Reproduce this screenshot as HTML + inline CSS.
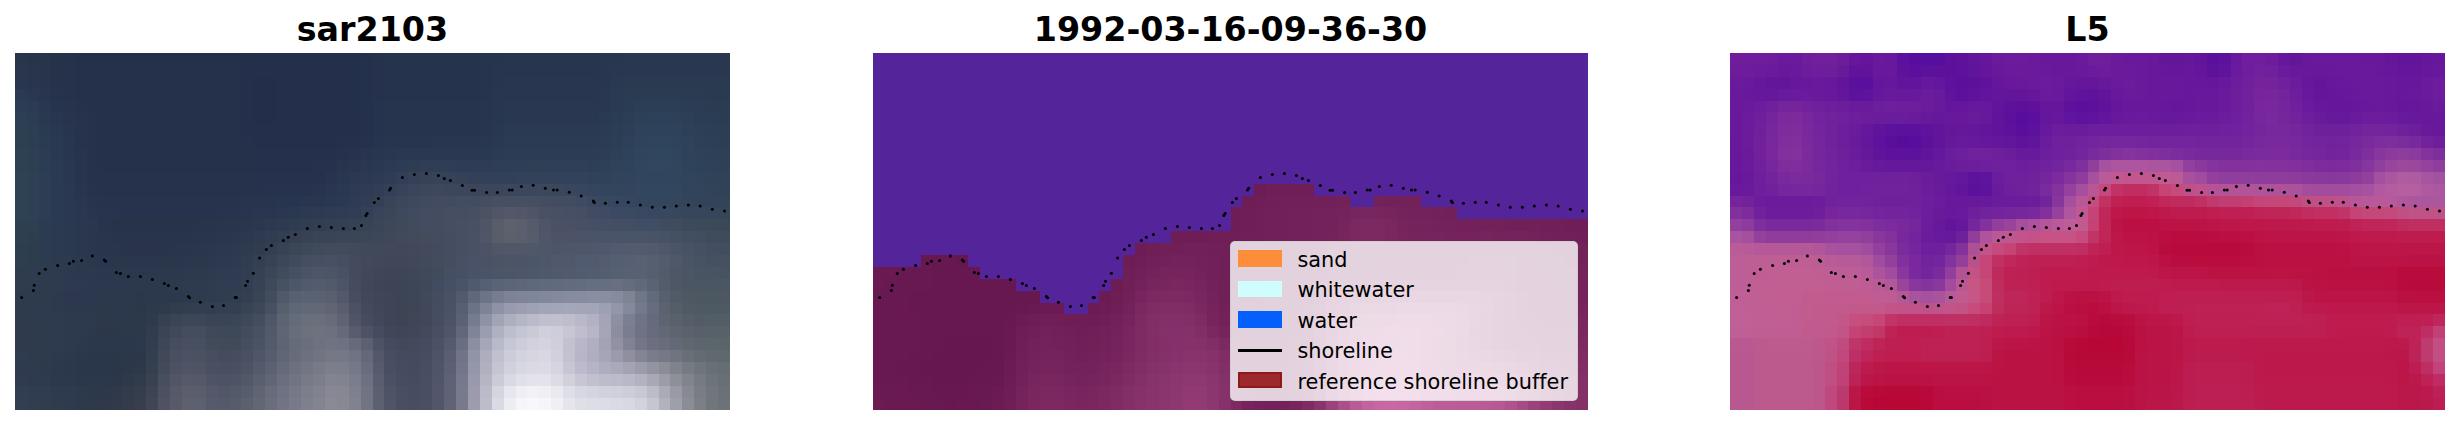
<!DOCTYPE html>
<html><head><meta charset="utf-8"><title>figure</title>
<style>
html,body{margin:0;padding:0;background:#fff;}
body{width:2460px;height:425px;position:relative;overflow:hidden;font-family:"DejaVu Sans","Liberation Sans",sans-serif;}
.pn,.dt{position:absolute;top:53px;display:block;}
.ttl{position:absolute;top:10px;width:715px;text-align:center;font-weight:bold;font-size:33.3px;line-height:40px;color:#000;white-space:nowrap;}
.lg{position:absolute;left:1229.5px;top:240.5px;width:346.5px;height:158px;background:rgba(255,255,255,.8);border:1px solid rgba(204,204,204,.8);border-radius:5px;}
.lg .h{position:absolute;left:7.2px;width:44.3px;height:16.6px;box-sizing:border-box;}
.lg .t{font-variant-ligatures:none;position:absolute;left:67px;font-size:20.83px;line-height:24px;color:#000;white-space:nowrap;}
</style></head><body>
<div class="ttl" style="left:15px">sar2103</div>
<div class="ttl" style="left:873px">1992-03-16-09-36-30</div>
<div class="ttl" style="left:1730px">L5</div>
<svg class="pn" style="left:15px" width="715.0" height="356.5" viewBox="0 0 60 30" preserveAspectRatio="none" shape-rendering="crispEdges">
<rect x="0" y="0" width="1" height="1" fill="#293549"/>
<rect x="1" y="0" width="1" height="1" fill="#283449"/>
<rect x="2" y="0" width="1" height="1" fill="#28344a"/>
<rect x="3" y="0" width="1" height="1" fill="#26324a"/>
<rect x="4" y="0" width="1" height="1" fill="#26314a"/>
<rect x="5" y="0" width="14" height="1" fill="#25304a"/>
<rect x="19" y="0" width="1" height="1" fill="#24304a"/>
<rect x="20" y="0" width="1" height="1" fill="#242f4b"/>
<rect x="21" y="0" width="1" height="1" fill="#232f4b"/>
<rect x="22" y="0" width="7" height="1" fill="#24304b"/>
<rect x="29" y="0" width="1" height="1" fill="#24314c"/>
<rect x="30" y="0" width="1" height="1" fill="#26324c"/>
<rect x="31" y="0" width="8" height="1" fill="#26334d"/>
<rect x="39" y="0" width="1" height="1" fill="#26344d"/>
<rect x="40" y="0" width="1" height="1" fill="#27344e"/>
<rect x="41" y="0" width="8" height="1" fill="#27354e"/>
<rect x="49" y="0" width="1" height="1" fill="#28364e"/>
<rect x="50" y="0" width="1" height="1" fill="#28374f"/>
<rect x="51" y="0" width="9" height="1" fill="#29384f"/>
<rect x="0" y="1" width="1" height="1" fill="#29364b"/>
<rect x="1" y="1" width="1" height="1" fill="#28354b"/>
<rect x="2" y="1" width="1" height="1" fill="#28344a"/>
<rect x="3" y="1" width="1" height="1" fill="#26324a"/>
<rect x="4" y="1" width="1" height="1" fill="#26314a"/>
<rect x="5" y="1" width="14" height="1" fill="#25304a"/>
<rect x="19" y="1" width="1" height="1" fill="#24304a"/>
<rect x="20" y="1" width="2" height="1" fill="#232f4b"/>
<rect x="22" y="1" width="7" height="1" fill="#24304b"/>
<rect x="29" y="1" width="1" height="1" fill="#24314c"/>
<rect x="30" y="1" width="1" height="1" fill="#26324c"/>
<rect x="31" y="1" width="8" height="1" fill="#26334d"/>
<rect x="39" y="1" width="1" height="1" fill="#26344d"/>
<rect x="40" y="1" width="9" height="1" fill="#27354e"/>
<rect x="49" y="1" width="1" height="1" fill="#28364f"/>
<rect x="50" y="1" width="1" height="1" fill="#29384f"/>
<rect x="51" y="1" width="9" height="1" fill="#293850"/>
<rect x="0" y="2" width="1" height="1" fill="#29374e"/>
<rect x="1" y="2" width="1" height="1" fill="#28364d"/>
<rect x="2" y="2" width="1" height="1" fill="#28344c"/>
<rect x="3" y="2" width="1" height="1" fill="#26324b"/>
<rect x="4" y="2" width="1" height="1" fill="#26314b"/>
<rect x="5" y="2" width="14" height="1" fill="#25304b"/>
<rect x="19" y="2" width="1" height="1" fill="#24304b"/>
<rect x="20" y="2" width="2" height="1" fill="#232f4a"/>
<rect x="22" y="2" width="7" height="1" fill="#24304b"/>
<rect x="29" y="2" width="1" height="1" fill="#24314c"/>
<rect x="30" y="2" width="1" height="1" fill="#26324c"/>
<rect x="31" y="2" width="8" height="1" fill="#26334d"/>
<rect x="39" y="2" width="1" height="1" fill="#26344d"/>
<rect x="40" y="2" width="1" height="1" fill="#27354e"/>
<rect x="41" y="2" width="8" height="1" fill="#28364f"/>
<rect x="49" y="2" width="1" height="1" fill="#28374f"/>
<rect x="50" y="2" width="1" height="1" fill="#293950"/>
<rect x="51" y="2" width="9" height="1" fill="#2a3a50"/>
<rect x="0" y="3" width="1" height="1" fill="#2a3a51"/>
<rect x="1" y="3" width="1" height="1" fill="#293850"/>
<rect x="2" y="3" width="1" height="1" fill="#28354d"/>
<rect x="3" y="3" width="1" height="1" fill="#27334c"/>
<rect x="4" y="3" width="1" height="1" fill="#26314b"/>
<rect x="5" y="3" width="14" height="1" fill="#25304b"/>
<rect x="19" y="3" width="1" height="1" fill="#24304b"/>
<rect x="20" y="3" width="1" height="1" fill="#232e4a"/>
<rect x="21" y="3" width="1" height="1" fill="#222e4a"/>
<rect x="22" y="3" width="7" height="1" fill="#24304b"/>
<rect x="29" y="3" width="1" height="1" fill="#24314c"/>
<rect x="30" y="3" width="1" height="1" fill="#26324d"/>
<rect x="31" y="3" width="8" height="1" fill="#26334d"/>
<rect x="39" y="3" width="1" height="1" fill="#27344e"/>
<rect x="40" y="3" width="9" height="1" fill="#28364f"/>
<rect x="49" y="3" width="1" height="1" fill="#293850"/>
<rect x="50" y="3" width="1" height="1" fill="#2a3a51"/>
<rect x="51" y="3" width="2" height="1" fill="#2a3b52"/>
<rect x="53" y="3" width="2" height="1" fill="#2a3c52"/>
<rect x="55" y="3" width="3" height="1" fill="#2a3b52"/>
<rect x="58" y="3" width="1" height="1" fill="#2a3b51"/>
<rect x="59" y="3" width="1" height="1" fill="#2a3a51"/>
<rect x="0" y="4" width="1" height="1" fill="#2b3d53"/>
<rect x="1" y="4" width="1" height="1" fill="#2a3b52"/>
<rect x="2" y="4" width="1" height="1" fill="#29374f"/>
<rect x="3" y="4" width="1" height="1" fill="#27344d"/>
<rect x="4" y="4" width="1" height="1" fill="#27324c"/>
<rect x="5" y="4" width="1" height="1" fill="#26314c"/>
<rect x="6" y="4" width="13" height="1" fill="#25304b"/>
<rect x="19" y="4" width="1" height="1" fill="#24304b"/>
<rect x="20" y="4" width="1" height="1" fill="#232e4a"/>
<rect x="21" y="4" width="1" height="1" fill="#222e4a"/>
<rect x="22" y="4" width="7" height="1" fill="#24304b"/>
<rect x="29" y="4" width="1" height="1" fill="#24314c"/>
<rect x="30" y="4" width="1" height="1" fill="#26334d"/>
<rect x="31" y="4" width="8" height="1" fill="#26344e"/>
<rect x="39" y="4" width="1" height="1" fill="#27354e"/>
<rect x="40" y="4" width="1" height="1" fill="#28374f"/>
<rect x="41" y="4" width="8" height="1" fill="#293850"/>
<rect x="49" y="4" width="1" height="1" fill="#293851"/>
<rect x="50" y="4" width="1" height="1" fill="#2a3a52"/>
<rect x="51" y="4" width="1" height="1" fill="#2a3c54"/>
<rect x="52" y="4" width="1" height="1" fill="#2b3e54"/>
<rect x="53" y="4" width="2" height="1" fill="#2c3e55"/>
<rect x="55" y="4" width="1" height="1" fill="#2b3e54"/>
<rect x="56" y="4" width="1" height="1" fill="#2b3d54"/>
<rect x="57" y="4" width="1" height="1" fill="#2b3c53"/>
<rect x="58" y="4" width="2" height="1" fill="#2b3c52"/>
<rect x="0" y="5" width="1" height="1" fill="#2c3f54"/>
<rect x="1" y="5" width="1" height="1" fill="#2b3d52"/>
<rect x="2" y="5" width="1" height="1" fill="#293950"/>
<rect x="3" y="5" width="1" height="1" fill="#28364e"/>
<rect x="4" y="5" width="1" height="1" fill="#28344d"/>
<rect x="5" y="5" width="1" height="1" fill="#27324c"/>
<rect x="6" y="5" width="1" height="1" fill="#26314b"/>
<rect x="7" y="5" width="12" height="1" fill="#25304b"/>
<rect x="19" y="5" width="1" height="1" fill="#24304b"/>
<rect x="20" y="5" width="2" height="1" fill="#232f4a"/>
<rect x="22" y="5" width="7" height="1" fill="#24304b"/>
<rect x="29" y="5" width="1" height="1" fill="#25314c"/>
<rect x="30" y="5" width="1" height="1" fill="#26334d"/>
<rect x="31" y="5" width="8" height="1" fill="#26344e"/>
<rect x="39" y="5" width="1" height="1" fill="#27354f"/>
<rect x="40" y="5" width="1" height="1" fill="#283750"/>
<rect x="41" y="5" width="8" height="1" fill="#293850"/>
<rect x="49" y="5" width="1" height="1" fill="#2a3a52"/>
<rect x="50" y="5" width="1" height="1" fill="#2a3c54"/>
<rect x="51" y="5" width="1" height="1" fill="#2b3e55"/>
<rect x="52" y="5" width="1" height="1" fill="#2c4057"/>
<rect x="53" y="5" width="2" height="1" fill="#2d4158"/>
<rect x="55" y="5" width="1" height="1" fill="#2c4057"/>
<rect x="56" y="5" width="1" height="1" fill="#2c3f56"/>
<rect x="57" y="5" width="1" height="1" fill="#2b3d54"/>
<rect x="58" y="5" width="1" height="1" fill="#2b3d53"/>
<rect x="59" y="5" width="1" height="1" fill="#2b3c52"/>
<rect x="0" y="6" width="1" height="1" fill="#2d3f52"/>
<rect x="1" y="6" width="1" height="1" fill="#2c3e52"/>
<rect x="2" y="6" width="1" height="1" fill="#2a3a51"/>
<rect x="3" y="6" width="1" height="1" fill="#283850"/>
<rect x="4" y="6" width="1" height="1" fill="#28354e"/>
<rect x="5" y="6" width="1" height="1" fill="#27334d"/>
<rect x="6" y="6" width="1" height="1" fill="#26314c"/>
<rect x="7" y="6" width="12" height="1" fill="#25304b"/>
<rect x="19" y="6" width="1" height="1" fill="#24304b"/>
<rect x="20" y="6" width="2" height="1" fill="#232f4b"/>
<rect x="22" y="6" width="7" height="1" fill="#24304b"/>
<rect x="29" y="6" width="1" height="1" fill="#25314c"/>
<rect x="30" y="6" width="1" height="1" fill="#26334d"/>
<rect x="31" y="6" width="8" height="1" fill="#27344e"/>
<rect x="39" y="6" width="1" height="1" fill="#28354f"/>
<rect x="40" y="6" width="1" height="1" fill="#293851"/>
<rect x="41" y="6" width="8" height="1" fill="#2a3a52"/>
<rect x="49" y="6" width="1" height="1" fill="#2a3b52"/>
<rect x="50" y="6" width="1" height="1" fill="#2b3d54"/>
<rect x="51" y="6" width="1" height="1" fill="#2c3f57"/>
<rect x="52" y="6" width="1" height="1" fill="#2e425a"/>
<rect x="53" y="6" width="2" height="1" fill="#2e435b"/>
<rect x="55" y="6" width="1" height="1" fill="#2e425a"/>
<rect x="56" y="6" width="1" height="1" fill="#2d4058"/>
<rect x="57" y="6" width="1" height="1" fill="#2c3f56"/>
<rect x="58" y="6" width="2" height="1" fill="#2c3e54"/>
<rect x="0" y="7" width="1" height="1" fill="#2d4052"/>
<rect x="1" y="7" width="1" height="1" fill="#2c3e52"/>
<rect x="2" y="7" width="1" height="1" fill="#2a3c52"/>
<rect x="3" y="7" width="1" height="1" fill="#293951"/>
<rect x="4" y="7" width="1" height="1" fill="#28364f"/>
<rect x="5" y="7" width="1" height="1" fill="#27334d"/>
<rect x="6" y="7" width="1" height="1" fill="#26314c"/>
<rect x="7" y="7" width="13" height="1" fill="#25304b"/>
<rect x="20" y="7" width="1" height="1" fill="#242f4b"/>
<rect x="21" y="7" width="1" height="1" fill="#232f4b"/>
<rect x="22" y="7" width="5" height="1" fill="#24304b"/>
<rect x="27" y="7" width="2" height="1" fill="#25314c"/>
<rect x="29" y="7" width="1" height="1" fill="#26324d"/>
<rect x="30" y="7" width="1" height="1" fill="#27344e"/>
<rect x="31" y="7" width="4" height="1" fill="#28354f"/>
<rect x="35" y="7" width="4" height="1" fill="#28364f"/>
<rect x="39" y="7" width="1" height="1" fill="#293750"/>
<rect x="40" y="7" width="1" height="1" fill="#2a3952"/>
<rect x="41" y="7" width="8" height="1" fill="#2a3b53"/>
<rect x="49" y="7" width="1" height="1" fill="#2b3c54"/>
<rect x="50" y="7" width="1" height="1" fill="#2c3e56"/>
<rect x="51" y="7" width="1" height="1" fill="#2d4158"/>
<rect x="52" y="7" width="1" height="1" fill="#2f445c"/>
<rect x="53" y="7" width="2" height="1" fill="#2f455d"/>
<rect x="55" y="7" width="1" height="1" fill="#2f445c"/>
<rect x="56" y="7" width="1" height="1" fill="#2e4259"/>
<rect x="57" y="7" width="1" height="1" fill="#2d4057"/>
<rect x="58" y="7" width="1" height="1" fill="#2c3f55"/>
<rect x="59" y="7" width="1" height="1" fill="#2c3e54"/>
<rect x="0" y="8" width="1" height="1" fill="#2e4053"/>
<rect x="1" y="8" width="1" height="1" fill="#2d3f53"/>
<rect x="2" y="8" width="1" height="1" fill="#2b3c53"/>
<rect x="3" y="8" width="1" height="1" fill="#293952"/>
<rect x="4" y="8" width="1" height="1" fill="#283650"/>
<rect x="5" y="8" width="1" height="1" fill="#27344e"/>
<rect x="6" y="8" width="1" height="1" fill="#26314c"/>
<rect x="7" y="8" width="13" height="1" fill="#25304b"/>
<rect x="20" y="8" width="6" height="1" fill="#24304c"/>
<rect x="26" y="8" width="1" height="1" fill="#25314c"/>
<rect x="27" y="8" width="1" height="1" fill="#26324d"/>
<rect x="28" y="8" width="1" height="1" fill="#27334e"/>
<rect x="29" y="8" width="1" height="1" fill="#28354f"/>
<rect x="30" y="8" width="1" height="1" fill="#293650"/>
<rect x="31" y="8" width="1" height="1" fill="#293750"/>
<rect x="32" y="8" width="2" height="1" fill="#2a3851"/>
<rect x="34" y="8" width="5" height="1" fill="#2a3852"/>
<rect x="39" y="8" width="1" height="1" fill="#2a3952"/>
<rect x="40" y="8" width="1" height="1" fill="#2b3b54"/>
<rect x="41" y="8" width="8" height="1" fill="#2c3c54"/>
<rect x="49" y="8" width="1" height="1" fill="#2c3e55"/>
<rect x="50" y="8" width="1" height="1" fill="#2d4057"/>
<rect x="51" y="8" width="1" height="1" fill="#2e425a"/>
<rect x="52" y="8" width="1" height="1" fill="#2f455d"/>
<rect x="53" y="8" width="2" height="1" fill="#30465e"/>
<rect x="55" y="8" width="1" height="1" fill="#2f455d"/>
<rect x="56" y="8" width="1" height="1" fill="#2e435a"/>
<rect x="57" y="8" width="1" height="1" fill="#2e4158"/>
<rect x="58" y="8" width="2" height="1" fill="#2d4056"/>
<rect x="0" y="9" width="1" height="1" fill="#2e4153"/>
<rect x="1" y="9" width="1" height="1" fill="#2d4053"/>
<rect x="2" y="9" width="1" height="1" fill="#2b3d54"/>
<rect x="3" y="9" width="1" height="1" fill="#2a3a53"/>
<rect x="4" y="9" width="1" height="1" fill="#293750"/>
<rect x="5" y="9" width="1" height="1" fill="#28344e"/>
<rect x="6" y="9" width="1" height="1" fill="#26324c"/>
<rect x="7" y="9" width="13" height="1" fill="#25304b"/>
<rect x="20" y="9" width="1" height="1" fill="#25304c"/>
<rect x="21" y="9" width="4" height="1" fill="#24304c"/>
<rect x="25" y="9" width="1" height="1" fill="#25314d"/>
<rect x="26" y="9" width="1" height="1" fill="#26324d"/>
<rect x="27" y="9" width="1" height="1" fill="#28344e"/>
<rect x="28" y="9" width="1" height="1" fill="#29354f"/>
<rect x="29" y="9" width="1" height="1" fill="#2a3750"/>
<rect x="30" y="9" width="1" height="1" fill="#2b3852"/>
<rect x="31" y="9" width="1" height="1" fill="#2c3a52"/>
<rect x="32" y="9" width="1" height="1" fill="#2e3b54"/>
<rect x="33" y="9" width="1" height="1" fill="#2e3c54"/>
<rect x="34" y="9" width="3" height="1" fill="#2f3d55"/>
<rect x="37" y="9" width="2" height="1" fill="#2e3c55"/>
<rect x="39" y="9" width="1" height="1" fill="#2e3d55"/>
<rect x="40" y="9" width="3" height="1" fill="#2e3e56"/>
<rect x="43" y="9" width="2" height="1" fill="#2e3f56"/>
<rect x="45" y="9" width="3" height="1" fill="#2e3f57"/>
<rect x="48" y="9" width="1" height="1" fill="#2d3f57"/>
<rect x="49" y="9" width="1" height="1" fill="#2e4057"/>
<rect x="50" y="9" width="1" height="1" fill="#2e4259"/>
<rect x="51" y="9" width="1" height="1" fill="#2f445b"/>
<rect x="52" y="9" width="1" height="1" fill="#30465e"/>
<rect x="53" y="9" width="2" height="1" fill="#30475f"/>
<rect x="55" y="9" width="1" height="1" fill="#30465d"/>
<rect x="56" y="9" width="1" height="1" fill="#2f445b"/>
<rect x="57" y="9" width="1" height="1" fill="#2e4259"/>
<rect x="58" y="9" width="1" height="1" fill="#2e4157"/>
<rect x="59" y="9" width="1" height="1" fill="#2e4056"/>
<rect x="0" y="10" width="1" height="1" fill="#2f4253"/>
<rect x="1" y="10" width="1" height="1" fill="#2e4053"/>
<rect x="2" y="10" width="1" height="1" fill="#2c3d54"/>
<rect x="3" y="10" width="1" height="1" fill="#2a3a53"/>
<rect x="4" y="10" width="1" height="1" fill="#293750"/>
<rect x="5" y="10" width="1" height="1" fill="#28344e"/>
<rect x="6" y="10" width="1" height="1" fill="#26324c"/>
<rect x="7" y="10" width="13" height="1" fill="#26314b"/>
<rect x="20" y="10" width="1" height="1" fill="#26314c"/>
<rect x="21" y="10" width="5" height="1" fill="#26324d"/>
<rect x="26" y="10" width="1" height="1" fill="#28344f"/>
<rect x="27" y="10" width="1" height="1" fill="#2a3650"/>
<rect x="28" y="10" width="1" height="1" fill="#2c3851"/>
<rect x="29" y="10" width="1" height="1" fill="#2d3952"/>
<rect x="30" y="10" width="1" height="1" fill="#2e3a54"/>
<rect x="31" y="10" width="1" height="1" fill="#303c55"/>
<rect x="32" y="10" width="1" height="1" fill="#333f57"/>
<rect x="33" y="10" width="1" height="1" fill="#364158"/>
<rect x="34" y="10" width="1" height="1" fill="#374259"/>
<rect x="35" y="10" width="1" height="1" fill="#374359"/>
<rect x="36" y="10" width="1" height="1" fill="#364259"/>
<rect x="37" y="10" width="1" height="1" fill="#354158"/>
<rect x="38" y="10" width="1" height="1" fill="#344058"/>
<rect x="39" y="10" width="1" height="1" fill="#334058"/>
<rect x="40" y="10" width="2" height="1" fill="#334158"/>
<rect x="42" y="10" width="1" height="1" fill="#334159"/>
<rect x="43" y="10" width="2" height="1" fill="#344259"/>
<rect x="45" y="10" width="1" height="1" fill="#33425a"/>
<rect x="46" y="10" width="1" height="1" fill="#32425a"/>
<rect x="47" y="10" width="1" height="1" fill="#31425a"/>
<rect x="48" y="10" width="2" height="1" fill="#30425a"/>
<rect x="50" y="10" width="1" height="1" fill="#30435b"/>
<rect x="51" y="10" width="1" height="1" fill="#30445c"/>
<rect x="52" y="10" width="1" height="1" fill="#30465e"/>
<rect x="53" y="10" width="2" height="1" fill="#31465e"/>
<rect x="55" y="10" width="1" height="1" fill="#30465d"/>
<rect x="56" y="10" width="1" height="1" fill="#30445b"/>
<rect x="57" y="10" width="1" height="1" fill="#2f4359"/>
<rect x="58" y="10" width="1" height="1" fill="#2f4258"/>
<rect x="59" y="10" width="1" height="1" fill="#2e4258"/>
<rect x="0" y="11" width="1" height="1" fill="#2f4253"/>
<rect x="1" y="11" width="1" height="1" fill="#2e4053"/>
<rect x="2" y="11" width="1" height="1" fill="#2c3d54"/>
<rect x="3" y="11" width="1" height="1" fill="#2b3a53"/>
<rect x="4" y="11" width="1" height="1" fill="#2a3851"/>
<rect x="5" y="11" width="1" height="1" fill="#29354f"/>
<rect x="6" y="11" width="1" height="1" fill="#27334d"/>
<rect x="7" y="11" width="1" height="1" fill="#26324c"/>
<rect x="8" y="11" width="9" height="1" fill="#26314b"/>
<rect x="17" y="11" width="1" height="1" fill="#26324b"/>
<rect x="18" y="11" width="2" height="1" fill="#26324c"/>
<rect x="20" y="11" width="1" height="1" fill="#26324d"/>
<rect x="21" y="11" width="2" height="1" fill="#27334d"/>
<rect x="23" y="11" width="2" height="1" fill="#27334e"/>
<rect x="25" y="11" width="1" height="1" fill="#28344e"/>
<rect x="26" y="11" width="1" height="1" fill="#2a3650"/>
<rect x="27" y="11" width="1" height="1" fill="#2b3851"/>
<rect x="28" y="11" width="1" height="1" fill="#2d3a53"/>
<rect x="29" y="11" width="1" height="1" fill="#2f3b54"/>
<rect x="30" y="11" width="1" height="1" fill="#313d55"/>
<rect x="31" y="11" width="1" height="1" fill="#344057"/>
<rect x="32" y="11" width="1" height="1" fill="#38425a"/>
<rect x="33" y="11" width="1" height="1" fill="#3b455c"/>
<rect x="34" y="11" width="1" height="1" fill="#3d475c"/>
<rect x="35" y="11" width="1" height="1" fill="#3e475d"/>
<rect x="36" y="11" width="1" height="1" fill="#3d475c"/>
<rect x="37" y="11" width="1" height="1" fill="#3c465c"/>
<rect x="38" y="11" width="1" height="1" fill="#3b465b"/>
<rect x="39" y="11" width="2" height="1" fill="#3b465c"/>
<rect x="41" y="11" width="2" height="1" fill="#3b475c"/>
<rect x="43" y="11" width="2" height="1" fill="#3b475d"/>
<rect x="45" y="11" width="1" height="1" fill="#3a475d"/>
<rect x="46" y="11" width="1" height="1" fill="#39475e"/>
<rect x="47" y="11" width="1" height="1" fill="#37465e"/>
<rect x="48" y="11" width="1" height="1" fill="#35455d"/>
<rect x="49" y="11" width="1" height="1" fill="#33455c"/>
<rect x="50" y="11" width="2" height="1" fill="#32455d"/>
<rect x="52" y="11" width="3" height="1" fill="#32465e"/>
<rect x="55" y="11" width="1" height="1" fill="#32465d"/>
<rect x="56" y="11" width="1" height="1" fill="#31445b"/>
<rect x="57" y="11" width="1" height="1" fill="#31445a"/>
<rect x="58" y="11" width="1" height="1" fill="#304358"/>
<rect x="59" y="11" width="1" height="1" fill="#304258"/>
<rect x="0" y="12" width="1" height="1" fill="#2f4253"/>
<rect x="1" y="12" width="1" height="1" fill="#2e4053"/>
<rect x="2" y="12" width="1" height="1" fill="#2c3d54"/>
<rect x="3" y="12" width="1" height="1" fill="#2b3a53"/>
<rect x="4" y="12" width="1" height="1" fill="#2a3852"/>
<rect x="5" y="12" width="1" height="1" fill="#293650"/>
<rect x="6" y="12" width="1" height="1" fill="#28344e"/>
<rect x="7" y="12" width="1" height="1" fill="#27334d"/>
<rect x="8" y="12" width="9" height="1" fill="#27324c"/>
<rect x="17" y="12" width="1" height="1" fill="#27334c"/>
<rect x="18" y="12" width="1" height="1" fill="#27334d"/>
<rect x="19" y="12" width="1" height="1" fill="#28344d"/>
<rect x="20" y="12" width="2" height="1" fill="#28344e"/>
<rect x="22" y="12" width="1" height="1" fill="#28354e"/>
<rect x="23" y="12" width="1" height="1" fill="#28354f"/>
<rect x="24" y="12" width="1" height="1" fill="#29364f"/>
<rect x="25" y="12" width="1" height="1" fill="#2a3650"/>
<rect x="26" y="12" width="1" height="1" fill="#2b3851"/>
<rect x="27" y="12" width="1" height="1" fill="#2c3952"/>
<rect x="28" y="12" width="1" height="1" fill="#2e3b53"/>
<rect x="29" y="12" width="1" height="1" fill="#313d55"/>
<rect x="30" y="12" width="1" height="1" fill="#354057"/>
<rect x="31" y="12" width="1" height="1" fill="#394459"/>
<rect x="32" y="12" width="1" height="1" fill="#3c465c"/>
<rect x="33" y="12" width="1" height="1" fill="#3f495e"/>
<rect x="34" y="12" width="1" height="1" fill="#414a5e"/>
<rect x="35" y="12" width="1" height="1" fill="#424b5f"/>
<rect x="36" y="12" width="1" height="1" fill="#434b60"/>
<rect x="37" y="12" width="2" height="1" fill="#434c60"/>
<rect x="39" y="12" width="1" height="1" fill="#454d60"/>
<rect x="40" y="12" width="3" height="1" fill="#474f62"/>
<rect x="43" y="12" width="1" height="1" fill="#464e62"/>
<rect x="44" y="12" width="1" height="1" fill="#444d62"/>
<rect x="45" y="12" width="1" height="1" fill="#434c62"/>
<rect x="46" y="12" width="1" height="1" fill="#424c62"/>
<rect x="47" y="12" width="1" height="1" fill="#3f4b61"/>
<rect x="48" y="12" width="1" height="1" fill="#3b4960"/>
<rect x="49" y="12" width="1" height="1" fill="#38485f"/>
<rect x="50" y="12" width="1" height="1" fill="#36475f"/>
<rect x="51" y="12" width="1" height="1" fill="#34475f"/>
<rect x="52" y="12" width="1" height="1" fill="#34465e"/>
<rect x="53" y="12" width="1" height="1" fill="#33465e"/>
<rect x="54" y="12" width="1" height="1" fill="#33465d"/>
<rect x="55" y="12" width="1" height="1" fill="#33465c"/>
<rect x="56" y="12" width="1" height="1" fill="#33445b"/>
<rect x="57" y="12" width="1" height="1" fill="#33445a"/>
<rect x="58" y="12" width="2" height="1" fill="#334458"/>
<rect x="0" y="13" width="1" height="1" fill="#2f4253"/>
<rect x="1" y="13" width="1" height="1" fill="#2e4053"/>
<rect x="2" y="13" width="1" height="1" fill="#2c3d54"/>
<rect x="3" y="13" width="1" height="1" fill="#2b3a53"/>
<rect x="4" y="13" width="1" height="1" fill="#2a3952"/>
<rect x="5" y="13" width="1" height="1" fill="#2a3751"/>
<rect x="6" y="13" width="1" height="1" fill="#29354f"/>
<rect x="7" y="13" width="1" height="1" fill="#28344e"/>
<rect x="8" y="13" width="1" height="1" fill="#28334d"/>
<rect x="9" y="13" width="6" height="1" fill="#27324c"/>
<rect x="15" y="13" width="2" height="1" fill="#27334c"/>
<rect x="17" y="13" width="1" height="1" fill="#28344d"/>
<rect x="18" y="13" width="1" height="1" fill="#28344e"/>
<rect x="19" y="13" width="1" height="1" fill="#29354e"/>
<rect x="20" y="13" width="1" height="1" fill="#29364f"/>
<rect x="21" y="13" width="1" height="1" fill="#2a364f"/>
<rect x="22" y="13" width="1" height="1" fill="#2b3750"/>
<rect x="23" y="13" width="1" height="1" fill="#2b3851"/>
<rect x="24" y="13" width="1" height="1" fill="#2c3951"/>
<rect x="25" y="13" width="1" height="1" fill="#2d3a52"/>
<rect x="26" y="13" width="1" height="1" fill="#2e3b53"/>
<rect x="27" y="13" width="1" height="1" fill="#2f3c54"/>
<rect x="28" y="13" width="1" height="1" fill="#313d55"/>
<rect x="29" y="13" width="1" height="1" fill="#344057"/>
<rect x="30" y="13" width="1" height="1" fill="#394359"/>
<rect x="31" y="13" width="1" height="1" fill="#3c465b"/>
<rect x="32" y="13" width="1" height="1" fill="#3f495d"/>
<rect x="33" y="13" width="1" height="1" fill="#414a5e"/>
<rect x="34" y="13" width="1" height="1" fill="#434c60"/>
<rect x="35" y="13" width="1" height="1" fill="#444c60"/>
<rect x="36" y="13" width="1" height="1" fill="#464e62"/>
<rect x="37" y="13" width="1" height="1" fill="#474e62"/>
<rect x="38" y="13" width="1" height="1" fill="#484f62"/>
<rect x="39" y="13" width="1" height="1" fill="#4c5264"/>
<rect x="40" y="13" width="1" height="1" fill="#505667"/>
<rect x="41" y="13" width="1" height="1" fill="#525868"/>
<rect x="42" y="13" width="1" height="1" fill="#515767"/>
<rect x="43" y="13" width="1" height="1" fill="#4f5466"/>
<rect x="44" y="13" width="1" height="1" fill="#4b5165"/>
<rect x="45" y="13" width="1" height="1" fill="#485064"/>
<rect x="46" y="13" width="1" height="1" fill="#484f64"/>
<rect x="47" y="13" width="1" height="1" fill="#454e64"/>
<rect x="48" y="13" width="1" height="1" fill="#414c62"/>
<rect x="49" y="13" width="1" height="1" fill="#3e4b62"/>
<rect x="50" y="13" width="1" height="1" fill="#3b4a62"/>
<rect x="51" y="13" width="1" height="1" fill="#3a4a61"/>
<rect x="52" y="13" width="1" height="1" fill="#384960"/>
<rect x="53" y="13" width="1" height="1" fill="#384860"/>
<rect x="54" y="13" width="1" height="1" fill="#38485e"/>
<rect x="55" y="13" width="1" height="1" fill="#37485d"/>
<rect x="56" y="13" width="1" height="1" fill="#37465c"/>
<rect x="57" y="13" width="1" height="1" fill="#37465b"/>
<rect x="58" y="13" width="1" height="1" fill="#37465a"/>
<rect x="59" y="13" width="1" height="1" fill="#364659"/>
<rect x="0" y="14" width="1" height="1" fill="#2e404f"/>
<rect x="1" y="14" width="1" height="1" fill="#2d3f50"/>
<rect x="2" y="14" width="1" height="1" fill="#2c3c50"/>
<rect x="3" y="14" width="1" height="1" fill="#2b3a50"/>
<rect x="4" y="14" width="1" height="1" fill="#2a394f"/>
<rect x="5" y="14" width="1" height="1" fill="#2a374e"/>
<rect x="6" y="14" width="1" height="1" fill="#29364d"/>
<rect x="7" y="14" width="1" height="1" fill="#28344b"/>
<rect x="8" y="14" width="7" height="1" fill="#28334a"/>
<rect x="15" y="14" width="2" height="1" fill="#28344a"/>
<rect x="17" y="14" width="2" height="1" fill="#29354b"/>
<rect x="19" y="14" width="1" height="1" fill="#2a364c"/>
<rect x="20" y="14" width="1" height="1" fill="#2b374d"/>
<rect x="21" y="14" width="1" height="1" fill="#2d394e"/>
<rect x="22" y="14" width="1" height="1" fill="#2e3a4f"/>
<rect x="23" y="14" width="1" height="1" fill="#303c50"/>
<rect x="24" y="14" width="1" height="1" fill="#313d51"/>
<rect x="25" y="14" width="1" height="1" fill="#333e52"/>
<rect x="26" y="14" width="1" height="1" fill="#343f53"/>
<rect x="27" y="14" width="1" height="1" fill="#354054"/>
<rect x="28" y="14" width="1" height="1" fill="#364155"/>
<rect x="29" y="14" width="1" height="1" fill="#384356"/>
<rect x="30" y="14" width="1" height="1" fill="#3b4558"/>
<rect x="31" y="14" width="1" height="1" fill="#3e4759"/>
<rect x="32" y="14" width="1" height="1" fill="#40495a"/>
<rect x="33" y="14" width="1" height="1" fill="#424a5c"/>
<rect x="34" y="14" width="1" height="1" fill="#434c60"/>
<rect x="35" y="14" width="1" height="1" fill="#444c60"/>
<rect x="36" y="14" width="1" height="1" fill="#464e62"/>
<rect x="37" y="14" width="1" height="1" fill="#474f62"/>
<rect x="38" y="14" width="1" height="1" fill="#4a5063"/>
<rect x="39" y="14" width="1" height="1" fill="#505566"/>
<rect x="40" y="14" width="1" height="1" fill="#585d6a"/>
<rect x="41" y="14" width="1" height="1" fill="#5c616c"/>
<rect x="42" y="14" width="1" height="1" fill="#5a5f6d"/>
<rect x="43" y="14" width="1" height="1" fill="#565b6b"/>
<rect x="44" y="14" width="1" height="1" fill="#4f5467"/>
<rect x="45" y="14" width="2" height="1" fill="#4a5166"/>
<rect x="47" y="14" width="1" height="1" fill="#485065"/>
<rect x="48" y="14" width="1" height="1" fill="#464f65"/>
<rect x="49" y="14" width="1" height="1" fill="#444e64"/>
<rect x="50" y="14" width="1" height="1" fill="#434e64"/>
<rect x="51" y="14" width="1" height="1" fill="#424e64"/>
<rect x="52" y="14" width="1" height="1" fill="#404e64"/>
<rect x="53" y="14" width="1" height="1" fill="#404d64"/>
<rect x="54" y="14" width="1" height="1" fill="#3f4c60"/>
<rect x="55" y="14" width="1" height="1" fill="#3e4c5e"/>
<rect x="56" y="14" width="1" height="1" fill="#3d4a5c"/>
<rect x="57" y="14" width="1" height="1" fill="#3d4a5b"/>
<rect x="58" y="14" width="1" height="1" fill="#3c4959"/>
<rect x="59" y="14" width="1" height="1" fill="#3c4858"/>
<rect x="0" y="15" width="1" height="1" fill="#2e404f"/>
<rect x="1" y="15" width="1" height="1" fill="#2d3e4f"/>
<rect x="2" y="15" width="1" height="1" fill="#2c3c50"/>
<rect x="3" y="15" width="1" height="1" fill="#2b3a50"/>
<rect x="4" y="15" width="1" height="1" fill="#2a394f"/>
<rect x="5" y="15" width="1" height="1" fill="#2a374e"/>
<rect x="6" y="15" width="1" height="1" fill="#2a364d"/>
<rect x="7" y="15" width="1" height="1" fill="#29354c"/>
<rect x="8" y="15" width="1" height="1" fill="#28344b"/>
<rect x="9" y="15" width="6" height="1" fill="#28344a"/>
<rect x="15" y="15" width="2" height="1" fill="#29354b"/>
<rect x="17" y="15" width="1" height="1" fill="#2a364c"/>
<rect x="18" y="15" width="1" height="1" fill="#2b374c"/>
<rect x="19" y="15" width="1" height="1" fill="#2c384e"/>
<rect x="20" y="15" width="1" height="1" fill="#2e3a4f"/>
<rect x="21" y="15" width="1" height="1" fill="#303c51"/>
<rect x="22" y="15" width="1" height="1" fill="#333e52"/>
<rect x="23" y="15" width="1" height="1" fill="#354053"/>
<rect x="24" y="15" width="1" height="1" fill="#384255"/>
<rect x="25" y="15" width="1" height="1" fill="#394456"/>
<rect x="26" y="15" width="1" height="1" fill="#3a4457"/>
<rect x="27" y="15" width="2" height="1" fill="#3b4558"/>
<rect x="29" y="15" width="1" height="1" fill="#3c4658"/>
<rect x="30" y="15" width="1" height="1" fill="#3e4659"/>
<rect x="31" y="15" width="1" height="1" fill="#3f4759"/>
<rect x="32" y="15" width="1" height="1" fill="#41495a"/>
<rect x="33" y="15" width="1" height="1" fill="#424a5b"/>
<rect x="34" y="15" width="1" height="1" fill="#434b5c"/>
<rect x="35" y="15" width="1" height="1" fill="#444c60"/>
<rect x="36" y="15" width="1" height="1" fill="#454d61"/>
<rect x="37" y="15" width="1" height="1" fill="#474f63"/>
<rect x="38" y="15" width="1" height="1" fill="#4a5164"/>
<rect x="39" y="15" width="1" height="1" fill="#505666"/>
<rect x="40" y="15" width="1" height="1" fill="#585d6a"/>
<rect x="41" y="15" width="1" height="1" fill="#5c606c"/>
<rect x="42" y="15" width="1" height="1" fill="#5a5f6d"/>
<rect x="43" y="15" width="1" height="1" fill="#565c6c"/>
<rect x="44" y="15" width="1" height="1" fill="#505669"/>
<rect x="45" y="15" width="2" height="1" fill="#4c5367"/>
<rect x="47" y="15" width="2" height="1" fill="#4b5368"/>
<rect x="49" y="15" width="1" height="1" fill="#4a5368"/>
<rect x="50" y="15" width="1" height="1" fill="#4a5369"/>
<rect x="51" y="15" width="1" height="1" fill="#4a5469"/>
<rect x="52" y="15" width="1" height="1" fill="#495469"/>
<rect x="53" y="15" width="1" height="1" fill="#485368"/>
<rect x="54" y="15" width="1" height="1" fill="#475267"/>
<rect x="55" y="15" width="1" height="1" fill="#455065"/>
<rect x="56" y="15" width="1" height="1" fill="#434e62"/>
<rect x="57" y="15" width="1" height="1" fill="#414d60"/>
<rect x="58" y="15" width="1" height="1" fill="#404c5b"/>
<rect x="59" y="15" width="1" height="1" fill="#404b5a"/>
<rect x="0" y="16" width="1" height="1" fill="#2d3e4e"/>
<rect x="1" y="16" width="1" height="1" fill="#2d3d4e"/>
<rect x="2" y="16" width="1" height="1" fill="#2c3b4f"/>
<rect x="3" y="16" width="1" height="1" fill="#2b3a4f"/>
<rect x="4" y="16" width="1" height="1" fill="#2b394f"/>
<rect x="5" y="16" width="1" height="1" fill="#2a374e"/>
<rect x="6" y="16" width="1" height="1" fill="#2a364d"/>
<rect x="7" y="16" width="1" height="1" fill="#2a354c"/>
<rect x="8" y="16" width="1" height="1" fill="#29354b"/>
<rect x="9" y="16" width="4" height="1" fill="#29344b"/>
<rect x="13" y="16" width="2" height="1" fill="#29354b"/>
<rect x="15" y="16" width="1" height="1" fill="#2a364b"/>
<rect x="16" y="16" width="1" height="1" fill="#2a374c"/>
<rect x="17" y="16" width="1" height="1" fill="#2b384d"/>
<rect x="18" y="16" width="1" height="1" fill="#2c394e"/>
<rect x="19" y="16" width="1" height="1" fill="#2e3a4f"/>
<rect x="20" y="16" width="1" height="1" fill="#313c51"/>
<rect x="21" y="16" width="1" height="1" fill="#343f53"/>
<rect x="22" y="16" width="1" height="1" fill="#394355"/>
<rect x="23" y="16" width="1" height="1" fill="#3c4657"/>
<rect x="24" y="16" width="1" height="1" fill="#3f4859"/>
<rect x="25" y="16" width="1" height="1" fill="#414a5b"/>
<rect x="26" y="16" width="2" height="1" fill="#424a5c"/>
<rect x="28" y="16" width="1" height="1" fill="#41495b"/>
<rect x="29" y="16" width="1" height="1" fill="#40485a"/>
<rect x="30" y="16" width="3" height="1" fill="#404859"/>
<rect x="33" y="16" width="1" height="1" fill="#41495a"/>
<rect x="34" y="16" width="1" height="1" fill="#424a5b"/>
<rect x="35" y="16" width="1" height="1" fill="#434b5f"/>
<rect x="36" y="16" width="1" height="1" fill="#454d61"/>
<rect x="37" y="16" width="1" height="1" fill="#474f63"/>
<rect x="38" y="16" width="1" height="1" fill="#495165"/>
<rect x="39" y="16" width="1" height="1" fill="#4c5366"/>
<rect x="40" y="16" width="1" height="1" fill="#505666"/>
<rect x="41" y="16" width="1" height="1" fill="#515767"/>
<rect x="42" y="16" width="1" height="1" fill="#515768"/>
<rect x="43" y="16" width="1" height="1" fill="#505769"/>
<rect x="44" y="16" width="1" height="1" fill="#4e5669"/>
<rect x="45" y="16" width="1" height="1" fill="#4e5569"/>
<rect x="46" y="16" width="1" height="1" fill="#4e566a"/>
<rect x="47" y="16" width="1" height="1" fill="#4f576b"/>
<rect x="48" y="16" width="1" height="1" fill="#4f576c"/>
<rect x="49" y="16" width="1" height="1" fill="#50586d"/>
<rect x="50" y="16" width="1" height="1" fill="#515a6e"/>
<rect x="51" y="16" width="1" height="1" fill="#525b6f"/>
<rect x="52" y="16" width="1" height="1" fill="#535b6f"/>
<rect x="53" y="16" width="1" height="1" fill="#525a6e"/>
<rect x="54" y="16" width="1" height="1" fill="#4f586b"/>
<rect x="55" y="16" width="1" height="1" fill="#4c5568"/>
<rect x="56" y="16" width="1" height="1" fill="#485265"/>
<rect x="57" y="16" width="1" height="1" fill="#455062"/>
<rect x="58" y="16" width="1" height="1" fill="#434e60"/>
<rect x="59" y="16" width="1" height="1" fill="#424d5f"/>
<rect x="0" y="17" width="1" height="1" fill="#2e3e4e"/>
<rect x="1" y="17" width="1" height="1" fill="#2d3d4e"/>
<rect x="2" y="17" width="1" height="1" fill="#2c3b4f"/>
<rect x="3" y="17" width="1" height="1" fill="#2c3a4f"/>
<rect x="4" y="17" width="1" height="1" fill="#2c394f"/>
<rect x="5" y="17" width="1" height="1" fill="#2b384e"/>
<rect x="6" y="17" width="1" height="1" fill="#2b374e"/>
<rect x="7" y="17" width="1" height="1" fill="#2a364d"/>
<rect x="8" y="17" width="1" height="1" fill="#2a364c"/>
<rect x="9" y="17" width="4" height="1" fill="#2a364b"/>
<rect x="13" y="17" width="1" height="1" fill="#2a364c"/>
<rect x="14" y="17" width="1" height="1" fill="#2b374c"/>
<rect x="15" y="17" width="1" height="1" fill="#2b384c"/>
<rect x="16" y="17" width="1" height="1" fill="#2c384e"/>
<rect x="17" y="17" width="1" height="1" fill="#2d394e"/>
<rect x="18" y="17" width="1" height="1" fill="#2e3a4f"/>
<rect x="19" y="17" width="1" height="1" fill="#303c51"/>
<rect x="20" y="17" width="1" height="1" fill="#343f53"/>
<rect x="21" y="17" width="1" height="1" fill="#384255"/>
<rect x="22" y="17" width="1" height="1" fill="#3d4759"/>
<rect x="23" y="17" width="1" height="1" fill="#424b5c"/>
<rect x="24" y="17" width="1" height="1" fill="#454e62"/>
<rect x="25" y="17" width="1" height="1" fill="#475063"/>
<rect x="26" y="17" width="1" height="1" fill="#485063"/>
<rect x="27" y="17" width="1" height="1" fill="#474e62"/>
<rect x="28" y="17" width="1" height="1" fill="#444b5f"/>
<rect x="29" y="17" width="1" height="1" fill="#41495a"/>
<rect x="30" y="17" width="1" height="1" fill="#404859"/>
<rect x="31" y="17" width="2" height="1" fill="#3f4758"/>
<rect x="33" y="17" width="1" height="1" fill="#404859"/>
<rect x="34" y="17" width="1" height="1" fill="#41495a"/>
<rect x="35" y="17" width="1" height="1" fill="#434b5c"/>
<rect x="36" y="17" width="1" height="1" fill="#454d61"/>
<rect x="37" y="17" width="1" height="1" fill="#475064"/>
<rect x="38" y="17" width="1" height="1" fill="#495266"/>
<rect x="39" y="17" width="1" height="1" fill="#4a5366"/>
<rect x="40" y="17" width="1" height="1" fill="#4c5366"/>
<rect x="41" y="17" width="1" height="1" fill="#4c5466"/>
<rect x="42" y="17" width="1" height="1" fill="#4c5467"/>
<rect x="43" y="17" width="1" height="1" fill="#4d5668"/>
<rect x="44" y="17" width="1" height="1" fill="#4e566a"/>
<rect x="45" y="17" width="1" height="1" fill="#4f586c"/>
<rect x="46" y="17" width="1" height="1" fill="#50586c"/>
<rect x="47" y="17" width="1" height="1" fill="#515a6e"/>
<rect x="48" y="17" width="1" height="1" fill="#525a6e"/>
<rect x="49" y="17" width="1" height="1" fill="#545c70"/>
<rect x="50" y="17" width="1" height="1" fill="#565e72"/>
<rect x="51" y="17" width="1" height="1" fill="#575f72"/>
<rect x="52" y="17" width="1" height="1" fill="#586072"/>
<rect x="53" y="17" width="1" height="1" fill="#565e70"/>
<rect x="54" y="17" width="1" height="1" fill="#535b6c"/>
<rect x="55" y="17" width="1" height="1" fill="#4f5869"/>
<rect x="56" y="17" width="1" height="1" fill="#4b5465"/>
<rect x="57" y="17" width="1" height="1" fill="#485263"/>
<rect x="58" y="17" width="1" height="1" fill="#465061"/>
<rect x="59" y="17" width="1" height="1" fill="#465060"/>
<rect x="0" y="18" width="2" height="1" fill="#2f3c4f"/>
<rect x="2" y="18" width="1" height="1" fill="#2e3b4f"/>
<rect x="3" y="18" width="1" height="1" fill="#2d3a4f"/>
<rect x="4" y="18" width="1" height="1" fill="#2d394f"/>
<rect x="5" y="18" width="1" height="1" fill="#2d384e"/>
<rect x="6" y="18" width="1" height="1" fill="#2c384e"/>
<rect x="7" y="18" width="2" height="1" fill="#2b374d"/>
<rect x="9" y="18" width="3" height="1" fill="#2b374c"/>
<rect x="12" y="18" width="1" height="1" fill="#2c384c"/>
<rect x="13" y="18" width="1" height="1" fill="#2c384d"/>
<rect x="14" y="18" width="1" height="1" fill="#2d394e"/>
<rect x="15" y="18" width="1" height="1" fill="#2d3a4e"/>
<rect x="16" y="18" width="1" height="1" fill="#2e3a50"/>
<rect x="17" y="18" width="1" height="1" fill="#2e3b50"/>
<rect x="18" y="18" width="1" height="1" fill="#2f3b50"/>
<rect x="19" y="18" width="1" height="1" fill="#323d52"/>
<rect x="20" y="18" width="1" height="1" fill="#364154"/>
<rect x="21" y="18" width="1" height="1" fill="#3b4658"/>
<rect x="22" y="18" width="1" height="1" fill="#414b5c"/>
<rect x="23" y="18" width="1" height="1" fill="#465064"/>
<rect x="24" y="18" width="1" height="1" fill="#4b5467"/>
<rect x="25" y="18" width="1" height="1" fill="#4d5668"/>
<rect x="26" y="18" width="1" height="1" fill="#4c5467"/>
<rect x="27" y="18" width="1" height="1" fill="#495164"/>
<rect x="28" y="18" width="1" height="1" fill="#444b5f"/>
<rect x="29" y="18" width="1" height="1" fill="#404859"/>
<rect x="30" y="18" width="1" height="1" fill="#3e4657"/>
<rect x="31" y="18" width="1" height="1" fill="#3d4557"/>
<rect x="32" y="18" width="1" height="1" fill="#3d4556"/>
<rect x="33" y="18" width="1" height="1" fill="#3e4657"/>
<rect x="34" y="18" width="1" height="1" fill="#40495a"/>
<rect x="35" y="18" width="1" height="1" fill="#424b5c"/>
<rect x="36" y="18" width="1" height="1" fill="#454e62"/>
<rect x="37" y="18" width="1" height="1" fill="#475064"/>
<rect x="38" y="18" width="1" height="1" fill="#495266"/>
<rect x="39" y="18" width="1" height="1" fill="#4a5468"/>
<rect x="40" y="18" width="1" height="1" fill="#4c5568"/>
<rect x="41" y="18" width="1" height="1" fill="#4c5669"/>
<rect x="42" y="18" width="1" height="1" fill="#4d566a"/>
<rect x="43" y="18" width="1" height="1" fill="#4e586b"/>
<rect x="44" y="18" width="1" height="1" fill="#4f586c"/>
<rect x="45" y="18" width="1" height="1" fill="#505a6e"/>
<rect x="46" y="18" width="1" height="1" fill="#515a6e"/>
<rect x="47" y="18" width="1" height="1" fill="#525c70"/>
<rect x="48" y="18" width="1" height="1" fill="#535c70"/>
<rect x="49" y="18" width="1" height="1" fill="#545e72"/>
<rect x="50" y="18" width="1" height="1" fill="#566073"/>
<rect x="51" y="18" width="1" height="1" fill="#586173"/>
<rect x="52" y="18" width="1" height="1" fill="#586172"/>
<rect x="53" y="18" width="1" height="1" fill="#565f6f"/>
<rect x="54" y="18" width="1" height="1" fill="#515b6a"/>
<rect x="55" y="18" width="1" height="1" fill="#4e5766"/>
<rect x="56" y="18" width="1" height="1" fill="#4b5564"/>
<rect x="57" y="18" width="2" height="1" fill="#495462"/>
<rect x="59" y="18" width="1" height="1" fill="#485362"/>
<rect x="0" y="19" width="1" height="1" fill="#303c4e"/>
<rect x="1" y="19" width="1" height="1" fill="#2f3b4e"/>
<rect x="2" y="19" width="1" height="1" fill="#2e3a4e"/>
<rect x="3" y="19" width="1" height="1" fill="#2e3a4f"/>
<rect x="4" y="19" width="1" height="1" fill="#2e394f"/>
<rect x="5" y="19" width="1" height="1" fill="#2d394e"/>
<rect x="6" y="19" width="1" height="1" fill="#2c384e"/>
<rect x="7" y="19" width="2" height="1" fill="#2c384d"/>
<rect x="9" y="19" width="3" height="1" fill="#2c384c"/>
<rect x="12" y="19" width="1" height="1" fill="#2c394c"/>
<rect x="13" y="19" width="1" height="1" fill="#2d394d"/>
<rect x="14" y="19" width="1" height="1" fill="#2e3a4e"/>
<rect x="15" y="19" width="1" height="1" fill="#2e3a4f"/>
<rect x="16" y="19" width="1" height="1" fill="#2f3c50"/>
<rect x="17" y="19" width="1" height="1" fill="#2f3c51"/>
<rect x="18" y="19" width="1" height="1" fill="#303c51"/>
<rect x="19" y="19" width="1" height="1" fill="#333e52"/>
<rect x="20" y="19" width="1" height="1" fill="#384255"/>
<rect x="21" y="19" width="1" height="1" fill="#3f495a"/>
<rect x="22" y="19" width="1" height="1" fill="#475164"/>
<rect x="23" y="19" width="1" height="1" fill="#4d5769"/>
<rect x="24" y="19" width="1" height="1" fill="#515b6d"/>
<rect x="25" y="19" width="1" height="1" fill="#535c6d"/>
<rect x="26" y="19" width="1" height="1" fill="#52596b"/>
<rect x="27" y="19" width="1" height="1" fill="#4d5467"/>
<rect x="28" y="19" width="1" height="1" fill="#454c60"/>
<rect x="29" y="19" width="1" height="1" fill="#404759"/>
<rect x="30" y="19" width="1" height="1" fill="#3e4557"/>
<rect x="31" y="19" width="1" height="1" fill="#3c4456"/>
<rect x="32" y="19" width="1" height="1" fill="#3c4455"/>
<rect x="33" y="19" width="1" height="1" fill="#3d4656"/>
<rect x="34" y="19" width="1" height="1" fill="#3f485a"/>
<rect x="35" y="19" width="1" height="1" fill="#424c60"/>
<rect x="36" y="19" width="1" height="1" fill="#464f63"/>
<rect x="37" y="19" width="1" height="1" fill="#4a5468"/>
<rect x="38" y="19" width="1" height="1" fill="#505a6e"/>
<rect x="39" y="19" width="1" height="1" fill="#565f73"/>
<rect x="40" y="19" width="1" height="1" fill="#5a6377"/>
<rect x="41" y="19" width="1" height="1" fill="#5d6579"/>
<rect x="42" y="19" width="1" height="1" fill="#5e667a"/>
<rect x="43" y="19" width="1" height="1" fill="#5f687c"/>
<rect x="44" y="19" width="1" height="1" fill="#60697d"/>
<rect x="45" y="19" width="1" height="1" fill="#626a7e"/>
<rect x="46" y="19" width="1" height="1" fill="#636b7f"/>
<rect x="47" y="19" width="1" height="1" fill="#646d80"/>
<rect x="48" y="19" width="1" height="1" fill="#656e82"/>
<rect x="49" y="19" width="1" height="1" fill="#666f82"/>
<rect x="50" y="19" width="1" height="1" fill="#676f81"/>
<rect x="51" y="19" width="1" height="1" fill="#646d7e"/>
<rect x="52" y="19" width="1" height="1" fill="#60697a"/>
<rect x="53" y="19" width="1" height="1" fill="#5a6373"/>
<rect x="54" y="19" width="1" height="1" fill="#535c6b"/>
<rect x="55" y="19" width="1" height="1" fill="#4e5865"/>
<rect x="56" y="19" width="1" height="1" fill="#4c5663"/>
<rect x="57" y="19" width="3" height="1" fill="#4a5662"/>
<rect x="0" y="20" width="3" height="1" fill="#2e3a4e"/>
<rect x="3" y="20" width="1" height="1" fill="#2d394e"/>
<rect x="4" y="20" width="1" height="1" fill="#2d384f"/>
<rect x="5" y="20" width="1" height="1" fill="#2d384e"/>
<rect x="6" y="20" width="1" height="1" fill="#2c384e"/>
<rect x="7" y="20" width="1" height="1" fill="#2c384d"/>
<rect x="8" y="20" width="1" height="1" fill="#2c384c"/>
<rect x="9" y="20" width="1" height="1" fill="#2c384b"/>
<rect x="10" y="20" width="1" height="1" fill="#2b384b"/>
<rect x="11" y="20" width="2" height="1" fill="#2c384b"/>
<rect x="13" y="20" width="1" height="1" fill="#2c394c"/>
<rect x="14" y="20" width="1" height="1" fill="#2d3a4d"/>
<rect x="15" y="20" width="1" height="1" fill="#2e3a4e"/>
<rect x="16" y="20" width="1" height="1" fill="#2f3c4f"/>
<rect x="17" y="20" width="1" height="1" fill="#303c50"/>
<rect x="18" y="20" width="1" height="1" fill="#313d51"/>
<rect x="19" y="20" width="1" height="1" fill="#344052"/>
<rect x="20" y="20" width="1" height="1" fill="#394455"/>
<rect x="21" y="20" width="1" height="1" fill="#424c5b"/>
<rect x="22" y="20" width="1" height="1" fill="#4f5969"/>
<rect x="23" y="20" width="1" height="1" fill="#566070"/>
<rect x="24" y="20" width="1" height="1" fill="#596272"/>
<rect x="25" y="20" width="1" height="1" fill="#5a6272"/>
<rect x="26" y="20" width="1" height="1" fill="#595f6f"/>
<rect x="27" y="20" width="1" height="1" fill="#53586a"/>
<rect x="28" y="20" width="1" height="1" fill="#484e62"/>
<rect x="29" y="20" width="1" height="1" fill="#424859"/>
<rect x="30" y="20" width="1" height="1" fill="#3f4657"/>
<rect x="31" y="20" width="1" height="1" fill="#3d4556"/>
<rect x="32" y="20" width="1" height="1" fill="#3c4455"/>
<rect x="33" y="20" width="1" height="1" fill="#3d4656"/>
<rect x="34" y="20" width="1" height="1" fill="#40485a"/>
<rect x="35" y="20" width="1" height="1" fill="#444c60"/>
<rect x="36" y="20" width="1" height="1" fill="#485165"/>
<rect x="37" y="20" width="1" height="1" fill="#525a6e"/>
<rect x="38" y="20" width="1" height="1" fill="#60687c"/>
<rect x="39" y="20" width="1" height="1" fill="#6c7488"/>
<rect x="40" y="20" width="1" height="1" fill="#777d91"/>
<rect x="41" y="20" width="1" height="1" fill="#7d8296"/>
<rect x="42" y="20" width="1" height="1" fill="#7f8498"/>
<rect x="43" y="20" width="1" height="1" fill="#80869a"/>
<rect x="44" y="20" width="1" height="1" fill="#82889c"/>
<rect x="45" y="20" width="1" height="1" fill="#84899d"/>
<rect x="46" y="20" width="1" height="1" fill="#868b9f"/>
<rect x="47" y="20" width="1" height="1" fill="#878da0"/>
<rect x="48" y="20" width="1" height="1" fill="#898fa2"/>
<rect x="49" y="20" width="1" height="1" fill="#898ea0"/>
<rect x="50" y="20" width="1" height="1" fill="#868c9d"/>
<rect x="51" y="20" width="1" height="1" fill="#7e8494"/>
<rect x="52" y="20" width="1" height="1" fill="#6e7688"/>
<rect x="53" y="20" width="1" height="1" fill="#626a7b"/>
<rect x="54" y="20" width="1" height="1" fill="#58606e"/>
<rect x="55" y="20" width="1" height="1" fill="#515a66"/>
<rect x="56" y="20" width="1" height="1" fill="#4d5863"/>
<rect x="57" y="20" width="3" height="1" fill="#4c5762"/>
<rect x="0" y="21" width="3" height="1" fill="#2e3a4d"/>
<rect x="3" y="21" width="1" height="1" fill="#2d394d"/>
<rect x="4" y="21" width="2" height="1" fill="#2d384e"/>
<rect x="6" y="21" width="1" height="1" fill="#2c384d"/>
<rect x="7" y="21" width="1" height="1" fill="#2c384c"/>
<rect x="8" y="21" width="2" height="1" fill="#2c384b"/>
<rect x="10" y="21" width="1" height="1" fill="#2b384b"/>
<rect x="11" y="21" width="1" height="1" fill="#2d394c"/>
<rect x="12" y="21" width="1" height="1" fill="#2f3b4d"/>
<rect x="13" y="21" width="1" height="1" fill="#313c4e"/>
<rect x="14" y="21" width="1" height="1" fill="#323e50"/>
<rect x="15" y="21" width="1" height="1" fill="#333e51"/>
<rect x="16" y="21" width="1" height="1" fill="#323e51"/>
<rect x="17" y="21" width="1" height="1" fill="#333f52"/>
<rect x="18" y="21" width="1" height="1" fill="#344052"/>
<rect x="19" y="21" width="1" height="1" fill="#384354"/>
<rect x="20" y="21" width="1" height="1" fill="#3d4757"/>
<rect x="21" y="21" width="1" height="1" fill="#475062"/>
<rect x="22" y="21" width="1" height="1" fill="#565f6e"/>
<rect x="23" y="21" width="1" height="1" fill="#5e6775"/>
<rect x="24" y="21" width="1" height="1" fill="#616977"/>
<rect x="25" y="21" width="1" height="1" fill="#626877"/>
<rect x="26" y="21" width="1" height="1" fill="#606574"/>
<rect x="27" y="21" width="1" height="1" fill="#595d6e"/>
<rect x="28" y="21" width="1" height="1" fill="#4c5164"/>
<rect x="29" y="21" width="1" height="1" fill="#444a5b"/>
<rect x="30" y="21" width="1" height="1" fill="#404758"/>
<rect x="31" y="21" width="1" height="1" fill="#3e4556"/>
<rect x="32" y="21" width="1" height="1" fill="#3d4455"/>
<rect x="33" y="21" width="1" height="1" fill="#3e4656"/>
<rect x="34" y="21" width="1" height="1" fill="#41485a"/>
<rect x="35" y="21" width="1" height="1" fill="#454d61"/>
<rect x="36" y="21" width="1" height="1" fill="#4a5266"/>
<rect x="37" y="21" width="1" height="1" fill="#575f73"/>
<rect x="38" y="21" width="1" height="1" fill="#6c7387"/>
<rect x="39" y="21" width="1" height="1" fill="#7e8498"/>
<rect x="40" y="21" width="1" height="1" fill="#8e92a6"/>
<rect x="41" y="21" width="1" height="1" fill="#989bae"/>
<rect x="42" y="21" width="1" height="1" fill="#9b9eb1"/>
<rect x="43" y="21" width="1" height="1" fill="#9ea2b4"/>
<rect x="44" y="21" width="1" height="1" fill="#a2a4b7"/>
<rect x="45" y="21" width="1" height="1" fill="#a3a6b8"/>
<rect x="46" y="21" width="1" height="1" fill="#a4a6b9"/>
<rect x="47" y="21" width="1" height="1" fill="#a4a6b8"/>
<rect x="48" y="21" width="1" height="1" fill="#a3a5b8"/>
<rect x="49" y="21" width="1" height="1" fill="#9da0b2"/>
<rect x="50" y="21" width="1" height="1" fill="#9396a8"/>
<rect x="51" y="21" width="1" height="1" fill="#858a9b"/>
<rect x="52" y="21" width="1" height="1" fill="#737a8c"/>
<rect x="53" y="21" width="1" height="1" fill="#656d7e"/>
<rect x="54" y="21" width="1" height="1" fill="#5b6370"/>
<rect x="55" y="21" width="1" height="1" fill="#545d68"/>
<rect x="56" y="21" width="1" height="1" fill="#505a65"/>
<rect x="57" y="21" width="1" height="1" fill="#4e5963"/>
<rect x="58" y="21" width="2" height="1" fill="#4e5a63"/>
<rect x="0" y="22" width="1" height="1" fill="#2f3b4d"/>
<rect x="1" y="22" width="3" height="1" fill="#2e3a4d"/>
<rect x="4" y="22" width="2" height="1" fill="#2d394d"/>
<rect x="6" y="22" width="1" height="1" fill="#2d394c"/>
<rect x="7" y="22" width="1" height="1" fill="#2d394b"/>
<rect x="8" y="22" width="2" height="1" fill="#2c384b"/>
<rect x="10" y="22" width="1" height="1" fill="#2c394b"/>
<rect x="11" y="22" width="1" height="1" fill="#2f3b4d"/>
<rect x="12" y="22" width="1" height="1" fill="#364051"/>
<rect x="13" y="22" width="1" height="1" fill="#3b4454"/>
<rect x="14" y="22" width="1" height="1" fill="#3d4656"/>
<rect x="15" y="22" width="1" height="1" fill="#3d4657"/>
<rect x="16" y="22" width="1" height="1" fill="#3a4456"/>
<rect x="17" y="22" width="1" height="1" fill="#394456"/>
<rect x="18" y="22" width="1" height="1" fill="#3a4556"/>
<rect x="19" y="22" width="1" height="1" fill="#3e4859"/>
<rect x="20" y="22" width="1" height="1" fill="#444d5f"/>
<rect x="21" y="22" width="1" height="1" fill="#4e5667"/>
<rect x="22" y="22" width="1" height="1" fill="#5c6372"/>
<rect x="23" y="22" width="1" height="1" fill="#656c79"/>
<rect x="24" y="22" width="1" height="1" fill="#696f7c"/>
<rect x="25" y="22" width="1" height="1" fill="#6a6f7c"/>
<rect x="26" y="22" width="1" height="1" fill="#686b7a"/>
<rect x="27" y="22" width="1" height="1" fill="#5f6273"/>
<rect x="28" y="22" width="1" height="1" fill="#505467"/>
<rect x="29" y="22" width="1" height="1" fill="#464b5f"/>
<rect x="30" y="22" width="1" height="1" fill="#424859"/>
<rect x="31" y="22" width="1" height="1" fill="#3f4556"/>
<rect x="32" y="22" width="1" height="1" fill="#3e4455"/>
<rect x="33" y="22" width="1" height="1" fill="#3f4656"/>
<rect x="34" y="22" width="1" height="1" fill="#42485a"/>
<rect x="35" y="22" width="1" height="1" fill="#464d61"/>
<rect x="36" y="22" width="1" height="1" fill="#4c5367"/>
<rect x="37" y="22" width="1" height="1" fill="#5c6276"/>
<rect x="38" y="22" width="1" height="1" fill="#767c90"/>
<rect x="39" y="22" width="1" height="1" fill="#8d92a5"/>
<rect x="40" y="22" width="1" height="1" fill="#a0a4b5"/>
<rect x="41" y="22" width="1" height="1" fill="#adafc0"/>
<rect x="42" y="22" width="1" height="1" fill="#b4b5c5"/>
<rect x="43" y="22" width="1" height="1" fill="#babaca"/>
<rect x="44" y="22" width="1" height="1" fill="#bec0ce"/>
<rect x="45" y="22" width="1" height="1" fill="#c0c0cf"/>
<rect x="46" y="22" width="1" height="1" fill="#bdbdcc"/>
<rect x="47" y="22" width="1" height="1" fill="#b9b8c8"/>
<rect x="48" y="22" width="1" height="1" fill="#b3b2c4"/>
<rect x="49" y="22" width="1" height="1" fill="#a4a4b7"/>
<rect x="50" y="22" width="1" height="1" fill="#8d8fa2"/>
<rect x="51" y="22" width="1" height="1" fill="#7b7f92"/>
<rect x="52" y="22" width="1" height="1" fill="#6e7486"/>
<rect x="53" y="22" width="1" height="1" fill="#646b7c"/>
<rect x="54" y="22" width="1" height="1" fill="#5d6572"/>
<rect x="55" y="22" width="1" height="1" fill="#58616c"/>
<rect x="56" y="22" width="1" height="1" fill="#555e68"/>
<rect x="57" y="22" width="1" height="1" fill="#535c66"/>
<rect x="58" y="22" width="2" height="1" fill="#535d65"/>
<rect x="0" y="23" width="2" height="1" fill="#2f3b4d"/>
<rect x="2" y="23" width="2" height="1" fill="#2e3a4d"/>
<rect x="4" y="23" width="1" height="1" fill="#2d394d"/>
<rect x="5" y="23" width="1" height="1" fill="#2d394c"/>
<rect x="6" y="23" width="1" height="1" fill="#2c384b"/>
<rect x="7" y="23" width="2" height="1" fill="#2c384a"/>
<rect x="9" y="23" width="2" height="1" fill="#2c384b"/>
<rect x="11" y="23" width="1" height="1" fill="#313d4e"/>
<rect x="12" y="23" width="1" height="1" fill="#3b4455"/>
<rect x="13" y="23" width="1" height="1" fill="#414959"/>
<rect x="14" y="23" width="2" height="1" fill="#444c5e"/>
<rect x="16" y="23" width="1" height="1" fill="#404959"/>
<rect x="17" y="23" width="1" height="1" fill="#3e4858"/>
<rect x="18" y="23" width="1" height="1" fill="#3f4859"/>
<rect x="19" y="23" width="1" height="1" fill="#424c5c"/>
<rect x="20" y="23" width="1" height="1" fill="#485063"/>
<rect x="21" y="23" width="1" height="1" fill="#52596a"/>
<rect x="22" y="23" width="1" height="1" fill="#5e6574"/>
<rect x="23" y="23" width="1" height="1" fill="#686d7b"/>
<rect x="24" y="23" width="1" height="1" fill="#6c717d"/>
<rect x="25" y="23" width="1" height="1" fill="#6e727f"/>
<rect x="26" y="23" width="1" height="1" fill="#6d707f"/>
<rect x="27" y="23" width="1" height="1" fill="#666979"/>
<rect x="28" y="23" width="1" height="1" fill="#595c6f"/>
<rect x="29" y="23" width="1" height="1" fill="#4e5266"/>
<rect x="30" y="23" width="1" height="1" fill="#464c5f"/>
<rect x="31" y="23" width="1" height="1" fill="#414758"/>
<rect x="32" y="23" width="1" height="1" fill="#404657"/>
<rect x="33" y="23" width="1" height="1" fill="#404758"/>
<rect x="34" y="23" width="1" height="1" fill="#444a5b"/>
<rect x="35" y="23" width="1" height="1" fill="#494e62"/>
<rect x="36" y="23" width="1" height="1" fill="#50566a"/>
<rect x="37" y="23" width="1" height="1" fill="#62687b"/>
<rect x="38" y="23" width="1" height="1" fill="#808498"/>
<rect x="39" y="23" width="1" height="1" fill="#9a9daf"/>
<rect x="40" y="23" width="1" height="1" fill="#afb1c1"/>
<rect x="41" y="23" width="1" height="1" fill="#bdbecd"/>
<rect x="42" y="23" width="1" height="1" fill="#c4c5d2"/>
<rect x="43" y="23" width="1" height="1" fill="#cacad7"/>
<rect x="44" y="23" width="1" height="1" fill="#d0cfdb"/>
<rect x="45" y="23" width="1" height="1" fill="#ceceda"/>
<rect x="46" y="23" width="1" height="1" fill="#c8c6d4"/>
<rect x="47" y="23" width="1" height="1" fill="#c0bece"/>
<rect x="48" y="23" width="1" height="1" fill="#b7b5c6"/>
<rect x="49" y="23" width="1" height="1" fill="#a6a5b8"/>
<rect x="50" y="23" width="1" height="1" fill="#8d8da0"/>
<rect x="51" y="23" width="1" height="1" fill="#7a7c90"/>
<rect x="52" y="23" width="1" height="1" fill="#6e7284"/>
<rect x="53" y="23" width="1" height="1" fill="#666c7c"/>
<rect x="54" y="23" width="1" height="1" fill="#626876"/>
<rect x="55" y="23" width="1" height="1" fill="#5e6570"/>
<rect x="56" y="23" width="1" height="1" fill="#5a626c"/>
<rect x="57" y="23" width="1" height="1" fill="#586169"/>
<rect x="58" y="23" width="1" height="1" fill="#576168"/>
<rect x="59" y="23" width="1" height="1" fill="#576167"/>
<rect x="0" y="24" width="2" height="1" fill="#2f3b4d"/>
<rect x="2" y="24" width="2" height="1" fill="#2e3a4d"/>
<rect x="4" y="24" width="1" height="1" fill="#2d394c"/>
<rect x="5" y="24" width="1" height="1" fill="#2c384b"/>
<rect x="6" y="24" width="4" height="1" fill="#2b374a"/>
<rect x="10" y="24" width="1" height="1" fill="#2c384b"/>
<rect x="11" y="24" width="1" height="1" fill="#323d4f"/>
<rect x="12" y="24" width="1" height="1" fill="#3e4757"/>
<rect x="13" y="24" width="1" height="1" fill="#454d5f"/>
<rect x="14" y="24" width="1" height="1" fill="#474f60"/>
<rect x="15" y="24" width="1" height="1" fill="#464f60"/>
<rect x="16" y="24" width="1" height="1" fill="#424b5a"/>
<rect x="17" y="24" width="1" height="1" fill="#414a59"/>
<rect x="18" y="24" width="1" height="1" fill="#424a5a"/>
<rect x="19" y="24" width="1" height="1" fill="#454e60"/>
<rect x="20" y="24" width="1" height="1" fill="#4a5265"/>
<rect x="21" y="24" width="1" height="1" fill="#525a6b"/>
<rect x="22" y="24" width="1" height="1" fill="#5e6474"/>
<rect x="23" y="24" width="1" height="1" fill="#666b7a"/>
<rect x="24" y="24" width="1" height="1" fill="#6a6f7d"/>
<rect x="25" y="24" width="1" height="1" fill="#6e7280"/>
<rect x="26" y="24" width="1" height="1" fill="#707482"/>
<rect x="27" y="24" width="1" height="1" fill="#6e7181"/>
<rect x="28" y="24" width="1" height="1" fill="#666a7b"/>
<rect x="29" y="24" width="1" height="1" fill="#5b6072"/>
<rect x="30" y="24" width="1" height="1" fill="#4d5266"/>
<rect x="31" y="24" width="1" height="1" fill="#454b5f"/>
<rect x="32" y="24" width="1" height="1" fill="#42495a"/>
<rect x="33" y="24" width="1" height="1" fill="#424a5b"/>
<rect x="34" y="24" width="1" height="1" fill="#464c60"/>
<rect x="35" y="24" width="1" height="1" fill="#4c5266"/>
<rect x="36" y="24" width="1" height="1" fill="#565a6e"/>
<rect x="37" y="24" width="1" height="1" fill="#6a6e82"/>
<rect x="38" y="24" width="1" height="1" fill="#8a8ea0"/>
<rect x="39" y="24" width="1" height="1" fill="#a5a7b8"/>
<rect x="40" y="24" width="1" height="1" fill="#b9bac9"/>
<rect x="41" y="24" width="1" height="1" fill="#c6c7d4"/>
<rect x="42" y="24" width="1" height="1" fill="#cdcdd9"/>
<rect x="43" y="24" width="1" height="1" fill="#d2d1dc"/>
<rect x="44" y="24" width="1" height="1" fill="#d4d3de"/>
<rect x="45" y="24" width="1" height="1" fill="#d0ceda"/>
<rect x="46" y="24" width="1" height="1" fill="#c2c1d0"/>
<rect x="47" y="24" width="1" height="1" fill="#b8b6c8"/>
<rect x="48" y="24" width="1" height="1" fill="#b0aec0"/>
<rect x="49" y="24" width="1" height="1" fill="#a3a1b4"/>
<rect x="50" y="24" width="1" height="1" fill="#9191a4"/>
<rect x="51" y="24" width="1" height="1" fill="#818294"/>
<rect x="52" y="24" width="1" height="1" fill="#747688"/>
<rect x="53" y="24" width="1" height="1" fill="#6c6f7f"/>
<rect x="54" y="24" width="1" height="1" fill="#686d7a"/>
<rect x="55" y="24" width="1" height="1" fill="#646a75"/>
<rect x="56" y="24" width="1" height="1" fill="#5f676f"/>
<rect x="57" y="24" width="1" height="1" fill="#5c656c"/>
<rect x="58" y="24" width="1" height="1" fill="#5b656a"/>
<rect x="59" y="24" width="1" height="1" fill="#5a6469"/>
<rect x="0" y="25" width="1" height="1" fill="#2f3b4e"/>
<rect x="1" y="25" width="1" height="1" fill="#2f3a4d"/>
<rect x="2" y="25" width="1" height="1" fill="#2e3a4d"/>
<rect x="3" y="25" width="1" height="1" fill="#2d394c"/>
<rect x="4" y="25" width="1" height="1" fill="#2c384c"/>
<rect x="5" y="25" width="1" height="1" fill="#2b374a"/>
<rect x="6" y="25" width="1" height="1" fill="#2a364a"/>
<rect x="7" y="25" width="2" height="1" fill="#2a3649"/>
<rect x="9" y="25" width="1" height="1" fill="#2b374a"/>
<rect x="10" y="25" width="1" height="1" fill="#2c384a"/>
<rect x="11" y="25" width="1" height="1" fill="#333e50"/>
<rect x="12" y="25" width="1" height="1" fill="#414959"/>
<rect x="13" y="25" width="1" height="1" fill="#495061"/>
<rect x="14" y="25" width="1" height="1" fill="#4b5263"/>
<rect x="15" y="25" width="1" height="1" fill="#4a5262"/>
<rect x="16" y="25" width="1" height="1" fill="#464e5f"/>
<rect x="17" y="25" width="1" height="1" fill="#444c5e"/>
<rect x="18" y="25" width="1" height="1" fill="#454d5f"/>
<rect x="19" y="25" width="1" height="1" fill="#485062"/>
<rect x="20" y="25" width="1" height="1" fill="#4e5667"/>
<rect x="21" y="25" width="1" height="1" fill="#565d6e"/>
<rect x="22" y="25" width="1" height="1" fill="#606676"/>
<rect x="23" y="25" width="1" height="1" fill="#676c7b"/>
<rect x="24" y="25" width="1" height="1" fill="#6c707f"/>
<rect x="25" y="25" width="1" height="1" fill="#717582"/>
<rect x="26" y="25" width="1" height="1" fill="#757986"/>
<rect x="27" y="25" width="1" height="1" fill="#757887"/>
<rect x="28" y="25" width="1" height="1" fill="#6f7384"/>
<rect x="29" y="25" width="1" height="1" fill="#64687a"/>
<rect x="30" y="25" width="1" height="1" fill="#52576b"/>
<rect x="31" y="25" width="1" height="1" fill="#474e62"/>
<rect x="32" y="25" width="2" height="1" fill="#444b5f"/>
<rect x="34" y="25" width="1" height="1" fill="#474d61"/>
<rect x="35" y="25" width="1" height="1" fill="#4e5367"/>
<rect x="36" y="25" width="1" height="1" fill="#5a5e72"/>
<rect x="37" y="25" width="1" height="1" fill="#707487"/>
<rect x="38" y="25" width="1" height="1" fill="#9194a6"/>
<rect x="39" y="25" width="1" height="1" fill="#acadbe"/>
<rect x="40" y="25" width="1" height="1" fill="#c0c0cf"/>
<rect x="41" y="25" width="1" height="1" fill="#cdcdda"/>
<rect x="42" y="25" width="1" height="1" fill="#d3d3de"/>
<rect x="43" y="25" width="1" height="1" fill="#d7d6e0"/>
<rect x="44" y="25" width="1" height="1" fill="#d9d7e1"/>
<rect x="45" y="25" width="1" height="1" fill="#d2d0dc"/>
<rect x="46" y="25" width="1" height="1" fill="#c3c1d0"/>
<rect x="47" y="25" width="1" height="1" fill="#b7b5c7"/>
<rect x="48" y="25" width="1" height="1" fill="#afadc0"/>
<rect x="49" y="25" width="1" height="1" fill="#a6a4b7"/>
<rect x="50" y="25" width="1" height="1" fill="#9a9aac"/>
<rect x="51" y="25" width="1" height="1" fill="#8f8fa0"/>
<rect x="52" y="25" width="1" height="1" fill="#838494"/>
<rect x="53" y="25" width="1" height="1" fill="#7a7c8b"/>
<rect x="54" y="25" width="1" height="1" fill="#767885"/>
<rect x="55" y="25" width="1" height="1" fill="#6f747e"/>
<rect x="56" y="25" width="1" height="1" fill="#686f77"/>
<rect x="57" y="25" width="1" height="1" fill="#636c72"/>
<rect x="58" y="25" width="1" height="1" fill="#606a6e"/>
<rect x="59" y="25" width="1" height="1" fill="#5f686c"/>
<rect x="0" y="26" width="1" height="1" fill="#2f3a4e"/>
<rect x="1" y="26" width="1" height="1" fill="#2e3a4e"/>
<rect x="2" y="26" width="1" height="1" fill="#2d394d"/>
<rect x="3" y="26" width="1" height="1" fill="#2c384c"/>
<rect x="4" y="26" width="1" height="1" fill="#2b374c"/>
<rect x="5" y="26" width="2" height="1" fill="#2a364a"/>
<rect x="7" y="26" width="1" height="1" fill="#2a3649"/>
<rect x="8" y="26" width="1" height="1" fill="#2b3749"/>
<rect x="9" y="26" width="1" height="1" fill="#2c374a"/>
<rect x="10" y="26" width="1" height="1" fill="#2d394a"/>
<rect x="11" y="26" width="1" height="1" fill="#353f50"/>
<rect x="12" y="26" width="1" height="1" fill="#434b5a"/>
<rect x="13" y="26" width="1" height="1" fill="#4c5263"/>
<rect x="14" y="26" width="1" height="1" fill="#505565"/>
<rect x="15" y="26" width="1" height="1" fill="#4f5465"/>
<rect x="16" y="26" width="1" height="1" fill="#495062"/>
<rect x="17" y="26" width="1" height="1" fill="#474f61"/>
<rect x="18" y="26" width="1" height="1" fill="#485061"/>
<rect x="19" y="26" width="1" height="1" fill="#4c5464"/>
<rect x="20" y="26" width="1" height="1" fill="#525a6b"/>
<rect x="21" y="26" width="1" height="1" fill="#5a6272"/>
<rect x="22" y="26" width="1" height="1" fill="#646a79"/>
<rect x="23" y="26" width="1" height="1" fill="#6c707f"/>
<rect x="24" y="26" width="1" height="1" fill="#727583"/>
<rect x="25" y="26" width="1" height="1" fill="#777a87"/>
<rect x="26" y="26" width="1" height="1" fill="#7c7f8b"/>
<rect x="27" y="26" width="1" height="1" fill="#7b7e8b"/>
<rect x="28" y="26" width="1" height="1" fill="#757888"/>
<rect x="29" y="26" width="1" height="1" fill="#686c7e"/>
<rect x="30" y="26" width="1" height="1" fill="#555a6d"/>
<rect x="31" y="26" width="1" height="1" fill="#494f63"/>
<rect x="32" y="26" width="1" height="1" fill="#454c60"/>
<rect x="33" y="26" width="1" height="1" fill="#454b5f"/>
<rect x="34" y="26" width="1" height="1" fill="#484d61"/>
<rect x="35" y="26" width="1" height="1" fill="#505468"/>
<rect x="36" y="26" width="1" height="1" fill="#5c6074"/>
<rect x="37" y="26" width="1" height="1" fill="#73768a"/>
<rect x="38" y="26" width="1" height="1" fill="#9596a9"/>
<rect x="39" y="26" width="1" height="1" fill="#b0b0c1"/>
<rect x="40" y="26" width="1" height="1" fill="#c4c4d2"/>
<rect x="41" y="26" width="1" height="1" fill="#d1d1dd"/>
<rect x="42" y="26" width="1" height="1" fill="#d7d7e2"/>
<rect x="43" y="26" width="1" height="1" fill="#dbdae4"/>
<rect x="44" y="26" width="1" height="1" fill="#dcdae4"/>
<rect x="45" y="26" width="1" height="1" fill="#d6d4df"/>
<rect x="46" y="26" width="1" height="1" fill="#c8c6d4"/>
<rect x="47" y="26" width="1" height="1" fill="#bdbbcb"/>
<rect x="48" y="26" width="1" height="1" fill="#b5b3c5"/>
<rect x="49" y="26" width="1" height="1" fill="#aeadbf"/>
<rect x="50" y="26" width="1" height="1" fill="#aaa9ba"/>
<rect x="51" y="26" width="1" height="1" fill="#a3a3b4"/>
<rect x="52" y="26" width="1" height="1" fill="#9b9bac"/>
<rect x="53" y="26" width="1" height="1" fill="#9294a2"/>
<rect x="54" y="26" width="1" height="1" fill="#8a8c96"/>
<rect x="55" y="26" width="1" height="1" fill="#80838c"/>
<rect x="56" y="26" width="1" height="1" fill="#767b83"/>
<rect x="57" y="26" width="1" height="1" fill="#6e757b"/>
<rect x="58" y="26" width="1" height="1" fill="#687075"/>
<rect x="59" y="26" width="1" height="1" fill="#656e72"/>
<rect x="0" y="27" width="1" height="1" fill="#303b50"/>
<rect x="1" y="27" width="1" height="1" fill="#2f3a4f"/>
<rect x="2" y="27" width="1" height="1" fill="#2e3a4e"/>
<rect x="3" y="27" width="1" height="1" fill="#2c384d"/>
<rect x="4" y="27" width="1" height="1" fill="#2c384c"/>
<rect x="5" y="27" width="1" height="1" fill="#2b374b"/>
<rect x="6" y="27" width="2" height="1" fill="#2b374a"/>
<rect x="8" y="27" width="1" height="1" fill="#2c384a"/>
<rect x="9" y="27" width="1" height="1" fill="#2e394a"/>
<rect x="10" y="27" width="1" height="1" fill="#303b4b"/>
<rect x="11" y="27" width="1" height="1" fill="#394251"/>
<rect x="12" y="27" width="1" height="1" fill="#474e5e"/>
<rect x="13" y="27" width="1" height="1" fill="#515565"/>
<rect x="14" y="27" width="1" height="1" fill="#555968"/>
<rect x="15" y="27" width="1" height="1" fill="#545868"/>
<rect x="16" y="27" width="1" height="1" fill="#4e5466"/>
<rect x="17" y="27" width="1" height="1" fill="#4c5364"/>
<rect x="18" y="27" width="1" height="1" fill="#4d5464"/>
<rect x="19" y="27" width="1" height="1" fill="#515868"/>
<rect x="20" y="27" width="1" height="1" fill="#585f6f"/>
<rect x="21" y="27" width="1" height="1" fill="#606676"/>
<rect x="22" y="27" width="1" height="1" fill="#6a6e7d"/>
<rect x="23" y="27" width="1" height="1" fill="#717483"/>
<rect x="24" y="27" width="1" height="1" fill="#777a87"/>
<rect x="25" y="27" width="1" height="1" fill="#7d7e8b"/>
<rect x="26" y="27" width="1" height="1" fill="#82848f"/>
<rect x="27" y="27" width="1" height="1" fill="#81838f"/>
<rect x="28" y="27" width="1" height="1" fill="#7a7d8b"/>
<rect x="29" y="27" width="1" height="1" fill="#6c7080"/>
<rect x="30" y="27" width="1" height="1" fill="#585d6f"/>
<rect x="31" y="27" width="1" height="1" fill="#4b5164"/>
<rect x="32" y="27" width="1" height="1" fill="#474d60"/>
<rect x="33" y="27" width="1" height="1" fill="#464c60"/>
<rect x="34" y="27" width="1" height="1" fill="#494e62"/>
<rect x="35" y="27" width="1" height="1" fill="#515569"/>
<rect x="36" y="27" width="1" height="1" fill="#5e6276"/>
<rect x="37" y="27" width="1" height="1" fill="#76788c"/>
<rect x="38" y="27" width="1" height="1" fill="#9899ab"/>
<rect x="39" y="27" width="1" height="1" fill="#b5b5c4"/>
<rect x="40" y="27" width="1" height="1" fill="#cbcbd8"/>
<rect x="41" y="27" width="1" height="1" fill="#d9d9e4"/>
<rect x="42" y="27" width="1" height="1" fill="#e0e0e9"/>
<rect x="43" y="27" width="1" height="1" fill="#e4e3eb"/>
<rect x="44" y="27" width="1" height="1" fill="#e4e2eb"/>
<rect x="45" y="27" width="1" height="1" fill="#dddce5"/>
<rect x="46" y="27" width="1" height="1" fill="#d1d0db"/>
<rect x="47" y="27" width="1" height="1" fill="#c8c6d4"/>
<rect x="48" y="27" width="1" height="1" fill="#c1c0cf"/>
<rect x="49" y="27" width="1" height="1" fill="#bdbccc"/>
<rect x="50" y="27" width="1" height="1" fill="#bbbbca"/>
<rect x="51" y="27" width="1" height="1" fill="#b8b8c6"/>
<rect x="52" y="27" width="1" height="1" fill="#b2b2c0"/>
<rect x="53" y="27" width="1" height="1" fill="#a8a9b6"/>
<rect x="54" y="27" width="1" height="1" fill="#9b9ca7"/>
<rect x="55" y="27" width="1" height="1" fill="#8e9099"/>
<rect x="56" y="27" width="1" height="1" fill="#81848c"/>
<rect x="57" y="27" width="1" height="1" fill="#767b82"/>
<rect x="58" y="27" width="1" height="1" fill="#6d7479"/>
<rect x="59" y="27" width="1" height="1" fill="#697075"/>
<rect x="0" y="28" width="1" height="1" fill="#313d50"/>
<rect x="1" y="28" width="1" height="1" fill="#313c50"/>
<rect x="2" y="28" width="1" height="1" fill="#303c4f"/>
<rect x="3" y="28" width="1" height="1" fill="#2e3a4e"/>
<rect x="4" y="28" width="1" height="1" fill="#2e3a4d"/>
<rect x="5" y="28" width="1" height="1" fill="#2d394c"/>
<rect x="6" y="28" width="1" height="1" fill="#2d384b"/>
<rect x="7" y="28" width="1" height="1" fill="#2e384a"/>
<rect x="8" y="28" width="1" height="1" fill="#2f394a"/>
<rect x="9" y="28" width="1" height="1" fill="#323b4b"/>
<rect x="10" y="28" width="1" height="1" fill="#363d4d"/>
<rect x="11" y="28" width="1" height="1" fill="#3e4453"/>
<rect x="12" y="28" width="1" height="1" fill="#4c5061"/>
<rect x="13" y="28" width="1" height="1" fill="#565968"/>
<rect x="14" y="28" width="1" height="1" fill="#5b5d6c"/>
<rect x="15" y="28" width="1" height="1" fill="#5a5d6c"/>
<rect x="16" y="28" width="1" height="1" fill="#54586a"/>
<rect x="17" y="28" width="1" height="1" fill="#525768"/>
<rect x="18" y="28" width="1" height="1" fill="#545969"/>
<rect x="19" y="28" width="1" height="1" fill="#585d6d"/>
<rect x="20" y="28" width="1" height="1" fill="#5f6473"/>
<rect x="21" y="28" width="1" height="1" fill="#676b7a"/>
<rect x="22" y="28" width="1" height="1" fill="#6f7283"/>
<rect x="23" y="28" width="1" height="1" fill="#767888"/>
<rect x="24" y="28" width="1" height="1" fill="#7b7e8b"/>
<rect x="25" y="28" width="1" height="1" fill="#81828f"/>
<rect x="26" y="28" width="1" height="1" fill="#878893"/>
<rect x="27" y="28" width="1" height="1" fill="#868793"/>
<rect x="28" y="28" width="1" height="1" fill="#7e808e"/>
<rect x="29" y="28" width="1" height="1" fill="#707382"/>
<rect x="30" y="28" width="1" height="1" fill="#5b5f70"/>
<rect x="31" y="28" width="1" height="1" fill="#4e5366"/>
<rect x="32" y="28" width="1" height="1" fill="#494e62"/>
<rect x="33" y="28" width="1" height="1" fill="#484c60"/>
<rect x="34" y="28" width="1" height="1" fill="#4a4e62"/>
<rect x="35" y="28" width="1" height="1" fill="#52566a"/>
<rect x="36" y="28" width="1" height="1" fill="#5f6276"/>
<rect x="37" y="28" width="1" height="1" fill="#77798c"/>
<rect x="38" y="28" width="1" height="1" fill="#9b9bad"/>
<rect x="39" y="28" width="1" height="1" fill="#babac8"/>
<rect x="40" y="28" width="1" height="1" fill="#d5d5e0"/>
<rect x="41" y="28" width="1" height="1" fill="#e6e6ee"/>
<rect x="42" y="28" width="1" height="1" fill="#eeeef4"/>
<rect x="43" y="28" width="1" height="1" fill="#f2f1f6"/>
<rect x="44" y="28" width="1" height="1" fill="#f0eff4"/>
<rect x="45" y="28" width="1" height="1" fill="#e9e9ef"/>
<rect x="46" y="28" width="1" height="1" fill="#dedee6"/>
<rect x="47" y="28" width="1" height="1" fill="#d7d7e1"/>
<rect x="48" y="28" width="1" height="1" fill="#d4d3df"/>
<rect x="49" y="28" width="1" height="1" fill="#d1d1dd"/>
<rect x="50" y="28" width="1" height="1" fill="#d0d0dc"/>
<rect x="51" y="28" width="1" height="1" fill="#cdcdd8"/>
<rect x="52" y="28" width="1" height="1" fill="#c8c8d3"/>
<rect x="53" y="28" width="1" height="1" fill="#bcbcc8"/>
<rect x="54" y="28" width="1" height="1" fill="#aaabb6"/>
<rect x="55" y="28" width="1" height="1" fill="#999aa4"/>
<rect x="56" y="28" width="1" height="1" fill="#878a93"/>
<rect x="57" y="28" width="1" height="1" fill="#797e85"/>
<rect x="58" y="28" width="1" height="1" fill="#70767c"/>
<rect x="59" y="28" width="1" height="1" fill="#6b7277"/>
<rect x="0" y="29" width="1" height="1" fill="#323e51"/>
<rect x="1" y="29" width="1" height="1" fill="#323e50"/>
<rect x="2" y="29" width="1" height="1" fill="#303c50"/>
<rect x="3" y="29" width="1" height="1" fill="#303c4e"/>
<rect x="4" y="29" width="1" height="1" fill="#2e3a4e"/>
<rect x="5" y="29" width="1" height="1" fill="#2e3a4c"/>
<rect x="6" y="29" width="1" height="1" fill="#2e394c"/>
<rect x="7" y="29" width="1" height="1" fill="#2f394b"/>
<rect x="8" y="29" width="1" height="1" fill="#313a4b"/>
<rect x="9" y="29" width="1" height="1" fill="#343c4c"/>
<rect x="10" y="29" width="1" height="1" fill="#383e4e"/>
<rect x="11" y="29" width="1" height="1" fill="#414654"/>
<rect x="12" y="29" width="1" height="1" fill="#4f5262"/>
<rect x="13" y="29" width="1" height="1" fill="#585a6a"/>
<rect x="14" y="29" width="1" height="1" fill="#5e606e"/>
<rect x="15" y="29" width="1" height="1" fill="#5d606e"/>
<rect x="16" y="29" width="1" height="1" fill="#575a6c"/>
<rect x="17" y="29" width="1" height="1" fill="#55596a"/>
<rect x="18" y="29" width="1" height="1" fill="#575b6c"/>
<rect x="19" y="29" width="1" height="1" fill="#5c606f"/>
<rect x="20" y="29" width="1" height="1" fill="#626675"/>
<rect x="21" y="29" width="1" height="1" fill="#6a6e7c"/>
<rect x="22" y="29" width="1" height="1" fill="#727486"/>
<rect x="23" y="29" width="1" height="1" fill="#787a8b"/>
<rect x="24" y="29" width="1" height="1" fill="#7e808d"/>
<rect x="25" y="29" width="1" height="1" fill="#838490"/>
<rect x="26" y="29" width="1" height="1" fill="#898a96"/>
<rect x="27" y="29" width="1" height="1" fill="#888895"/>
<rect x="28" y="29" width="1" height="1" fill="#80828f"/>
<rect x="29" y="29" width="1" height="1" fill="#727483"/>
<rect x="30" y="29" width="1" height="1" fill="#5c6071"/>
<rect x="31" y="29" width="1" height="1" fill="#505466"/>
<rect x="32" y="29" width="1" height="1" fill="#4a4e62"/>
<rect x="33" y="29" width="1" height="1" fill="#494d61"/>
<rect x="34" y="29" width="1" height="1" fill="#4b4f63"/>
<rect x="35" y="29" width="1" height="1" fill="#52566a"/>
<rect x="36" y="29" width="1" height="1" fill="#606276"/>
<rect x="37" y="29" width="1" height="1" fill="#787a8c"/>
<rect x="38" y="29" width="1" height="1" fill="#9c9cae"/>
<rect x="39" y="29" width="1" height="1" fill="#bcbcca"/>
<rect x="40" y="29" width="1" height="1" fill="#dadae4"/>
<rect x="41" y="29" width="1" height="1" fill="#ececf3"/>
<rect x="42" y="29" width="1" height="1" fill="#f6f6fa"/>
<rect x="43" y="29" width="1" height="1" fill="#f8f8fc"/>
<rect x="44" y="29" width="1" height="1" fill="#f6f6f9"/>
<rect x="45" y="29" width="1" height="1" fill="#efeff4"/>
<rect x="46" y="29" width="1" height="1" fill="#e5e5ec"/>
<rect x="47" y="29" width="1" height="1" fill="#dfdfe8"/>
<rect x="48" y="29" width="1" height="1" fill="#dddde6"/>
<rect x="49" y="29" width="1" height="1" fill="#dcdce6"/>
<rect x="50" y="29" width="1" height="1" fill="#dadae4"/>
<rect x="51" y="29" width="1" height="1" fill="#d8d8e2"/>
<rect x="52" y="29" width="1" height="1" fill="#d2d2dc"/>
<rect x="53" y="29" width="1" height="1" fill="#c6c6d0"/>
<rect x="54" y="29" width="1" height="1" fill="#b2b2be"/>
<rect x="55" y="29" width="1" height="1" fill="#9e9faa"/>
<rect x="56" y="29" width="1" height="1" fill="#8a8d96"/>
<rect x="57" y="29" width="1" height="1" fill="#7b8087"/>
<rect x="58" y="29" width="1" height="1" fill="#71767d"/>
<rect x="59" y="29" width="1" height="1" fill="#6c7278"/>
</svg><svg class="dt" style="left:15px" width="715.0" height="356.5"><g fill="#000"><circle cx="6.6" cy="244.5" r="1.5"/><circle cx="18.4" cy="237.5" r="1.5"/><circle cx="19.3" cy="232.3" r="1.5"/><circle cx="24.2" cy="220.5" r="1.5"/><circle cx="30.4" cy="216.3" r="1.5"/><circle cx="42.6" cy="212.5" r="1.5"/><circle cx="54.4" cy="210.4" r="1.5"/><circle cx="58.4" cy="208.3" r="1.5"/><circle cx="66.6" cy="207.4" r="1.5"/><circle cx="77.4" cy="203.1" r="1.5"/><circle cx="89.4" cy="207.1" r="1.5"/><circle cx="90.6" cy="208.3" r="1.5"/><circle cx="101.4" cy="219.4" r="1.5"/><circle cx="105.4" cy="220.5" r="1.5"/><circle cx="113.4" cy="223.4" r="1.5"/><circle cx="125.4" cy="223.4" r="1.5"/><circle cx="137.4" cy="226.4" r="1.5"/><circle cx="149.4" cy="230.6" r="1.5"/><circle cx="153.4" cy="232.5" r="1.5"/><circle cx="161.4" cy="235.4" r="1.5"/><circle cx="173.4" cy="243.4" r="1.5"/><circle cx="174.6" cy="244.8" r="1.5"/><circle cx="185.4" cy="249.2" r="1.5"/><circle cx="197.4" cy="253.5" r="1.5"/><circle cx="208.5" cy="252.5" r="1.5"/><circle cx="220.2" cy="244.5" r="1.5"/><circle cx="221.4" cy="244.5" r="1.5"/><circle cx="230.6" cy="232.5" r="1.5"/><circle cx="232.5" cy="228.3" r="1.5"/><circle cx="238.4" cy="220.3" r="1.5"/><circle cx="244.6" cy="205.1" r="1.5"/><circle cx="251.4" cy="196.4" r="1.5"/><circle cx="256.4" cy="192.6" r="1.5"/><circle cx="268.4" cy="187.5" r="1.5"/><circle cx="273.3" cy="184.2" r="1.5"/><circle cx="280.4" cy="181.6" r="1.5"/><circle cx="292.4" cy="175.5" r="1.5"/><circle cx="304.4" cy="173.6" r="1.5"/><circle cx="316.4" cy="174.5" r="1.5"/><circle cx="328.4" cy="175.5" r="1.5"/><circle cx="339.4" cy="175.5" r="1.5"/><circle cx="346.5" cy="172.6" r="1.5"/><circle cx="350.9" cy="162.5" r="1.5"/><circle cx="352.1" cy="160.6" r="1.5"/><circle cx="359.4" cy="149.6" r="1.5"/><circle cx="363.4" cy="145.4" r="1.5"/><circle cx="374.5" cy="137.1" r="1.5"/><circle cx="375.6" cy="135.2" r="1.5"/><circle cx="387.4" cy="124.6" r="1.5"/><circle cx="399.4" cy="121.4" r="1.5"/><circle cx="411.4" cy="120.4" r="1.5"/><circle cx="423.4" cy="122.5" r="1.5"/><circle cx="429.3" cy="125.4" r="1.5"/><circle cx="435.4" cy="127.5" r="1.5"/><circle cx="447.4" cy="132.4" r="1.5"/><circle cx="457.1" cy="137.2" r="1.5"/><circle cx="459.5" cy="137.2" r="1.5"/><circle cx="471.6" cy="139.4" r="1.5"/><circle cx="482.4" cy="139.4" r="1.5"/><circle cx="494.3" cy="137.1" r="1.5"/><circle cx="497.2" cy="137.1" r="1.5"/><circle cx="506.4" cy="133.4" r="1.5"/><circle cx="518.2" cy="132.3" r="1.5"/><circle cx="530.3" cy="135.2" r="1.5"/><circle cx="538.5" cy="137.1" r="1.5"/><circle cx="542.2" cy="137.1" r="1.5"/><circle cx="554.3" cy="139.2" r="1.5"/><circle cx="566.2" cy="143.1" r="1.5"/><circle cx="578.3" cy="148.1" r="1.5"/><circle cx="579.3" cy="149.4" r="1.5"/><circle cx="590.4" cy="150.2" r="1.5"/><circle cx="602.3" cy="149.2" r="1.5"/><circle cx="613.3" cy="149.2" r="1.5"/><circle cx="625.4" cy="152.1" r="1.5"/><circle cx="637.3" cy="154.2" r="1.5"/><circle cx="649.4" cy="154.2" r="1.5"/><circle cx="661.3" cy="153.1" r="1.5"/><circle cx="673.4" cy="152.1" r="1.5"/><circle cx="685.2" cy="153.1" r="1.5"/><circle cx="697.4" cy="156.3" r="1.5"/><circle cx="709.5" cy="158.1" r="1.5"/></g></svg>
<svg class="pn" style="left:873px" width="715.0" height="356.5" viewBox="0 0 60 30" preserveAspectRatio="none" shape-rendering="crispEdges">
<rect x="0" y="0" width="60" height="1" fill="#53249a"/>
<rect x="0" y="1" width="60" height="1" fill="#53249a"/>
<rect x="0" y="2" width="60" height="1" fill="#53249a"/>
<rect x="0" y="3" width="60" height="1" fill="#53249a"/>
<rect x="0" y="4" width="60" height="1" fill="#53249a"/>
<rect x="0" y="5" width="60" height="1" fill="#53249a"/>
<rect x="0" y="6" width="60" height="1" fill="#53249a"/>
<rect x="0" y="7" width="60" height="1" fill="#53249a"/>
<rect x="0" y="8" width="60" height="1" fill="#53249a"/>
<rect x="0" y="9" width="60" height="1" fill="#53249a"/>
<rect x="0" y="10" width="60" height="1" fill="#53249a"/>
<rect x="0" y="11" width="32" height="1" fill="#53249a"/>
<rect x="32" y="11" width="1" height="1" fill="#6d1d55"/>
<rect x="33" y="11" width="1" height="1" fill="#6f1e56"/>
<rect x="34" y="11" width="1" height="1" fill="#6f1e57"/>
<rect x="35" y="11" width="1" height="1" fill="#701e57"/>
<rect x="36" y="11" width="1" height="1" fill="#6f1e57"/>
<rect x="37" y="11" width="23" height="1" fill="#53249a"/>
<rect x="0" y="12" width="31" height="1" fill="#53249a"/>
<rect x="31" y="12" width="1" height="1" fill="#6e1d55"/>
<rect x="32" y="12" width="1" height="1" fill="#6f1e56"/>
<rect x="33" y="12" width="1" height="1" fill="#701f57"/>
<rect x="34" y="12" width="1" height="1" fill="#712058"/>
<rect x="35" y="12" width="1" height="1" fill="#722058"/>
<rect x="36" y="12" width="3" height="1" fill="#722059"/>
<rect x="39" y="12" width="1" height="1" fill="#732159"/>
<rect x="40" y="12" width="2" height="1" fill="#53249a"/>
<rect x="42" y="12" width="1" height="1" fill="#73225a"/>
<rect x="43" y="12" width="1" height="1" fill="#73215a"/>
<rect x="44" y="12" width="1" height="1" fill="#732159"/>
<rect x="45" y="12" width="1" height="1" fill="#722159"/>
<rect x="46" y="12" width="14" height="1" fill="#53249a"/>
<rect x="0" y="13" width="30" height="1" fill="#53249a"/>
<rect x="30" y="13" width="1" height="1" fill="#6e1d55"/>
<rect x="31" y="13" width="1" height="1" fill="#6f1e56"/>
<rect x="32" y="13" width="1" height="1" fill="#701f57"/>
<rect x="33" y="13" width="1" height="1" fill="#712058"/>
<rect x="34" y="13" width="1" height="1" fill="#722059"/>
<rect x="35" y="13" width="1" height="1" fill="#722159"/>
<rect x="36" y="13" width="1" height="1" fill="#73215a"/>
<rect x="37" y="13" width="1" height="1" fill="#73225a"/>
<rect x="38" y="13" width="1" height="1" fill="#74225a"/>
<rect x="39" y="13" width="1" height="1" fill="#75235c"/>
<rect x="40" y="13" width="1" height="1" fill="#77255e"/>
<rect x="41" y="13" width="1" height="1" fill="#78265e"/>
<rect x="42" y="13" width="1" height="1" fill="#78255e"/>
<rect x="43" y="13" width="1" height="1" fill="#77245d"/>
<rect x="44" y="13" width="1" height="1" fill="#75235b"/>
<rect x="45" y="13" width="1" height="1" fill="#74225b"/>
<rect x="46" y="13" width="1" height="1" fill="#74225a"/>
<rect x="47" y="13" width="1" height="1" fill="#73215a"/>
<rect x="48" y="13" width="1" height="1" fill="#722059"/>
<rect x="49" y="13" width="11" height="1" fill="#53249a"/>
<rect x="0" y="14" width="30" height="1" fill="#53249a"/>
<rect x="30" y="14" width="1" height="1" fill="#6e1d56"/>
<rect x="31" y="14" width="1" height="1" fill="#6f1e57"/>
<rect x="32" y="14" width="1" height="1" fill="#701f57"/>
<rect x="33" y="14" width="1" height="1" fill="#712058"/>
<rect x="34" y="14" width="1" height="1" fill="#722059"/>
<rect x="35" y="14" width="1" height="1" fill="#722159"/>
<rect x="36" y="14" width="1" height="1" fill="#73215a"/>
<rect x="37" y="14" width="1" height="1" fill="#74225a"/>
<rect x="38" y="14" width="1" height="1" fill="#75225b"/>
<rect x="39" y="14" width="1" height="1" fill="#77245d"/>
<rect x="40" y="14" width="1" height="1" fill="#7b2861"/>
<rect x="41" y="14" width="1" height="1" fill="#7c2962"/>
<rect x="42" y="14" width="1" height="1" fill="#7c2861"/>
<rect x="43" y="14" width="1" height="1" fill="#7a2760"/>
<rect x="44" y="14" width="1" height="1" fill="#77245d"/>
<rect x="45" y="14" width="2" height="1" fill="#75235b"/>
<rect x="47" y="14" width="1" height="1" fill="#74225b"/>
<rect x="48" y="14" width="1" height="1" fill="#74225a"/>
<rect x="49" y="14" width="2" height="1" fill="#73215a"/>
<rect x="51" y="14" width="1" height="1" fill="#732159"/>
<rect x="52" y="14" width="1" height="1" fill="#722159"/>
<rect x="53" y="14" width="1" height="1" fill="#722059"/>
<rect x="54" y="14" width="1" height="1" fill="#722058"/>
<rect x="55" y="14" width="1" height="1" fill="#712058"/>
<rect x="56" y="14" width="1" height="1" fill="#711f58"/>
<rect x="57" y="14" width="1" height="1" fill="#701f57"/>
<rect x="58" y="14" width="2" height="1" fill="#701e57"/>
<rect x="0" y="15" width="25" height="1" fill="#53249a"/>
<rect x="25" y="15" width="2" height="1" fill="#6e1d55"/>
<rect x="27" y="15" width="1" height="1" fill="#6e1d56"/>
<rect x="28" y="15" width="3" height="1" fill="#6f1e56"/>
<rect x="31" y="15" width="2" height="1" fill="#701f57"/>
<rect x="33" y="15" width="1" height="1" fill="#712058"/>
<rect x="34" y="15" width="1" height="1" fill="#722058"/>
<rect x="35" y="15" width="1" height="1" fill="#722159"/>
<rect x="36" y="15" width="1" height="1" fill="#73215a"/>
<rect x="37" y="15" width="1" height="1" fill="#74225a"/>
<rect x="38" y="15" width="1" height="1" fill="#75235b"/>
<rect x="39" y="15" width="1" height="1" fill="#77255d"/>
<rect x="40" y="15" width="1" height="1" fill="#7b2860"/>
<rect x="41" y="15" width="1" height="1" fill="#7c2962"/>
<rect x="42" y="15" width="1" height="1" fill="#7c2961"/>
<rect x="43" y="15" width="1" height="1" fill="#7a2760"/>
<rect x="44" y="15" width="1" height="1" fill="#77255d"/>
<rect x="45" y="15" width="3" height="1" fill="#76245c"/>
<rect x="48" y="15" width="3" height="1" fill="#76235c"/>
<rect x="51" y="15" width="1" height="1" fill="#76245c"/>
<rect x="52" y="15" width="1" height="1" fill="#76235c"/>
<rect x="53" y="15" width="1" height="1" fill="#75235c"/>
<rect x="54" y="15" width="1" height="1" fill="#75235b"/>
<rect x="55" y="15" width="1" height="1" fill="#74225a"/>
<rect x="56" y="15" width="1" height="1" fill="#73215a"/>
<rect x="57" y="15" width="1" height="1" fill="#722059"/>
<rect x="58" y="15" width="1" height="1" fill="#712058"/>
<rect x="59" y="15" width="1" height="1" fill="#711f58"/>
<rect x="0" y="16" width="22" height="1" fill="#53249a"/>
<rect x="22" y="16" width="1" height="1" fill="#6d1c55"/>
<rect x="23" y="16" width="1" height="1" fill="#6f1e56"/>
<rect x="24" y="16" width="1" height="1" fill="#701f57"/>
<rect x="25" y="16" width="1" height="1" fill="#711f58"/>
<rect x="26" y="16" width="2" height="1" fill="#712058"/>
<rect x="28" y="16" width="1" height="1" fill="#711f58"/>
<rect x="29" y="16" width="4" height="1" fill="#701f57"/>
<rect x="33" y="16" width="1" height="1" fill="#711f58"/>
<rect x="34" y="16" width="1" height="1" fill="#712058"/>
<rect x="35" y="16" width="1" height="1" fill="#722059"/>
<rect x="36" y="16" width="1" height="1" fill="#732159"/>
<rect x="37" y="16" width="1" height="1" fill="#74225a"/>
<rect x="38" y="16" width="1" height="1" fill="#75235b"/>
<rect x="39" y="16" width="1" height="1" fill="#76245c"/>
<rect x="40" y="16" width="1" height="1" fill="#77255d"/>
<rect x="41" y="16" width="3" height="1" fill="#78255e"/>
<rect x="44" y="16" width="1" height="1" fill="#77255d"/>
<rect x="45" y="16" width="1" height="1" fill="#77245d"/>
<rect x="46" y="16" width="1" height="1" fill="#77255d"/>
<rect x="47" y="16" width="2" height="1" fill="#78255e"/>
<rect x="49" y="16" width="1" height="1" fill="#78265e"/>
<rect x="50" y="16" width="1" height="1" fill="#79265f"/>
<rect x="51" y="16" width="1" height="1" fill="#79275f"/>
<rect x="52" y="16" width="1" height="1" fill="#7a275f"/>
<rect x="53" y="16" width="1" height="1" fill="#79265f"/>
<rect x="54" y="16" width="1" height="1" fill="#78255e"/>
<rect x="55" y="16" width="1" height="1" fill="#77245d"/>
<rect x="56" y="16" width="1" height="1" fill="#75235b"/>
<rect x="57" y="16" width="1" height="1" fill="#74225a"/>
<rect x="58" y="16" width="1" height="1" fill="#732159"/>
<rect x="59" y="16" width="1" height="1" fill="#722159"/>
<rect x="0" y="17" width="4" height="1" fill="#53249a"/>
<rect x="4" y="17" width="2" height="1" fill="#681850"/>
<rect x="6" y="17" width="1" height="1" fill="#671850"/>
<rect x="7" y="17" width="1" height="1" fill="#67174f"/>
<rect x="8" y="17" width="13" height="1" fill="#53249a"/>
<rect x="21" y="17" width="1" height="1" fill="#6d1c55"/>
<rect x="22" y="17" width="1" height="1" fill="#6f1e57"/>
<rect x="23" y="17" width="1" height="1" fill="#712058"/>
<rect x="24" y="17" width="1" height="1" fill="#73215a"/>
<rect x="25" y="17" width="1" height="1" fill="#74225a"/>
<rect x="26" y="17" width="1" height="1" fill="#74225b"/>
<rect x="27" y="17" width="1" height="1" fill="#73215a"/>
<rect x="28" y="17" width="1" height="1" fill="#722059"/>
<rect x="29" y="17" width="1" height="1" fill="#711f58"/>
<rect x="30" y="17" width="1" height="1" fill="#701f57"/>
<rect x="31" y="17" width="2" height="1" fill="#701e57"/>
<rect x="33" y="17" width="1" height="1" fill="#701f57"/>
<rect x="34" y="17" width="1" height="1" fill="#711f58"/>
<rect x="35" y="17" width="1" height="1" fill="#722058"/>
<rect x="36" y="17" width="1" height="1" fill="#73215a"/>
<rect x="37" y="17" width="1" height="1" fill="#74225a"/>
<rect x="38" y="17" width="1" height="1" fill="#75235b"/>
<rect x="39" y="17" width="1" height="1" fill="#75235c"/>
<rect x="40" y="17" width="1" height="1" fill="#76235c"/>
<rect x="41" y="17" width="1" height="1" fill="#76245c"/>
<rect x="42" y="17" width="1" height="1" fill="#76245d"/>
<rect x="43" y="17" width="1" height="1" fill="#77245d"/>
<rect x="44" y="17" width="1" height="1" fill="#77255d"/>
<rect x="45" y="17" width="1" height="1" fill="#78255e"/>
<rect x="46" y="17" width="1" height="1" fill="#78265e"/>
<rect x="47" y="17" width="2" height="1" fill="#79265f"/>
<rect x="49" y="17" width="1" height="1" fill="#7a2760"/>
<rect x="50" y="17" width="1" height="1" fill="#7b2861"/>
<rect x="51" y="17" width="1" height="1" fill="#7c2861"/>
<rect x="52" y="17" width="1" height="1" fill="#7c2961"/>
<rect x="53" y="17" width="1" height="1" fill="#7b2861"/>
<rect x="54" y="17" width="1" height="1" fill="#79275f"/>
<rect x="55" y="17" width="1" height="1" fill="#78255e"/>
<rect x="56" y="17" width="1" height="1" fill="#76245c"/>
<rect x="57" y="17" width="1" height="1" fill="#75235b"/>
<rect x="58" y="17" width="2" height="1" fill="#74225a"/>
<rect x="0" y="18" width="1" height="1" fill="#6a1952"/>
<rect x="1" y="18" width="1" height="1" fill="#6a1951"/>
<rect x="2" y="18" width="2" height="1" fill="#691951"/>
<rect x="4" y="18" width="1" height="1" fill="#691850"/>
<rect x="5" y="18" width="4" height="1" fill="#681850"/>
<rect x="9" y="18" width="12" height="1" fill="#53249a"/>
<rect x="21" y="18" width="1" height="1" fill="#6f1e56"/>
<rect x="22" y="18" width="1" height="1" fill="#712058"/>
<rect x="23" y="18" width="1" height="1" fill="#74225a"/>
<rect x="24" y="18" width="1" height="1" fill="#76245c"/>
<rect x="25" y="18" width="1" height="1" fill="#77245d"/>
<rect x="26" y="18" width="1" height="1" fill="#76245c"/>
<rect x="27" y="18" width="1" height="1" fill="#75225b"/>
<rect x="28" y="18" width="1" height="1" fill="#722059"/>
<rect x="29" y="18" width="1" height="1" fill="#701f57"/>
<rect x="30" y="18" width="4" height="1" fill="#6f1e56"/>
<rect x="34" y="18" width="1" height="1" fill="#701f57"/>
<rect x="35" y="18" width="1" height="1" fill="#722058"/>
<rect x="36" y="18" width="1" height="1" fill="#73215a"/>
<rect x="37" y="18" width="1" height="1" fill="#74225b"/>
<rect x="38" y="18" width="1" height="1" fill="#75235c"/>
<rect x="39" y="18" width="1" height="1" fill="#76245c"/>
<rect x="40" y="18" width="1" height="1" fill="#76245d"/>
<rect x="41" y="18" width="1" height="1" fill="#77245d"/>
<rect x="42" y="18" width="1" height="1" fill="#77255d"/>
<rect x="43" y="18" width="2" height="1" fill="#78255e"/>
<rect x="45" y="18" width="2" height="1" fill="#79265f"/>
<rect x="47" y="18" width="1" height="1" fill="#7a275f"/>
<rect x="48" y="18" width="1" height="1" fill="#7a2760"/>
<rect x="49" y="18" width="1" height="1" fill="#7b2861"/>
<rect x="50" y="18" width="1" height="1" fill="#7c2961"/>
<rect x="51" y="18" width="2" height="1" fill="#7c2962"/>
<rect x="53" y="18" width="1" height="1" fill="#7b2861"/>
<rect x="54" y="18" width="1" height="1" fill="#79265f"/>
<rect x="55" y="18" width="1" height="1" fill="#77255d"/>
<rect x="56" y="18" width="1" height="1" fill="#76245c"/>
<rect x="57" y="18" width="2" height="1" fill="#75235c"/>
<rect x="59" y="18" width="1" height="1" fill="#75235b"/>
<rect x="0" y="19" width="1" height="1" fill="#6a1951"/>
<rect x="1" y="19" width="3" height="1" fill="#691951"/>
<rect x="4" y="19" width="1" height="1" fill="#691850"/>
<rect x="5" y="19" width="7" height="1" fill="#681850"/>
<rect x="12" y="19" width="8" height="1" fill="#53249a"/>
<rect x="20" y="19" width="1" height="1" fill="#6d1c54"/>
<rect x="21" y="19" width="1" height="1" fill="#701f57"/>
<rect x="22" y="19" width="1" height="1" fill="#74225b"/>
<rect x="23" y="19" width="1" height="1" fill="#77255d"/>
<rect x="24" y="19" width="1" height="1" fill="#79265f"/>
<rect x="25" y="19" width="1" height="1" fill="#7a2760"/>
<rect x="26" y="19" width="1" height="1" fill="#79265f"/>
<rect x="27" y="19" width="1" height="1" fill="#76245d"/>
<rect x="28" y="19" width="1" height="1" fill="#722159"/>
<rect x="29" y="19" width="1" height="1" fill="#701f57"/>
<rect x="30" y="19" width="1" height="1" fill="#6f1e56"/>
<rect x="31" y="19" width="1" height="1" fill="#6e1d56"/>
<rect x="32" y="19" width="1" height="1" fill="#6e1d55"/>
<rect x="33" y="19" width="1" height="1" fill="#6f1e56"/>
<rect x="34" y="19" width="1" height="1" fill="#701f57"/>
<rect x="35" y="19" width="1" height="1" fill="#722059"/>
<rect x="36" y="19" width="1" height="1" fill="#74225a"/>
<rect x="37" y="19" width="1" height="1" fill="#76245c"/>
<rect x="38" y="19" width="1" height="1" fill="#79265f"/>
<rect x="39" y="19" width="1" height="1" fill="#7b2861"/>
<rect x="40" y="19" width="1" height="1" fill="#7d2a63"/>
<rect x="41" y="19" width="1" height="1" fill="#7e2b64"/>
<rect x="42" y="19" width="1" height="1" fill="#7f2b64"/>
<rect x="43" y="19" width="2" height="1" fill="#802c65"/>
<rect x="45" y="19" width="1" height="1" fill="#812d66"/>
<rect x="46" y="19" width="1" height="1" fill="#822d66"/>
<rect x="47" y="19" width="1" height="1" fill="#822e67"/>
<rect x="48" y="19" width="1" height="1" fill="#832e67"/>
<rect x="49" y="19" width="2" height="1" fill="#832f68"/>
<rect x="51" y="19" width="1" height="1" fill="#822e67"/>
<rect x="52" y="19" width="1" height="1" fill="#802c65"/>
<rect x="53" y="19" width="1" height="1" fill="#7d2a63"/>
<rect x="54" y="19" width="1" height="1" fill="#7a2760"/>
<rect x="55" y="19" width="1" height="1" fill="#78255e"/>
<rect x="56" y="19" width="1" height="1" fill="#77245d"/>
<rect x="57" y="19" width="3" height="1" fill="#76245c"/>
<rect x="0" y="20" width="3" height="1" fill="#691951"/>
<rect x="3" y="20" width="11" height="1" fill="#681850"/>
<rect x="14" y="20" width="5" height="1" fill="#53249a"/>
<rect x="19" y="20" width="1" height="1" fill="#6c1b53"/>
<rect x="20" y="20" width="1" height="1" fill="#6e1d55"/>
<rect x="21" y="20" width="1" height="1" fill="#722058"/>
<rect x="22" y="20" width="1" height="1" fill="#78255e"/>
<rect x="23" y="20" width="1" height="1" fill="#7c2861"/>
<rect x="24" y="20" width="2" height="1" fill="#7d2962"/>
<rect x="26" y="20" width="1" height="1" fill="#7c2861"/>
<rect x="27" y="20" width="1" height="1" fill="#79265f"/>
<rect x="28" y="20" width="1" height="1" fill="#74225a"/>
<rect x="29" y="20" width="1" height="1" fill="#701f57"/>
<rect x="30" y="20" width="1" height="1" fill="#6f1e56"/>
<rect x="31" y="20" width="1" height="1" fill="#6f1d56"/>
<rect x="32" y="20" width="1" height="1" fill="#6e1d56"/>
<rect x="33" y="20" width="1" height="1" fill="#6f1e56"/>
<rect x="34" y="20" width="1" height="1" fill="#701f57"/>
<rect x="35" y="20" width="1" height="1" fill="#722159"/>
<rect x="36" y="20" width="1" height="1" fill="#74225b"/>
<rect x="37" y="20" width="1" height="1" fill="#79265f"/>
<rect x="38" y="20" width="1" height="1" fill="#802c65"/>
<rect x="39" y="20" width="1" height="1" fill="#86316a"/>
<rect x="40" y="20" width="1" height="1" fill="#8a356e"/>
<rect x="41" y="20" width="1" height="1" fill="#8d3771"/>
<rect x="42" y="20" width="1" height="1" fill="#8e3871"/>
<rect x="43" y="20" width="1" height="1" fill="#8f3972"/>
<rect x="44" y="20" width="1" height="1" fill="#903973"/>
<rect x="45" y="20" width="1" height="1" fill="#913a74"/>
<rect x="46" y="20" width="1" height="1" fill="#923b74"/>
<rect x="47" y="20" width="1" height="1" fill="#923b75"/>
<rect x="48" y="20" width="2" height="1" fill="#933c76"/>
<rect x="50" y="20" width="1" height="1" fill="#923b75"/>
<rect x="51" y="20" width="1" height="1" fill="#8e3771"/>
<rect x="52" y="20" width="1" height="1" fill="#87326b"/>
<rect x="53" y="20" width="1" height="1" fill="#812d66"/>
<rect x="54" y="20" width="1" height="1" fill="#7c2861"/>
<rect x="55" y="20" width="1" height="1" fill="#78265e"/>
<rect x="56" y="20" width="1" height="1" fill="#77255d"/>
<rect x="57" y="20" width="3" height="1" fill="#77245d"/>
<rect x="0" y="21" width="2" height="1" fill="#691951"/>
<rect x="2" y="21" width="1" height="1" fill="#691850"/>
<rect x="3" y="21" width="9" height="1" fill="#681850"/>
<rect x="12" y="21" width="1" height="1" fill="#691951"/>
<rect x="13" y="21" width="1" height="1" fill="#6a1a52"/>
<rect x="14" y="21" width="1" height="1" fill="#6b1a52"/>
<rect x="15" y="21" width="1" height="1" fill="#6b1a53"/>
<rect x="16" y="21" width="2" height="1" fill="#53249a"/>
<rect x="18" y="21" width="1" height="1" fill="#6c1b53"/>
<rect x="19" y="21" width="1" height="1" fill="#6d1c54"/>
<rect x="20" y="21" width="1" height="1" fill="#6f1e56"/>
<rect x="21" y="21" width="1" height="1" fill="#74225b"/>
<rect x="22" y="21" width="1" height="1" fill="#7b2861"/>
<rect x="23" y="21" width="1" height="1" fill="#7f2b64"/>
<rect x="24" y="21" width="2" height="1" fill="#802c65"/>
<rect x="26" y="21" width="1" height="1" fill="#7f2b64"/>
<rect x="27" y="21" width="1" height="1" fill="#7b2861"/>
<rect x="28" y="21" width="1" height="1" fill="#75235b"/>
<rect x="29" y="21" width="1" height="1" fill="#712058"/>
<rect x="30" y="21" width="1" height="1" fill="#701e57"/>
<rect x="31" y="21" width="1" height="1" fill="#6f1e56"/>
<rect x="32" y="21" width="1" height="1" fill="#6e1d56"/>
<rect x="33" y="21" width="1" height="1" fill="#6f1e56"/>
<rect x="34" y="21" width="1" height="1" fill="#701f57"/>
<rect x="35" y="21" width="1" height="1" fill="#732159"/>
<rect x="36" y="21" width="1" height="1" fill="#75235c"/>
<rect x="37" y="21" width="1" height="1" fill="#7c2861"/>
<rect x="38" y="21" width="1" height="1" fill="#86316a"/>
<rect x="39" y="21" width="1" height="1" fill="#8e3872"/>
<rect x="40" y="21" width="1" height="1" fill="#953e78"/>
<rect x="41" y="21" width="1" height="1" fill="#9a427c"/>
<rect x="42" y="21" width="1" height="1" fill="#9b437d"/>
<rect x="43" y="21" width="1" height="1" fill="#9d447e"/>
<rect x="44" y="21" width="1" height="1" fill="#9e4580"/>
<rect x="45" y="21" width="4" height="1" fill="#9f4680"/>
<rect x="49" y="21" width="1" height="1" fill="#9c447e"/>
<rect x="50" y="21" width="1" height="1" fill="#974079"/>
<rect x="51" y="21" width="1" height="1" fill="#913a74"/>
<rect x="52" y="21" width="1" height="1" fill="#89336d"/>
<rect x="53" y="21" width="1" height="1" fill="#822e67"/>
<rect x="54" y="21" width="1" height="1" fill="#7d2a63"/>
<rect x="55" y="21" width="1" height="1" fill="#7a2760"/>
<rect x="56" y="21" width="1" height="1" fill="#78265e"/>
<rect x="57" y="21" width="3" height="1" fill="#78255e"/>
<rect x="0" y="22" width="3" height="1" fill="#691951"/>
<rect x="3" y="22" width="1" height="1" fill="#691851"/>
<rect x="4" y="22" width="7" height="1" fill="#681850"/>
<rect x="11" y="22" width="1" height="1" fill="#691951"/>
<rect x="12" y="22" width="1" height="1" fill="#6c1b53"/>
<rect x="13" y="22" width="1" height="1" fill="#6e1d55"/>
<rect x="14" y="22" width="2" height="1" fill="#6f1e56"/>
<rect x="16" y="22" width="2" height="1" fill="#6e1d55"/>
<rect x="18" y="22" width="1" height="1" fill="#6e1d56"/>
<rect x="19" y="22" width="1" height="1" fill="#701e57"/>
<rect x="20" y="22" width="1" height="1" fill="#722159"/>
<rect x="21" y="22" width="1" height="1" fill="#77245d"/>
<rect x="22" y="22" width="1" height="1" fill="#7d2a63"/>
<rect x="23" y="22" width="1" height="1" fill="#822d66"/>
<rect x="24" y="22" width="2" height="1" fill="#832f68"/>
<rect x="26" y="22" width="1" height="1" fill="#822e67"/>
<rect x="27" y="22" width="1" height="1" fill="#7e2a63"/>
<rect x="28" y="22" width="1" height="1" fill="#77245d"/>
<rect x="29" y="22" width="1" height="1" fill="#722159"/>
<rect x="30" y="22" width="1" height="1" fill="#701f57"/>
<rect x="31" y="22" width="3" height="1" fill="#6f1e56"/>
<rect x="34" y="22" width="1" height="1" fill="#711f58"/>
<rect x="35" y="22" width="1" height="1" fill="#73215a"/>
<rect x="36" y="22" width="1" height="1" fill="#76235c"/>
<rect x="37" y="22" width="1" height="1" fill="#7d2a63"/>
<rect x="38" y="22" width="1" height="1" fill="#8a346e"/>
<rect x="39" y="22" width="1" height="1" fill="#953d77"/>
<rect x="40" y="22" width="1" height="1" fill="#9e457f"/>
<rect x="41" y="22" width="1" height="1" fill="#a44a84"/>
<rect x="42" y="22" width="1" height="1" fill="#a64c87"/>
<rect x="43" y="22" width="1" height="1" fill="#a94e89"/>
<rect x="44" y="22" width="1" height="1" fill="#ac518b"/>
<rect x="45" y="22" width="1" height="1" fill="#ac518c"/>
<rect x="46" y="22" width="1" height="1" fill="#ab508a"/>
<rect x="47" y="22" width="1" height="1" fill="#a84e88"/>
<rect x="48" y="22" width="1" height="1" fill="#a54b86"/>
<rect x="49" y="22" width="1" height="1" fill="#9f4680"/>
<rect x="50" y="22" width="1" height="1" fill="#943d77"/>
<rect x="51" y="22" width="1" height="1" fill="#8c366f"/>
<rect x="52" y="22" width="1" height="1" fill="#86316a"/>
<rect x="53" y="22" width="1" height="1" fill="#812d66"/>
<rect x="54" y="22" width="1" height="1" fill="#7e2b63"/>
<rect x="55" y="22" width="1" height="1" fill="#7c2961"/>
<rect x="56" y="22" width="1" height="1" fill="#7a2760"/>
<rect x="57" y="22" width="3" height="1" fill="#7a275f"/>
<rect x="0" y="23" width="4" height="1" fill="#691951"/>
<rect x="4" y="23" width="7" height="1" fill="#681850"/>
<rect x="11" y="23" width="1" height="1" fill="#6a1a52"/>
<rect x="12" y="23" width="1" height="1" fill="#6e1d55"/>
<rect x="13" y="23" width="1" height="1" fill="#711f58"/>
<rect x="14" y="23" width="1" height="1" fill="#722159"/>
<rect x="15" y="23" width="1" height="1" fill="#722059"/>
<rect x="16" y="23" width="1" height="1" fill="#701f57"/>
<rect x="17" y="23" width="1" height="1" fill="#701e57"/>
<rect x="18" y="23" width="1" height="1" fill="#701f57"/>
<rect x="19" y="23" width="1" height="1" fill="#722058"/>
<rect x="20" y="23" width="1" height="1" fill="#74225b"/>
<rect x="21" y="23" width="1" height="1" fill="#79265e"/>
<rect x="22" y="23" width="1" height="1" fill="#7e2b64"/>
<rect x="23" y="23" width="1" height="1" fill="#822e67"/>
<rect x="24" y="23" width="1" height="1" fill="#843069"/>
<rect x="25" y="23" width="1" height="1" fill="#85306a"/>
<rect x="26" y="23" width="1" height="1" fill="#843069"/>
<rect x="27" y="23" width="1" height="1" fill="#812d66"/>
<rect x="28" y="23" width="1" height="1" fill="#7b2860"/>
<rect x="29" y="23" width="1" height="1" fill="#76245c"/>
<rect x="30" y="23" width="1" height="1" fill="#722159"/>
<rect x="31" y="23" width="1" height="1" fill="#701f57"/>
<rect x="32" y="23" width="1" height="1" fill="#6f1e57"/>
<rect x="33" y="23" width="1" height="1" fill="#701f57"/>
<rect x="34" y="23" width="1" height="1" fill="#712058"/>
<rect x="35" y="23" width="1" height="1" fill="#74225a"/>
<rect x="36" y="23" width="1" height="1" fill="#77255d"/>
<rect x="37" y="23" width="1" height="1" fill="#802c65"/>
<rect x="38" y="23" width="1" height="1" fill="#8e3872"/>
<rect x="39" y="23" width="1" height="1" fill="#9b427c"/>
<rect x="40" y="23" width="1" height="1" fill="#a44a85"/>
<rect x="41" y="23" width="1" height="1" fill="#ab508b"/>
<rect x="42" y="23" width="1" height="1" fill="#ae538e"/>
<rect x="43" y="23" width="1" height="1" fill="#b15590"/>
<rect x="44" y="23" width="1" height="1" fill="#b35792"/>
<rect x="45" y="23" width="1" height="1" fill="#b35691"/>
<rect x="46" y="23" width="1" height="1" fill="#af538e"/>
<rect x="47" y="23" width="1" height="1" fill="#ab508b"/>
<rect x="48" y="23" width="1" height="1" fill="#a74d87"/>
<rect x="49" y="23" width="1" height="1" fill="#9f4680"/>
<rect x="50" y="23" width="1" height="1" fill="#933c76"/>
<rect x="51" y="23" width="1" height="1" fill="#8b356f"/>
<rect x="52" y="23" width="1" height="1" fill="#86316a"/>
<rect x="53" y="23" width="1" height="1" fill="#822e67"/>
<rect x="54" y="23" width="1" height="1" fill="#802c65"/>
<rect x="55" y="23" width="1" height="1" fill="#7e2a63"/>
<rect x="56" y="23" width="1" height="1" fill="#7c2962"/>
<rect x="57" y="23" width="1" height="1" fill="#7c2861"/>
<rect x="58" y="23" width="2" height="1" fill="#7b2861"/>
<rect x="0" y="24" width="3" height="1" fill="#691951"/>
<rect x="3" y="24" width="1" height="1" fill="#691850"/>
<rect x="4" y="24" width="2" height="1" fill="#681850"/>
<rect x="6" y="24" width="4" height="1" fill="#67174f"/>
<rect x="10" y="24" width="1" height="1" fill="#681850"/>
<rect x="11" y="24" width="1" height="1" fill="#6a1a52"/>
<rect x="12" y="24" width="1" height="1" fill="#6f1e57"/>
<rect x="13" y="24" width="1" height="1" fill="#732159"/>
<rect x="14" y="24" width="1" height="1" fill="#74225a"/>
<rect x="15" y="24" width="1" height="1" fill="#73215a"/>
<rect x="16" y="24" width="1" height="1" fill="#712058"/>
<rect x="17" y="24" width="1" height="1" fill="#711f58"/>
<rect x="18" y="24" width="1" height="1" fill="#712058"/>
<rect x="19" y="24" width="1" height="1" fill="#732159"/>
<rect x="20" y="24" width="1" height="1" fill="#75235c"/>
<rect x="21" y="24" width="1" height="1" fill="#79265f"/>
<rect x="22" y="24" width="1" height="1" fill="#7e2a63"/>
<rect x="23" y="24" width="1" height="1" fill="#822d66"/>
<rect x="24" y="24" width="1" height="1" fill="#842f68"/>
<rect x="25" y="24" width="1" height="1" fill="#85306a"/>
<rect x="26" y="24" width="1" height="1" fill="#86316a"/>
<rect x="27" y="24" width="1" height="1" fill="#853069"/>
<rect x="28" y="24" width="1" height="1" fill="#812d66"/>
<rect x="29" y="24" width="1" height="1" fill="#7c2962"/>
<rect x="30" y="24" width="1" height="1" fill="#76245c"/>
<rect x="31" y="24" width="1" height="1" fill="#722059"/>
<rect x="32" y="24" width="1" height="1" fill="#711f58"/>
<rect x="33" y="24" width="1" height="1" fill="#712058"/>
<rect x="34" y="24" width="1" height="1" fill="#722159"/>
<rect x="35" y="24" width="1" height="1" fill="#75235c"/>
<rect x="36" y="24" width="1" height="1" fill="#7a2760"/>
<rect x="37" y="24" width="1" height="1" fill="#842f68"/>
<rect x="38" y="24" width="1" height="1" fill="#933c76"/>
<rect x="39" y="24" width="1" height="1" fill="#9f4681"/>
<rect x="40" y="24" width="1" height="1" fill="#a94e89"/>
<rect x="41" y="24" width="1" height="1" fill="#af538e"/>
<rect x="42" y="24" width="1" height="1" fill="#b25691"/>
<rect x="43" y="24" width="1" height="1" fill="#b45893"/>
<rect x="44" y="24" width="1" height="1" fill="#b55994"/>
<rect x="45" y="24" width="1" height="1" fill="#b35792"/>
<rect x="46" y="24" width="1" height="1" fill="#ad518c"/>
<rect x="47" y="24" width="1" height="1" fill="#a74d88"/>
<rect x="48" y="24" width="1" height="1" fill="#a34a84"/>
<rect x="49" y="24" width="1" height="1" fill="#9d457f"/>
<rect x="50" y="24" width="1" height="1" fill="#953e78"/>
<rect x="51" y="24" width="1" height="1" fill="#8e3871"/>
<rect x="52" y="24" width="1" height="1" fill="#88336c"/>
<rect x="53" y="24" width="1" height="1" fill="#842f68"/>
<rect x="54" y="24" width="1" height="1" fill="#822e67"/>
<rect x="55" y="24" width="1" height="1" fill="#812d66"/>
<rect x="56" y="24" width="1" height="1" fill="#7f2b64"/>
<rect x="57" y="24" width="1" height="1" fill="#7e2a63"/>
<rect x="58" y="24" width="1" height="1" fill="#7d2a63"/>
<rect x="59" y="24" width="1" height="1" fill="#7d2a62"/>
<rect x="0" y="25" width="3" height="1" fill="#691951"/>
<rect x="3" y="25" width="2" height="1" fill="#681850"/>
<rect x="5" y="25" width="5" height="1" fill="#67174f"/>
<rect x="10" y="25" width="1" height="1" fill="#681850"/>
<rect x="11" y="25" width="1" height="1" fill="#6b1a53"/>
<rect x="12" y="25" width="1" height="1" fill="#711f58"/>
<rect x="13" y="25" width="1" height="1" fill="#74225b"/>
<rect x="14" y="25" width="1" height="1" fill="#75235c"/>
<rect x="15" y="25" width="1" height="1" fill="#75235b"/>
<rect x="16" y="25" width="1" height="1" fill="#73215a"/>
<rect x="17" y="25" width="1" height="1" fill="#722059"/>
<rect x="18" y="25" width="1" height="1" fill="#732159"/>
<rect x="19" y="25" width="1" height="1" fill="#74225b"/>
<rect x="20" y="25" width="1" height="1" fill="#77245d"/>
<rect x="21" y="25" width="1" height="1" fill="#7a2760"/>
<rect x="22" y="25" width="1" height="1" fill="#7f2b64"/>
<rect x="23" y="25" width="1" height="1" fill="#822e67"/>
<rect x="24" y="25" width="1" height="1" fill="#843069"/>
<rect x="25" y="25" width="1" height="1" fill="#86316b"/>
<rect x="26" y="25" width="1" height="1" fill="#89336d"/>
<rect x="27" y="25" width="1" height="1" fill="#88336c"/>
<rect x="28" y="25" width="1" height="1" fill="#86316a"/>
<rect x="29" y="25" width="1" height="1" fill="#802c65"/>
<rect x="30" y="25" width="1" height="1" fill="#78265e"/>
<rect x="31" y="25" width="1" height="1" fill="#73215a"/>
<rect x="32" y="25" width="2" height="1" fill="#722059"/>
<rect x="34" y="25" width="1" height="1" fill="#73215a"/>
<rect x="35" y="25" width="1" height="1" fill="#76245d"/>
<rect x="36" y="25" width="1" height="1" fill="#7c2861"/>
<rect x="37" y="25" width="1" height="1" fill="#86316b"/>
<rect x="38" y="25" width="1" height="1" fill="#963f78"/>
<rect x="39" y="25" width="1" height="1" fill="#a34983"/>
<rect x="40" y="25" width="1" height="1" fill="#ac518c"/>
<rect x="41" y="25" width="1" height="1" fill="#b25691"/>
<rect x="42" y="25" width="1" height="1" fill="#b55894"/>
<rect x="43" y="25" width="1" height="1" fill="#b75a95"/>
<rect x="44" y="25" width="1" height="1" fill="#b75a96"/>
<rect x="45" y="25" width="1" height="1" fill="#b45793"/>
<rect x="46" y="25" width="1" height="1" fill="#ad518c"/>
<rect x="47" y="25" width="1" height="1" fill="#a74d87"/>
<rect x="48" y="25" width="1" height="1" fill="#a34a84"/>
<rect x="49" y="25" width="1" height="1" fill="#9f4680"/>
<rect x="50" y="25" width="1" height="1" fill="#9a417c"/>
<rect x="51" y="25" width="1" height="1" fill="#943d77"/>
<rect x="52" y="25" width="1" height="1" fill="#8f3872"/>
<rect x="53" y="25" width="1" height="1" fill="#8b356e"/>
<rect x="54" y="25" width="1" height="1" fill="#88336c"/>
<rect x="55" y="25" width="1" height="1" fill="#86316a"/>
<rect x="56" y="25" width="1" height="1" fill="#832f68"/>
<rect x="57" y="25" width="1" height="1" fill="#812d66"/>
<rect x="58" y="25" width="1" height="1" fill="#802c65"/>
<rect x="59" y="25" width="1" height="1" fill="#7f2b64"/>
<rect x="0" y="26" width="2" height="1" fill="#691951"/>
<rect x="2" y="26" width="2" height="1" fill="#681850"/>
<rect x="4" y="26" width="5" height="1" fill="#67174f"/>
<rect x="9" y="26" width="1" height="1" fill="#671850"/>
<rect x="10" y="26" width="1" height="1" fill="#681850"/>
<rect x="11" y="26" width="1" height="1" fill="#6c1b53"/>
<rect x="12" y="26" width="1" height="1" fill="#722058"/>
<rect x="13" y="26" width="1" height="1" fill="#75235c"/>
<rect x="14" y="26" width="2" height="1" fill="#77245d"/>
<rect x="16" y="26" width="1" height="1" fill="#74225b"/>
<rect x="17" y="26" width="1" height="1" fill="#74225a"/>
<rect x="18" y="26" width="1" height="1" fill="#74225b"/>
<rect x="19" y="26" width="1" height="1" fill="#76245c"/>
<rect x="20" y="26" width="1" height="1" fill="#79265f"/>
<rect x="21" y="26" width="1" height="1" fill="#7d2962"/>
<rect x="22" y="26" width="1" height="1" fill="#812d66"/>
<rect x="23" y="26" width="1" height="1" fill="#843069"/>
<rect x="24" y="26" width="1" height="1" fill="#87326b"/>
<rect x="25" y="26" width="1" height="1" fill="#89346d"/>
<rect x="26" y="26" width="1" height="1" fill="#8b366f"/>
<rect x="27" y="26" width="1" height="1" fill="#8b356f"/>
<rect x="28" y="26" width="1" height="1" fill="#88336c"/>
<rect x="29" y="26" width="1" height="1" fill="#822e67"/>
<rect x="30" y="26" width="1" height="1" fill="#79275f"/>
<rect x="31" y="26" width="1" height="1" fill="#74225b"/>
<rect x="32" y="26" width="1" height="1" fill="#722159"/>
<rect x="33" y="26" width="1" height="1" fill="#722059"/>
<rect x="34" y="26" width="1" height="1" fill="#73215a"/>
<rect x="35" y="26" width="1" height="1" fill="#77245d"/>
<rect x="36" y="26" width="1" height="1" fill="#7d2962"/>
<rect x="37" y="26" width="1" height="1" fill="#88336c"/>
<rect x="38" y="26" width="1" height="1" fill="#98407a"/>
<rect x="39" y="26" width="1" height="1" fill="#a44a85"/>
<rect x="40" y="26" width="1" height="1" fill="#ae528d"/>
<rect x="41" y="26" width="1" height="1" fill="#b45893"/>
<rect x="42" y="26" width="1" height="1" fill="#b75a95"/>
<rect x="43" y="26" width="1" height="1" fill="#b95b97"/>
<rect x="44" y="26" width="1" height="1" fill="#b95c97"/>
<rect x="45" y="26" width="1" height="1" fill="#b65994"/>
<rect x="46" y="26" width="1" height="1" fill="#af538e"/>
<rect x="47" y="26" width="1" height="1" fill="#aa4f8a"/>
<rect x="48" y="26" width="1" height="1" fill="#a64c86"/>
<rect x="49" y="26" width="1" height="1" fill="#a34984"/>
<rect x="50" y="26" width="1" height="1" fill="#a14882"/>
<rect x="51" y="26" width="1" height="1" fill="#9e457f"/>
<rect x="52" y="26" width="1" height="1" fill="#9a427c"/>
<rect x="53" y="26" width="1" height="1" fill="#963e78"/>
<rect x="54" y="26" width="1" height="1" fill="#923b75"/>
<rect x="55" y="26" width="1" height="1" fill="#8d3771"/>
<rect x="56" y="26" width="1" height="1" fill="#89346d"/>
<rect x="57" y="26" width="1" height="1" fill="#86316a"/>
<rect x="58" y="26" width="1" height="1" fill="#832f68"/>
<rect x="59" y="26" width="1" height="1" fill="#822d67"/>
<rect x="0" y="27" width="3" height="1" fill="#691951"/>
<rect x="3" y="27" width="2" height="1" fill="#681850"/>
<rect x="5" y="27" width="3" height="1" fill="#67174f"/>
<rect x="8" y="27" width="2" height="1" fill="#681850"/>
<rect x="10" y="27" width="1" height="1" fill="#691951"/>
<rect x="11" y="27" width="1" height="1" fill="#6d1c54"/>
<rect x="12" y="27" width="1" height="1" fill="#73215a"/>
<rect x="13" y="27" width="1" height="1" fill="#77255d"/>
<rect x="14" y="27" width="2" height="1" fill="#79265f"/>
<rect x="16" y="27" width="1" height="1" fill="#76245d"/>
<rect x="17" y="27" width="1" height="1" fill="#75235c"/>
<rect x="18" y="27" width="1" height="1" fill="#76245c"/>
<rect x="19" y="27" width="1" height="1" fill="#78255e"/>
<rect x="20" y="27" width="1" height="1" fill="#7b2861"/>
<rect x="21" y="27" width="1" height="1" fill="#7f2b64"/>
<rect x="22" y="27" width="1" height="1" fill="#832f68"/>
<rect x="23" y="27" width="1" height="1" fill="#86326b"/>
<rect x="24" y="27" width="1" height="1" fill="#89346d"/>
<rect x="25" y="27" width="1" height="1" fill="#8b366f"/>
<rect x="26" y="27" width="1" height="1" fill="#8e3871"/>
<rect x="27" y="27" width="1" height="1" fill="#8e3771"/>
<rect x="28" y="27" width="1" height="1" fill="#8a356e"/>
<rect x="29" y="27" width="1" height="1" fill="#843069"/>
<rect x="30" y="27" width="1" height="1" fill="#7b2860"/>
<rect x="31" y="27" width="1" height="1" fill="#75235b"/>
<rect x="32" y="27" width="1" height="1" fill="#73215a"/>
<rect x="33" y="27" width="1" height="1" fill="#722159"/>
<rect x="34" y="27" width="1" height="1" fill="#74225a"/>
<rect x="35" y="27" width="1" height="1" fill="#77255d"/>
<rect x="36" y="27" width="1" height="1" fill="#7d2a63"/>
<rect x="37" y="27" width="1" height="1" fill="#89336d"/>
<rect x="38" y="27" width="1" height="1" fill="#99417b"/>
<rect x="39" y="27" width="1" height="1" fill="#a64c87"/>
<rect x="40" y="27" width="1" height="1" fill="#b15590"/>
<rect x="41" y="27" width="1" height="1" fill="#b85b96"/>
<rect x="42" y="27" width="1" height="1" fill="#bb5e99"/>
<rect x="43" y="27" width="2" height="1" fill="#bd5f9a"/>
<rect x="45" y="27" width="1" height="1" fill="#ba5c98"/>
<rect x="46" y="27" width="1" height="1" fill="#b45792"/>
<rect x="47" y="27" width="1" height="1" fill="#af548e"/>
<rect x="48" y="27" width="1" height="1" fill="#ac518c"/>
<rect x="49" y="27" width="2" height="1" fill="#aa4f8a"/>
<rect x="51" y="27" width="1" height="1" fill="#a84d88"/>
<rect x="52" y="27" width="1" height="1" fill="#a54b86"/>
<rect x="53" y="27" width="1" height="1" fill="#a04782"/>
<rect x="54" y="27" width="1" height="1" fill="#9a427c"/>
<rect x="55" y="27" width="1" height="1" fill="#943d76"/>
<rect x="56" y="27" width="1" height="1" fill="#8e3871"/>
<rect x="57" y="27" width="1" height="1" fill="#89336d"/>
<rect x="58" y="27" width="1" height="1" fill="#85306a"/>
<rect x="59" y="27" width="1" height="1" fill="#832f68"/>
<rect x="0" y="28" width="2" height="1" fill="#6a1a52"/>
<rect x="2" y="28" width="1" height="1" fill="#6a1951"/>
<rect x="3" y="28" width="1" height="1" fill="#691951"/>
<rect x="4" y="28" width="1" height="1" fill="#691850"/>
<rect x="5" y="28" width="3" height="1" fill="#681850"/>
<rect x="8" y="28" width="1" height="1" fill="#691850"/>
<rect x="9" y="28" width="1" height="1" fill="#691951"/>
<rect x="10" y="28" width="1" height="1" fill="#6b1a52"/>
<rect x="11" y="28" width="1" height="1" fill="#6f1d56"/>
<rect x="12" y="28" width="1" height="1" fill="#75235b"/>
<rect x="13" y="28" width="1" height="1" fill="#79265f"/>
<rect x="14" y="28" width="2" height="1" fill="#7b2861"/>
<rect x="16" y="28" width="1" height="1" fill="#79265f"/>
<rect x="17" y="28" width="1" height="1" fill="#78255e"/>
<rect x="18" y="28" width="1" height="1" fill="#79265f"/>
<rect x="19" y="28" width="1" height="1" fill="#7b2860"/>
<rect x="20" y="28" width="1" height="1" fill="#7e2b63"/>
<rect x="21" y="28" width="1" height="1" fill="#822e67"/>
<rect x="22" y="28" width="1" height="1" fill="#86316a"/>
<rect x="23" y="28" width="1" height="1" fill="#89336d"/>
<rect x="24" y="28" width="1" height="1" fill="#8b356f"/>
<rect x="25" y="28" width="1" height="1" fill="#8d3771"/>
<rect x="26" y="28" width="2" height="1" fill="#903973"/>
<rect x="28" y="28" width="1" height="1" fill="#8c3670"/>
<rect x="29" y="28" width="1" height="1" fill="#86316a"/>
<rect x="30" y="28" width="1" height="1" fill="#7c2961"/>
<rect x="31" y="28" width="1" height="1" fill="#76245c"/>
<rect x="32" y="28" width="1" height="1" fill="#74225a"/>
<rect x="33" y="28" width="1" height="1" fill="#73215a"/>
<rect x="34" y="28" width="1" height="1" fill="#74225b"/>
<rect x="35" y="28" width="1" height="1" fill="#78255e"/>
<rect x="36" y="28" width="1" height="1" fill="#7e2a63"/>
<rect x="37" y="28" width="1" height="1" fill="#89346d"/>
<rect x="38" y="28" width="1" height="1" fill="#9a427c"/>
<rect x="39" y="28" width="1" height="1" fill="#a94e89"/>
<rect x="40" y="28" width="1" height="1" fill="#b65994"/>
<rect x="41" y="28" width="1" height="1" fill="#be609c"/>
<rect x="42" y="28" width="1" height="1" fill="#c2639f"/>
<rect x="43" y="28" width="1" height="1" fill="#c465a0"/>
<rect x="44" y="28" width="1" height="1" fill="#c3649f"/>
<rect x="45" y="28" width="1" height="1" fill="#bf619d"/>
<rect x="46" y="28" width="1" height="1" fill="#ba5d98"/>
<rect x="47" y="28" width="1" height="1" fill="#b75a95"/>
<rect x="48" y="28" width="1" height="1" fill="#b55994"/>
<rect x="49" y="28" width="1" height="1" fill="#b45893"/>
<rect x="50" y="28" width="1" height="1" fill="#b45792"/>
<rect x="51" y="28" width="1" height="1" fill="#b25691"/>
<rect x="52" y="28" width="1" height="1" fill="#b0548f"/>
<rect x="53" y="28" width="1" height="1" fill="#aa4f8a"/>
<rect x="54" y="28" width="1" height="1" fill="#a14882"/>
<rect x="55" y="28" width="1" height="1" fill="#99417b"/>
<rect x="56" y="28" width="1" height="1" fill="#913a74"/>
<rect x="57" y="28" width="1" height="1" fill="#8a356e"/>
<rect x="58" y="28" width="1" height="1" fill="#86316a"/>
<rect x="59" y="28" width="1" height="1" fill="#842f69"/>
<rect x="0" y="29" width="1" height="1" fill="#6b1a52"/>
<rect x="1" y="29" width="2" height="1" fill="#6a1a52"/>
<rect x="3" y="29" width="1" height="1" fill="#6a1951"/>
<rect x="4" y="29" width="2" height="1" fill="#691951"/>
<rect x="6" y="29" width="1" height="1" fill="#681850"/>
<rect x="7" y="29" width="1" height="1" fill="#691851"/>
<rect x="8" y="29" width="1" height="1" fill="#691951"/>
<rect x="9" y="29" width="1" height="1" fill="#6a1a52"/>
<rect x="10" y="29" width="1" height="1" fill="#6c1b53"/>
<rect x="11" y="29" width="1" height="1" fill="#6f1e57"/>
<rect x="12" y="29" width="1" height="1" fill="#76235c"/>
<rect x="13" y="29" width="1" height="1" fill="#7a2760"/>
<rect x="14" y="29" width="2" height="1" fill="#7c2962"/>
<rect x="16" y="29" width="1" height="1" fill="#7a2760"/>
<rect x="17" y="29" width="1" height="1" fill="#79265f"/>
<rect x="18" y="29" width="1" height="1" fill="#7a2760"/>
<rect x="19" y="29" width="1" height="1" fill="#7c2962"/>
<rect x="20" y="29" width="1" height="1" fill="#7f2c65"/>
<rect x="21" y="29" width="1" height="1" fill="#832f68"/>
<rect x="22" y="29" width="1" height="1" fill="#87326b"/>
<rect x="23" y="29" width="1" height="1" fill="#8a346e"/>
<rect x="24" y="29" width="1" height="1" fill="#8c3670"/>
<rect x="25" y="29" width="1" height="1" fill="#8e3872"/>
<rect x="26" y="29" width="2" height="1" fill="#913a74"/>
<rect x="28" y="29" width="1" height="1" fill="#8d3771"/>
<rect x="29" y="29" width="1" height="1" fill="#86316b"/>
<rect x="30" y="29" width="1" height="1" fill="#7d2962"/>
<rect x="31" y="29" width="1" height="1" fill="#76245d"/>
<rect x="32" y="29" width="1" height="1" fill="#74225b"/>
<rect x="33" y="29" width="1" height="1" fill="#73215a"/>
<rect x="34" y="29" width="1" height="1" fill="#74225b"/>
<rect x="35" y="29" width="1" height="1" fill="#78255e"/>
<rect x="36" y="29" width="1" height="1" fill="#7e2a63"/>
<rect x="37" y="29" width="1" height="1" fill="#89346d"/>
<rect x="38" y="29" width="1" height="1" fill="#9b427c"/>
<rect x="39" y="29" width="1" height="1" fill="#aa4f8a"/>
<rect x="40" y="29" width="1" height="1" fill="#b85b96"/>
<rect x="41" y="29" width="1" height="1" fill="#c1639e"/>
<rect x="42" y="29" width="1" height="1" fill="#c666a2"/>
<rect x="43" y="29" width="1" height="1" fill="#c767a3"/>
<rect x="44" y="29" width="1" height="1" fill="#c666a2"/>
<rect x="45" y="29" width="1" height="1" fill="#c2649f"/>
<rect x="46" y="29" width="1" height="1" fill="#be609b"/>
<rect x="47" y="29" width="1" height="1" fill="#bb5d99"/>
<rect x="48" y="29" width="1" height="1" fill="#ba5d98"/>
<rect x="49" y="29" width="2" height="1" fill="#b95c97"/>
<rect x="51" y="29" width="1" height="1" fill="#b75a96"/>
<rect x="52" y="29" width="1" height="1" fill="#b55893"/>
<rect x="53" y="29" width="1" height="1" fill="#af538e"/>
<rect x="54" y="29" width="1" height="1" fill="#a54b85"/>
<rect x="55" y="29" width="1" height="1" fill="#9b437d"/>
<rect x="56" y="29" width="1" height="1" fill="#923b75"/>
<rect x="57" y="29" width="1" height="1" fill="#8b366f"/>
<rect x="58" y="29" width="1" height="1" fill="#87326b"/>
<rect x="59" y="29" width="1" height="1" fill="#843069"/>
</svg><svg class="dt" style="left:873px" width="715.0" height="356.5"><g fill="#000"><circle cx="6.6" cy="244.5" r="1.5"/><circle cx="18.4" cy="237.5" r="1.5"/><circle cx="19.3" cy="232.3" r="1.5"/><circle cx="24.2" cy="220.5" r="1.5"/><circle cx="30.4" cy="216.3" r="1.5"/><circle cx="42.6" cy="212.5" r="1.5"/><circle cx="54.4" cy="210.4" r="1.5"/><circle cx="58.4" cy="208.3" r="1.5"/><circle cx="66.6" cy="207.4" r="1.5"/><circle cx="77.4" cy="203.1" r="1.5"/><circle cx="89.4" cy="207.1" r="1.5"/><circle cx="90.6" cy="208.3" r="1.5"/><circle cx="101.4" cy="219.4" r="1.5"/><circle cx="105.4" cy="220.5" r="1.5"/><circle cx="113.4" cy="223.4" r="1.5"/><circle cx="125.4" cy="223.4" r="1.5"/><circle cx="137.4" cy="226.4" r="1.5"/><circle cx="149.4" cy="230.6" r="1.5"/><circle cx="153.4" cy="232.5" r="1.5"/><circle cx="161.4" cy="235.4" r="1.5"/><circle cx="173.4" cy="243.4" r="1.5"/><circle cx="174.6" cy="244.8" r="1.5"/><circle cx="185.4" cy="249.2" r="1.5"/><circle cx="197.4" cy="253.5" r="1.5"/><circle cx="208.5" cy="252.5" r="1.5"/><circle cx="220.2" cy="244.5" r="1.5"/><circle cx="221.4" cy="244.5" r="1.5"/><circle cx="230.6" cy="232.5" r="1.5"/><circle cx="232.5" cy="228.3" r="1.5"/><circle cx="238.4" cy="220.3" r="1.5"/><circle cx="244.6" cy="205.1" r="1.5"/><circle cx="251.4" cy="196.4" r="1.5"/><circle cx="256.4" cy="192.6" r="1.5"/><circle cx="268.4" cy="187.5" r="1.5"/><circle cx="273.3" cy="184.2" r="1.5"/><circle cx="280.4" cy="181.6" r="1.5"/><circle cx="292.4" cy="175.5" r="1.5"/><circle cx="304.4" cy="173.6" r="1.5"/><circle cx="316.4" cy="174.5" r="1.5"/><circle cx="328.4" cy="175.5" r="1.5"/><circle cx="339.4" cy="175.5" r="1.5"/><circle cx="346.5" cy="172.6" r="1.5"/><circle cx="350.9" cy="162.5" r="1.5"/><circle cx="352.1" cy="160.6" r="1.5"/><circle cx="359.4" cy="149.6" r="1.5"/><circle cx="363.4" cy="145.4" r="1.5"/><circle cx="374.5" cy="137.1" r="1.5"/><circle cx="375.6" cy="135.2" r="1.5"/><circle cx="387.4" cy="124.6" r="1.5"/><circle cx="399.4" cy="121.4" r="1.5"/><circle cx="411.4" cy="120.4" r="1.5"/><circle cx="423.4" cy="122.5" r="1.5"/><circle cx="429.3" cy="125.4" r="1.5"/><circle cx="435.4" cy="127.5" r="1.5"/><circle cx="447.4" cy="132.4" r="1.5"/><circle cx="457.1" cy="137.2" r="1.5"/><circle cx="459.5" cy="137.2" r="1.5"/><circle cx="471.6" cy="139.4" r="1.5"/><circle cx="482.4" cy="139.4" r="1.5"/><circle cx="494.3" cy="137.1" r="1.5"/><circle cx="497.2" cy="137.1" r="1.5"/><circle cx="506.4" cy="133.4" r="1.5"/><circle cx="518.2" cy="132.3" r="1.5"/><circle cx="530.3" cy="135.2" r="1.5"/><circle cx="538.5" cy="137.1" r="1.5"/><circle cx="542.2" cy="137.1" r="1.5"/><circle cx="554.3" cy="139.2" r="1.5"/><circle cx="566.2" cy="143.1" r="1.5"/><circle cx="578.3" cy="148.1" r="1.5"/><circle cx="579.3" cy="149.4" r="1.5"/><circle cx="590.4" cy="150.2" r="1.5"/><circle cx="602.3" cy="149.2" r="1.5"/><circle cx="613.3" cy="149.2" r="1.5"/><circle cx="625.4" cy="152.1" r="1.5"/><circle cx="637.3" cy="154.2" r="1.5"/><circle cx="649.4" cy="154.2" r="1.5"/><circle cx="661.3" cy="153.1" r="1.5"/><circle cx="673.4" cy="152.1" r="1.5"/><circle cx="685.2" cy="153.1" r="1.5"/><circle cx="697.4" cy="156.3" r="1.5"/><circle cx="709.5" cy="158.1" r="1.5"/></g></svg>
<svg class="pn" style="left:1730px" width="715.0" height="356.5" viewBox="0 0 60 30" preserveAspectRatio="none" shape-rendering="crispEdges">
<rect x="0" y="0" width="1" height="1" fill="#6f1d9b"/>
<rect x="1" y="0" width="2" height="1" fill="#6f1d9c"/>
<rect x="3" y="0" width="1" height="1" fill="#6e1c9c"/>
<rect x="4" y="0" width="1" height="1" fill="#6a1a9c"/>
<rect x="5" y="0" width="1" height="1" fill="#6b1a9c"/>
<rect x="6" y="0" width="1" height="1" fill="#6f1e9c"/>
<rect x="7" y="0" width="2" height="1" fill="#711f9c"/>
<rect x="9" y="0" width="1" height="1" fill="#6d1c9b"/>
<rect x="10" y="0" width="1" height="1" fill="#65169b"/>
<rect x="11" y="0" width="1" height="1" fill="#64159c"/>
<rect x="12" y="0" width="1" height="1" fill="#6a199c"/>
<rect x="13" y="0" width="1" height="1" fill="#68189d"/>
<rect x="14" y="0" width="1" height="1" fill="#5c109d"/>
<rect x="15" y="0" width="2" height="1" fill="#570d9d"/>
<rect x="17" y="0" width="1" height="1" fill="#580e9c"/>
<rect x="18" y="0" width="1" height="1" fill="#5c109c"/>
<rect x="19" y="0" width="1" height="1" fill="#5e129b"/>
<rect x="20" y="0" width="1" height="1" fill="#62149b"/>
<rect x="21" y="0" width="1" height="1" fill="#66169c"/>
<rect x="22" y="0" width="1" height="1" fill="#6a1a9c"/>
<rect x="23" y="0" width="2" height="1" fill="#6c1b9c"/>
<rect x="25" y="0" width="1" height="1" fill="#6a1a9b"/>
<rect x="26" y="0" width="3" height="1" fill="#68189b"/>
<rect x="29" y="0" width="1" height="1" fill="#6b1a9c"/>
<rect x="30" y="0" width="2" height="1" fill="#6f1e9c"/>
<rect x="32" y="0" width="1" height="1" fill="#6b1a9c"/>
<rect x="33" y="0" width="2" height="1" fill="#69199b"/>
<rect x="35" y="0" width="1" height="1" fill="#68189b"/>
<rect x="36" y="0" width="2" height="1" fill="#64169b"/>
<rect x="38" y="0" width="1" height="1" fill="#66169b"/>
<rect x="39" y="0" width="1" height="1" fill="#63149c"/>
<rect x="40" y="0" width="1" height="1" fill="#5b109c"/>
<rect x="41" y="0" width="1" height="1" fill="#5d119d"/>
<rect x="42" y="0" width="1" height="1" fill="#69199d"/>
<rect x="43" y="0" width="2" height="1" fill="#701e9d"/>
<rect x="45" y="0" width="1" height="1" fill="#6e1c9c"/>
<rect x="46" y="0" width="1" height="1" fill="#66189c"/>
<rect x="47" y="0" width="1" height="1" fill="#64169b"/>
<rect x="48" y="0" width="1" height="1" fill="#68189b"/>
<rect x="49" y="0" width="4" height="1" fill="#69199b"/>
<rect x="53" y="0" width="2" height="1" fill="#68189b"/>
<rect x="55" y="0" width="1" height="1" fill="#66169b"/>
<rect x="56" y="0" width="2" height="1" fill="#62149b"/>
<rect x="58" y="0" width="1" height="1" fill="#66169b"/>
<rect x="59" y="0" width="1" height="1" fill="#67179b"/>
<rect x="0" y="1" width="1" height="1" fill="#6e1c9b"/>
<rect x="1" y="1" width="1" height="1" fill="#6d1c9b"/>
<rect x="2" y="1" width="1" height="1" fill="#6c1b9c"/>
<rect x="3" y="1" width="1" height="1" fill="#6a1a9c"/>
<rect x="4" y="1" width="1" height="1" fill="#68199b"/>
<rect x="5" y="1" width="1" height="1" fill="#69199b"/>
<rect x="6" y="1" width="1" height="1" fill="#6d1c9c"/>
<rect x="7" y="1" width="1" height="1" fill="#6e1d9c"/>
<rect x="8" y="1" width="1" height="1" fill="#6e1d9b"/>
<rect x="9" y="1" width="1" height="1" fill="#691a9b"/>
<rect x="10" y="1" width="1" height="1" fill="#61149b"/>
<rect x="11" y="1" width="1" height="1" fill="#61139c"/>
<rect x="12" y="1" width="1" height="1" fill="#68189c"/>
<rect x="13" y="1" width="1" height="1" fill="#67189c"/>
<rect x="14" y="1" width="1" height="1" fill="#5e129c"/>
<rect x="15" y="1" width="1" height="1" fill="#5b109d"/>
<rect x="16" y="1" width="2" height="1" fill="#5c119d"/>
<rect x="18" y="1" width="1" height="1" fill="#5c109c"/>
<rect x="19" y="1" width="1" height="1" fill="#5d119c"/>
<rect x="20" y="1" width="1" height="1" fill="#60139c"/>
<rect x="21" y="1" width="1" height="1" fill="#64159c"/>
<rect x="22" y="1" width="1" height="1" fill="#69189c"/>
<rect x="23" y="1" width="1" height="1" fill="#6b1a9c"/>
<rect x="24" y="1" width="1" height="1" fill="#6b1a9b"/>
<rect x="25" y="1" width="1" height="1" fill="#6a1a9b"/>
<rect x="26" y="1" width="1" height="1" fill="#69199b"/>
<rect x="27" y="1" width="2" height="1" fill="#68189b"/>
<rect x="29" y="1" width="1" height="1" fill="#69199b"/>
<rect x="30" y="1" width="1" height="1" fill="#6c1b9c"/>
<rect x="31" y="1" width="1" height="1" fill="#6c1c9c"/>
<rect x="32" y="1" width="1" height="1" fill="#6b1a9b"/>
<rect x="33" y="1" width="1" height="1" fill="#6a1a9b"/>
<rect x="34" y="1" width="1" height="1" fill="#69199b"/>
<rect x="35" y="1" width="1" height="1" fill="#68189b"/>
<rect x="36" y="1" width="1" height="1" fill="#66179b"/>
<rect x="37" y="1" width="1" height="1" fill="#65169b"/>
<rect x="38" y="1" width="1" height="1" fill="#66179b"/>
<rect x="39" y="1" width="1" height="1" fill="#64159b"/>
<rect x="40" y="1" width="1" height="1" fill="#5e129c"/>
<rect x="41" y="1" width="1" height="1" fill="#60139c"/>
<rect x="42" y="1" width="1" height="1" fill="#6a1a9c"/>
<rect x="43" y="1" width="1" height="1" fill="#701e9d"/>
<rect x="44" y="1" width="1" height="1" fill="#72209d"/>
<rect x="45" y="1" width="1" height="1" fill="#701f9d"/>
<rect x="46" y="1" width="1" height="1" fill="#6a1a9c"/>
<rect x="47" y="1" width="3" height="1" fill="#67189b"/>
<rect x="50" y="1" width="1" height="1" fill="#68189b"/>
<rect x="51" y="1" width="3" height="1" fill="#69199b"/>
<rect x="54" y="1" width="1" height="1" fill="#68189b"/>
<rect x="55" y="1" width="1" height="1" fill="#66179b"/>
<rect x="56" y="1" width="2" height="1" fill="#64159b"/>
<rect x="58" y="1" width="1" height="1" fill="#67179b"/>
<rect x="59" y="1" width="1" height="1" fill="#68189c"/>
<rect x="0" y="2" width="1" height="1" fill="#6a1a9b"/>
<rect x="1" y="2" width="1" height="1" fill="#69199b"/>
<rect x="2" y="2" width="1" height="1" fill="#66179b"/>
<rect x="3" y="2" width="2" height="1" fill="#64169b"/>
<rect x="5" y="2" width="1" height="1" fill="#66179b"/>
<rect x="6" y="2" width="1" height="1" fill="#68189b"/>
<rect x="7" y="2" width="1" height="1" fill="#69199b"/>
<rect x="8" y="2" width="1" height="1" fill="#67189b"/>
<rect x="9" y="2" width="1" height="1" fill="#62159b"/>
<rect x="10" y="2" width="2" height="1" fill="#5a109c"/>
<rect x="12" y="2" width="1" height="1" fill="#64169c"/>
<rect x="13" y="2" width="1" height="1" fill="#66189c"/>
<rect x="14" y="2" width="2" height="1" fill="#62159c"/>
<rect x="16" y="2" width="1" height="1" fill="#66199d"/>
<rect x="17" y="2" width="1" height="1" fill="#64179d"/>
<rect x="18" y="2" width="1" height="1" fill="#5d119d"/>
<rect x="19" y="2" width="1" height="1" fill="#5b0f9c"/>
<rect x="20" y="2" width="1" height="1" fill="#5c109c"/>
<rect x="21" y="2" width="1" height="1" fill="#60129c"/>
<rect x="22" y="2" width="1" height="1" fill="#66169c"/>
<rect x="23" y="2" width="1" height="1" fill="#69189b"/>
<rect x="24" y="2" width="1" height="1" fill="#69199b"/>
<rect x="25" y="2" width="1" height="1" fill="#6a1a9b"/>
<rect x="26" y="2" width="1" height="1" fill="#6b1b9b"/>
<rect x="27" y="2" width="1" height="1" fill="#6a1a9b"/>
<rect x="28" y="2" width="1" height="1" fill="#66179b"/>
<rect x="29" y="2" width="2" height="1" fill="#65169b"/>
<rect x="31" y="2" width="1" height="1" fill="#67189b"/>
<rect x="32" y="2" width="1" height="1" fill="#6a1a9b"/>
<rect x="33" y="2" width="1" height="1" fill="#6b1b9b"/>
<rect x="34" y="2" width="1" height="1" fill="#691a9b"/>
<rect x="35" y="2" width="1" height="1" fill="#68199b"/>
<rect x="36" y="2" width="1" height="1" fill="#68189b"/>
<rect x="37" y="2" width="1" height="1" fill="#67189b"/>
<rect x="38" y="2" width="1" height="1" fill="#67179b"/>
<rect x="39" y="2" width="1" height="1" fill="#66179b"/>
<rect x="40" y="2" width="1" height="1" fill="#65169b"/>
<rect x="41" y="2" width="1" height="1" fill="#67189c"/>
<rect x="42" y="2" width="1" height="1" fill="#6c1c9c"/>
<rect x="43" y="2" width="1" height="1" fill="#71209c"/>
<rect x="44" y="2" width="2" height="1" fill="#75239d"/>
<rect x="46" y="2" width="1" height="1" fill="#70209d"/>
<rect x="47" y="2" width="1" height="1" fill="#6b1c9c"/>
<rect x="48" y="2" width="1" height="1" fill="#66179b"/>
<rect x="49" y="2" width="1" height="1" fill="#64159b"/>
<rect x="50" y="2" width="1" height="1" fill="#66179b"/>
<rect x="51" y="2" width="1" height="1" fill="#68189b"/>
<rect x="52" y="2" width="3" height="1" fill="#69199b"/>
<rect x="55" y="2" width="1" height="1" fill="#68189b"/>
<rect x="56" y="2" width="1" height="1" fill="#66179b"/>
<rect x="57" y="2" width="1" height="1" fill="#67179b"/>
<rect x="58" y="2" width="1" height="1" fill="#6a1a9c"/>
<rect x="59" y="2" width="1" height="1" fill="#6c1c9c"/>
<rect x="0" y="3" width="1" height="1" fill="#69199b"/>
<rect x="1" y="3" width="1" height="1" fill="#68189b"/>
<rect x="2" y="3" width="1" height="1" fill="#66179b"/>
<rect x="3" y="3" width="1" height="1" fill="#66189c"/>
<rect x="4" y="3" width="1" height="1" fill="#681a9c"/>
<rect x="5" y="3" width="2" height="1" fill="#6a1a9c"/>
<rect x="7" y="3" width="1" height="1" fill="#691a9c"/>
<rect x="8" y="3" width="1" height="1" fill="#67189c"/>
<rect x="9" y="3" width="1" height="1" fill="#63169c"/>
<rect x="10" y="3" width="1" height="1" fill="#5d129c"/>
<rect x="11" y="3" width="1" height="1" fill="#5d139c"/>
<rect x="12" y="3" width="1" height="1" fill="#65189c"/>
<rect x="13" y="3" width="1" height="1" fill="#681a9c"/>
<rect x="14" y="3" width="1" height="1" fill="#67199c"/>
<rect x="15" y="3" width="1" height="1" fill="#681a9c"/>
<rect x="16" y="3" width="1" height="1" fill="#6b1c9c"/>
<rect x="17" y="3" width="1" height="1" fill="#681a9c"/>
<rect x="18" y="3" width="1" height="1" fill="#60139c"/>
<rect x="19" y="3" width="1" height="1" fill="#5d109d"/>
<rect x="20" y="3" width="1" height="1" fill="#5f129d"/>
<rect x="21" y="3" width="1" height="1" fill="#61149c"/>
<rect x="22" y="3" width="1" height="1" fill="#63159c"/>
<rect x="23" y="3" width="2" height="1" fill="#64169b"/>
<rect x="25" y="3" width="1" height="1" fill="#66179b"/>
<rect x="26" y="3" width="1" height="1" fill="#6a1a9b"/>
<rect x="27" y="3" width="1" height="1" fill="#69199b"/>
<rect x="28" y="3" width="1" height="1" fill="#63159b"/>
<rect x="29" y="3" width="1" height="1" fill="#60139c"/>
<rect x="30" y="3" width="1" height="1" fill="#60129c"/>
<rect x="31" y="3" width="1" height="1" fill="#62149b"/>
<rect x="32" y="3" width="1" height="1" fill="#68199b"/>
<rect x="33" y="3" width="1" height="1" fill="#6a1b9b"/>
<rect x="34" y="3" width="1" height="1" fill="#681a9b"/>
<rect x="35" y="3" width="1" height="1" fill="#68199b"/>
<rect x="36" y="3" width="1" height="1" fill="#68189b"/>
<rect x="37" y="3" width="1" height="1" fill="#67189b"/>
<rect x="38" y="3" width="1" height="1" fill="#67179b"/>
<rect x="39" y="3" width="2" height="1" fill="#68189b"/>
<rect x="41" y="3" width="1" height="1" fill="#6a1a9b"/>
<rect x="42" y="3" width="1" height="1" fill="#6e1e9b"/>
<rect x="43" y="3" width="1" height="1" fill="#72219c"/>
<rect x="44" y="3" width="1" height="1" fill="#77259d"/>
<rect x="45" y="3" width="1" height="1" fill="#78269d"/>
<rect x="46" y="3" width="1" height="1" fill="#74239d"/>
<rect x="47" y="3" width="1" height="1" fill="#6e1e9c"/>
<rect x="48" y="3" width="1" height="1" fill="#67189c"/>
<rect x="49" y="3" width="1" height="1" fill="#64159b"/>
<rect x="50" y="3" width="1" height="1" fill="#65169b"/>
<rect x="51" y="3" width="1" height="1" fill="#67179b"/>
<rect x="52" y="3" width="1" height="1" fill="#68189b"/>
<rect x="53" y="3" width="2" height="1" fill="#69199b"/>
<rect x="55" y="3" width="1" height="1" fill="#68189b"/>
<rect x="56" y="3" width="1" height="1" fill="#67179b"/>
<rect x="57" y="3" width="1" height="1" fill="#68189b"/>
<rect x="58" y="3" width="1" height="1" fill="#6a1b9c"/>
<rect x="59" y="3" width="1" height="1" fill="#6c1c9c"/>
<rect x="0" y="4" width="1" height="1" fill="#69199b"/>
<rect x="1" y="4" width="1" height="1" fill="#6a1a9b"/>
<rect x="2" y="4" width="1" height="1" fill="#6c1c9c"/>
<rect x="3" y="4" width="1" height="1" fill="#6f209c"/>
<rect x="4" y="4" width="1" height="1" fill="#74249c"/>
<rect x="5" y="4" width="1" height="1" fill="#75249c"/>
<rect x="6" y="4" width="1" height="1" fill="#72219c"/>
<rect x="7" y="4" width="1" height="1" fill="#6f209c"/>
<rect x="8" y="4" width="1" height="1" fill="#6e1e9c"/>
<rect x="9" y="4" width="1" height="1" fill="#6c1d9c"/>
<rect x="10" y="4" width="2" height="1" fill="#691b9c"/>
<rect x="12" y="4" width="1" height="1" fill="#6c1e9c"/>
<rect x="13" y="4" width="1" height="1" fill="#6d1f9c"/>
<rect x="14" y="4" width="2" height="1" fill="#6d1e9c"/>
<rect x="16" y="4" width="1" height="1" fill="#6b1c9c"/>
<rect x="17" y="4" width="1" height="1" fill="#681a9c"/>
<rect x="18" y="4" width="2" height="1" fill="#65169c"/>
<rect x="20" y="4" width="1" height="1" fill="#67199d"/>
<rect x="21" y="4" width="1" height="1" fill="#66199c"/>
<rect x="22" y="4" width="1" height="1" fill="#62159c"/>
<rect x="23" y="4" width="1" height="1" fill="#5e129b"/>
<rect x="24" y="4" width="1" height="1" fill="#5c109c"/>
<rect x="25" y="4" width="1" height="1" fill="#5f119c"/>
<rect x="26" y="4" width="2" height="1" fill="#65169b"/>
<rect x="28" y="4" width="1" height="1" fill="#5f119c"/>
<rect x="29" y="4" width="1" height="1" fill="#5c0f9c"/>
<rect x="30" y="4" width="1" height="1" fill="#5c109c"/>
<rect x="31" y="4" width="1" height="1" fill="#60129c"/>
<rect x="32" y="4" width="1" height="1" fill="#66169b"/>
<rect x="33" y="4" width="2" height="1" fill="#68199b"/>
<rect x="35" y="4" width="1" height="1" fill="#68189b"/>
<rect x="36" y="4" width="1" height="1" fill="#66179b"/>
<rect x="37" y="4" width="1" height="1" fill="#65169b"/>
<rect x="38" y="4" width="1" height="1" fill="#66179b"/>
<rect x="39" y="4" width="2" height="1" fill="#68189b"/>
<rect x="41" y="4" width="1" height="1" fill="#6a1a9b"/>
<rect x="42" y="4" width="1" height="1" fill="#6e1e9c"/>
<rect x="43" y="4" width="1" height="1" fill="#72219d"/>
<rect x="44" y="4" width="1" height="1" fill="#78269d"/>
<rect x="45" y="4" width="1" height="1" fill="#78279d"/>
<rect x="46" y="4" width="1" height="1" fill="#74249d"/>
<rect x="47" y="4" width="1" height="1" fill="#70209c"/>
<rect x="48" y="4" width="1" height="1" fill="#6a1a9c"/>
<rect x="49" y="4" width="1" height="1" fill="#66179b"/>
<rect x="50" y="4" width="2" height="1" fill="#65169b"/>
<rect x="52" y="4" width="1" height="1" fill="#67179b"/>
<rect x="53" y="4" width="1" height="1" fill="#68189b"/>
<rect x="54" y="4" width="1" height="1" fill="#69199b"/>
<rect x="55" y="4" width="1" height="1" fill="#68189b"/>
<rect x="56" y="4" width="1" height="1" fill="#65169b"/>
<rect x="57" y="4" width="1" height="1" fill="#66179b"/>
<rect x="58" y="4" width="1" height="1" fill="#68199b"/>
<rect x="59" y="4" width="1" height="1" fill="#6a1a9c"/>
<rect x="0" y="5" width="1" height="1" fill="#69199b"/>
<rect x="1" y="5" width="1" height="1" fill="#6b1b9c"/>
<rect x="2" y="5" width="1" height="1" fill="#701f9c"/>
<rect x="3" y="5" width="1" height="1" fill="#75249d"/>
<rect x="4" y="5" width="1" height="1" fill="#7b2a9d"/>
<rect x="5" y="5" width="1" height="1" fill="#7c2a9d"/>
<rect x="6" y="5" width="1" height="1" fill="#77269d"/>
<rect x="7" y="5" width="1" height="1" fill="#73239d"/>
<rect x="8" y="5" width="1" height="1" fill="#71219d"/>
<rect x="9" y="5" width="1" height="1" fill="#6f209c"/>
<rect x="10" y="5" width="1" height="1" fill="#6e1e9c"/>
<rect x="11" y="5" width="1" height="1" fill="#6c1d9c"/>
<rect x="12" y="5" width="1" height="1" fill="#6a1c9c"/>
<rect x="13" y="5" width="2" height="1" fill="#691c9d"/>
<rect x="15" y="5" width="1" height="1" fill="#691b9c"/>
<rect x="16" y="5" width="1" height="1" fill="#67199c"/>
<rect x="17" y="5" width="1" height="1" fill="#66189b"/>
<rect x="18" y="5" width="1" height="1" fill="#67189b"/>
<rect x="19" y="5" width="1" height="1" fill="#68199b"/>
<rect x="20" y="5" width="1" height="1" fill="#691b9c"/>
<rect x="21" y="5" width="1" height="1" fill="#67199c"/>
<rect x="22" y="5" width="1" height="1" fill="#61149b"/>
<rect x="23" y="5" width="1" height="1" fill="#5c109c"/>
<rect x="24" y="5" width="1" height="1" fill="#590d9c"/>
<rect x="25" y="5" width="1" height="1" fill="#5c0f9d"/>
<rect x="26" y="5" width="1" height="1" fill="#64169c"/>
<rect x="27" y="5" width="1" height="1" fill="#66179c"/>
<rect x="28" y="5" width="1" height="1" fill="#61149d"/>
<rect x="29" y="5" width="1" height="1" fill="#5f129d"/>
<rect x="30" y="5" width="1" height="1" fill="#60149d"/>
<rect x="31" y="5" width="1" height="1" fill="#63159d"/>
<rect x="32" y="5" width="1" height="1" fill="#67189c"/>
<rect x="33" y="5" width="1" height="1" fill="#691a9c"/>
<rect x="34" y="5" width="1" height="1" fill="#6a1a9c"/>
<rect x="35" y="5" width="1" height="1" fill="#691a9c"/>
<rect x="36" y="5" width="1" height="1" fill="#67199c"/>
<rect x="37" y="5" width="1" height="1" fill="#67189c"/>
<rect x="38" y="5" width="1" height="1" fill="#691a9c"/>
<rect x="39" y="5" width="1" height="1" fill="#6a1a9c"/>
<rect x="40" y="5" width="1" height="1" fill="#6a1b9c"/>
<rect x="41" y="5" width="1" height="1" fill="#6c1c9c"/>
<rect x="42" y="5" width="1" height="1" fill="#6e1f9d"/>
<rect x="43" y="5" width="1" height="1" fill="#72229d"/>
<rect x="44" y="5" width="1" height="1" fill="#77269d"/>
<rect x="45" y="5" width="1" height="1" fill="#79289d"/>
<rect x="46" y="5" width="1" height="1" fill="#76269d"/>
<rect x="47" y="5" width="1" height="1" fill="#72229d"/>
<rect x="48" y="5" width="1" height="1" fill="#6d1e9c"/>
<rect x="49" y="5" width="1" height="1" fill="#6a1b9c"/>
<rect x="50" y="5" width="2" height="1" fill="#67199c"/>
<rect x="52" y="5" width="1" height="1" fill="#6a1a9c"/>
<rect x="53" y="5" width="2" height="1" fill="#6c1c9c"/>
<rect x="55" y="5" width="1" height="1" fill="#6b1c9c"/>
<rect x="56" y="5" width="1" height="1" fill="#681a9c"/>
<rect x="57" y="5" width="1" height="1" fill="#67189b"/>
<rect x="58" y="5" width="2" height="1" fill="#68189b"/>
<rect x="0" y="6" width="1" height="1" fill="#69199b"/>
<rect x="1" y="6" width="1" height="1" fill="#6c1b9c"/>
<rect x="2" y="6" width="1" height="1" fill="#71209c"/>
<rect x="3" y="6" width="1" height="1" fill="#77269d"/>
<rect x="4" y="6" width="1" height="1" fill="#7e2c9d"/>
<rect x="5" y="6" width="1" height="1" fill="#7f2d9d"/>
<rect x="6" y="6" width="1" height="1" fill="#79289d"/>
<rect x="7" y="6" width="1" height="1" fill="#74249d"/>
<rect x="8" y="6" width="1" height="1" fill="#70219d"/>
<rect x="9" y="6" width="1" height="1" fill="#6d1e9c"/>
<rect x="10" y="6" width="1" height="1" fill="#6a1c9c"/>
<rect x="11" y="6" width="1" height="1" fill="#66189c"/>
<rect x="12" y="6" width="1" height="1" fill="#60149c"/>
<rect x="13" y="6" width="1" height="1" fill="#5c129d"/>
<rect x="14" y="6" width="1" height="1" fill="#5b119d"/>
<rect x="15" y="6" width="1" height="1" fill="#5c119c"/>
<rect x="16" y="6" width="1" height="1" fill="#5f139c"/>
<rect x="17" y="6" width="1" height="1" fill="#62159b"/>
<rect x="18" y="6" width="1" height="1" fill="#65179b"/>
<rect x="19" y="6" width="1" height="1" fill="#66189b"/>
<rect x="20" y="6" width="1" height="1" fill="#65179b"/>
<rect x="21" y="6" width="1" height="1" fill="#63159b"/>
<rect x="22" y="6" width="1" height="1" fill="#60139b"/>
<rect x="23" y="6" width="1" height="1" fill="#5d119c"/>
<rect x="24" y="6" width="1" height="1" fill="#5a0f9c"/>
<rect x="25" y="6" width="1" height="1" fill="#5d129d"/>
<rect x="26" y="6" width="1" height="1" fill="#67199d"/>
<rect x="27" y="6" width="1" height="1" fill="#6b1d9d"/>
<rect x="28" y="6" width="2" height="1" fill="#6a1c9d"/>
<rect x="30" y="6" width="1" height="1" fill="#6b1e9d"/>
<rect x="31" y="6" width="1" height="1" fill="#6c1e9d"/>
<rect x="32" y="6" width="1" height="1" fill="#6d1e9d"/>
<rect x="33" y="6" width="1" height="1" fill="#6d1e9c"/>
<rect x="34" y="6" width="3" height="1" fill="#6c1e9c"/>
<rect x="37" y="6" width="1" height="1" fill="#6d1e9c"/>
<rect x="38" y="6" width="2" height="1" fill="#6e209c"/>
<rect x="40" y="6" width="1" height="1" fill="#6e1f9c"/>
<rect x="41" y="6" width="1" height="1" fill="#6e209d"/>
<rect x="42" y="6" width="1" height="1" fill="#70219d"/>
<rect x="43" y="6" width="1" height="1" fill="#72239d"/>
<rect x="44" y="6" width="1" height="1" fill="#76269d"/>
<rect x="45" y="6" width="2" height="1" fill="#78289d"/>
<rect x="47" y="6" width="1" height="1" fill="#75269d"/>
<rect x="48" y="6" width="1" height="1" fill="#71229d"/>
<rect x="49" y="6" width="1" height="1" fill="#6e209c"/>
<rect x="50" y="6" width="1" height="1" fill="#6d1f9c"/>
<rect x="51" y="6" width="1" height="1" fill="#6e1f9c"/>
<rect x="52" y="6" width="1" height="1" fill="#71229c"/>
<rect x="53" y="6" width="2" height="1" fill="#74249c"/>
<rect x="55" y="6" width="1" height="1" fill="#73249c"/>
<rect x="56" y="6" width="1" height="1" fill="#6f219c"/>
<rect x="57" y="6" width="1" height="1" fill="#6c1e9c"/>
<rect x="58" y="6" width="1" height="1" fill="#691a9b"/>
<rect x="59" y="6" width="1" height="1" fill="#68189b"/>
<rect x="0" y="7" width="1" height="1" fill="#68189b"/>
<rect x="1" y="7" width="1" height="1" fill="#6c1b9c"/>
<rect x="2" y="7" width="1" height="1" fill="#72209c"/>
<rect x="3" y="7" width="1" height="1" fill="#79279d"/>
<rect x="4" y="7" width="1" height="1" fill="#802e9d"/>
<rect x="5" y="7" width="1" height="1" fill="#812f9d"/>
<rect x="6" y="7" width="1" height="1" fill="#7b2a9d"/>
<rect x="7" y="7" width="1" height="1" fill="#75269d"/>
<rect x="8" y="7" width="1" height="1" fill="#70229d"/>
<rect x="9" y="7" width="1" height="1" fill="#6c1e9c"/>
<rect x="10" y="7" width="1" height="1" fill="#691b9c"/>
<rect x="11" y="7" width="1" height="1" fill="#64179b"/>
<rect x="12" y="7" width="1" height="1" fill="#5d119c"/>
<rect x="13" y="7" width="1" height="1" fill="#590e9c"/>
<rect x="14" y="7" width="1" height="1" fill="#570d9c"/>
<rect x="15" y="7" width="1" height="1" fill="#580e9c"/>
<rect x="16" y="7" width="1" height="1" fill="#5c119b"/>
<rect x="17" y="7" width="1" height="1" fill="#61159b"/>
<rect x="18" y="7" width="1" height="1" fill="#66199b"/>
<rect x="19" y="7" width="1" height="1" fill="#681a9c"/>
<rect x="20" y="7" width="1" height="1" fill="#67199c"/>
<rect x="21" y="7" width="1" height="1" fill="#66189c"/>
<rect x="22" y="7" width="1" height="1" fill="#64179c"/>
<rect x="23" y="7" width="1" height="1" fill="#62169c"/>
<rect x="24" y="7" width="1" height="1" fill="#5f139c"/>
<rect x="25" y="7" width="1" height="1" fill="#61159d"/>
<rect x="26" y="7" width="1" height="1" fill="#691c9d"/>
<rect x="27" y="7" width="1" height="1" fill="#6e209d"/>
<rect x="28" y="7" width="1" height="1" fill="#6f219d"/>
<rect x="29" y="7" width="1" height="1" fill="#71239d"/>
<rect x="30" y="7" width="1" height="1" fill="#73259d"/>
<rect x="31" y="7" width="1" height="1" fill="#75269d"/>
<rect x="32" y="7" width="2" height="1" fill="#76279d"/>
<rect x="34" y="7" width="1" height="1" fill="#75269d"/>
<rect x="35" y="7" width="4" height="1" fill="#74259d"/>
<rect x="39" y="7" width="1" height="1" fill="#73249d"/>
<rect x="40" y="7" width="2" height="1" fill="#72249d"/>
<rect x="42" y="7" width="1" height="1" fill="#73249d"/>
<rect x="43" y="7" width="1" height="1" fill="#75269d"/>
<rect x="44" y="7" width="1" height="1" fill="#77289d"/>
<rect x="45" y="7" width="2" height="1" fill="#79299d"/>
<rect x="47" y="7" width="1" height="1" fill="#78289d"/>
<rect x="48" y="7" width="1" height="1" fill="#74259d"/>
<rect x="49" y="7" width="1" height="1" fill="#72239d"/>
<rect x="50" y="7" width="1" height="1" fill="#71229d"/>
<rect x="51" y="7" width="1" height="1" fill="#72239d"/>
<rect x="52" y="7" width="1" height="1" fill="#76279d"/>
<rect x="53" y="7" width="1" height="1" fill="#7a2a9d"/>
<rect x="54" y="7" width="1" height="1" fill="#7d2d9d"/>
<rect x="55" y="7" width="1" height="1" fill="#7e2e9d"/>
<rect x="56" y="7" width="1" height="1" fill="#7c2d9d"/>
<rect x="57" y="7" width="1" height="1" fill="#78299d"/>
<rect x="58" y="7" width="1" height="1" fill="#72229c"/>
<rect x="59" y="7" width="1" height="1" fill="#6f1f9c"/>
<rect x="0" y="8" width="1" height="1" fill="#68189b"/>
<rect x="1" y="8" width="1" height="1" fill="#6b1a9c"/>
<rect x="2" y="8" width="1" height="1" fill="#72209c"/>
<rect x="3" y="8" width="1" height="1" fill="#79279d"/>
<rect x="4" y="8" width="1" height="1" fill="#82309d"/>
<rect x="5" y="8" width="1" height="1" fill="#83319d"/>
<rect x="6" y="8" width="1" height="1" fill="#7c2b9d"/>
<rect x="7" y="8" width="1" height="1" fill="#76269d"/>
<rect x="8" y="8" width="1" height="1" fill="#71229d"/>
<rect x="9" y="8" width="1" height="1" fill="#6d1f9c"/>
<rect x="10" y="8" width="1" height="1" fill="#6a1c9c"/>
<rect x="11" y="8" width="1" height="1" fill="#66189b"/>
<rect x="12" y="8" width="1" height="1" fill="#61149b"/>
<rect x="13" y="8" width="1" height="1" fill="#5e119c"/>
<rect x="14" y="8" width="1" height="1" fill="#5d119c"/>
<rect x="15" y="8" width="1" height="1" fill="#5d129b"/>
<rect x="16" y="8" width="1" height="1" fill="#60149b"/>
<rect x="17" y="8" width="1" height="1" fill="#64189b"/>
<rect x="18" y="8" width="1" height="1" fill="#6a1d9c"/>
<rect x="19" y="8" width="1" height="1" fill="#6e209c"/>
<rect x="20" y="8" width="2" height="1" fill="#70219c"/>
<rect x="22" y="8" width="1" height="1" fill="#6e209c"/>
<rect x="23" y="8" width="1" height="1" fill="#6b1d9c"/>
<rect x="24" y="8" width="2" height="1" fill="#671a9c"/>
<rect x="26" y="8" width="1" height="1" fill="#6c1e9d"/>
<rect x="27" y="8" width="1" height="1" fill="#6f219d"/>
<rect x="28" y="8" width="1" height="1" fill="#70229d"/>
<rect x="29" y="8" width="1" height="1" fill="#73259d"/>
<rect x="30" y="8" width="1" height="1" fill="#792a9d"/>
<rect x="31" y="8" width="1" height="1" fill="#7e2e9d"/>
<rect x="32" y="8" width="1" height="1" fill="#83329d"/>
<rect x="33" y="8" width="1" height="1" fill="#85349d"/>
<rect x="34" y="8" width="1" height="1" fill="#83329d"/>
<rect x="35" y="8" width="1" height="1" fill="#81309d"/>
<rect x="36" y="8" width="1" height="1" fill="#7e2e9d"/>
<rect x="37" y="8" width="1" height="1" fill="#7c2c9d"/>
<rect x="38" y="8" width="1" height="1" fill="#7a2a9d"/>
<rect x="39" y="8" width="1" height="1" fill="#78289d"/>
<rect x="40" y="8" width="2" height="1" fill="#77289d"/>
<rect x="42" y="8" width="1" height="1" fill="#78289d"/>
<rect x="43" y="8" width="1" height="1" fill="#792a9d"/>
<rect x="44" y="8" width="3" height="1" fill="#7b2b9d"/>
<rect x="47" y="8" width="1" height="1" fill="#79299d"/>
<rect x="48" y="8" width="1" height="1" fill="#77279d"/>
<rect x="49" y="8" width="1" height="1" fill="#75259d"/>
<rect x="50" y="8" width="1" height="1" fill="#73239d"/>
<rect x="51" y="8" width="1" height="1" fill="#74259d"/>
<rect x="52" y="8" width="1" height="1" fill="#79299d"/>
<rect x="53" y="8" width="1" height="1" fill="#7f2f9d"/>
<rect x="54" y="8" width="1" height="1" fill="#87369d"/>
<rect x="55" y="8" width="1" height="1" fill="#8c3b9d"/>
<rect x="56" y="8" width="1" height="1" fill="#8e3d9d"/>
<rect x="57" y="8" width="1" height="1" fill="#8b3a9d"/>
<rect x="58" y="8" width="1" height="1" fill="#83339d"/>
<rect x="59" y="8" width="1" height="1" fill="#7f2f9c"/>
<rect x="0" y="9" width="1" height="1" fill="#68189b"/>
<rect x="1" y="9" width="1" height="1" fill="#6b1a9c"/>
<rect x="2" y="9" width="1" height="1" fill="#71209c"/>
<rect x="3" y="9" width="1" height="1" fill="#78269d"/>
<rect x="4" y="9" width="1" height="1" fill="#7e2d9d"/>
<rect x="5" y="9" width="1" height="1" fill="#802e9d"/>
<rect x="6" y="9" width="1" height="1" fill="#7c2b9d"/>
<rect x="7" y="9" width="1" height="1" fill="#77279d"/>
<rect x="8" y="9" width="1" height="1" fill="#72239d"/>
<rect x="9" y="9" width="1" height="1" fill="#6e209d"/>
<rect x="10" y="9" width="1" height="1" fill="#6c1e9c"/>
<rect x="11" y="9" width="1" height="1" fill="#691b9c"/>
<rect x="12" y="9" width="1" height="1" fill="#67199c"/>
<rect x="13" y="9" width="1" height="1" fill="#66189c"/>
<rect x="14" y="9" width="1" height="1" fill="#65189c"/>
<rect x="15" y="9" width="1" height="1" fill="#64189c"/>
<rect x="16" y="9" width="1" height="1" fill="#65189b"/>
<rect x="17" y="9" width="1" height="1" fill="#671a9b"/>
<rect x="18" y="9" width="1" height="1" fill="#691c9c"/>
<rect x="19" y="9" width="1" height="1" fill="#6b1d9c"/>
<rect x="20" y="9" width="1" height="1" fill="#6c1e9d"/>
<rect x="21" y="9" width="1" height="1" fill="#6d1f9d"/>
<rect x="22" y="9" width="2" height="1" fill="#6e209d"/>
<rect x="24" y="9" width="1" height="1" fill="#6c1e9c"/>
<rect x="25" y="9" width="1" height="1" fill="#6d1f9c"/>
<rect x="26" y="9" width="1" height="1" fill="#70219d"/>
<rect x="27" y="9" width="1" height="1" fill="#73259d"/>
<rect x="28" y="9" width="1" height="1" fill="#78299d"/>
<rect x="29" y="9" width="1" height="1" fill="#80309c"/>
<rect x="30" y="9" width="1" height="1" fill="#913e9d"/>
<rect x="31" y="9" width="1" height="1" fill="#a7529f"/>
<rect x="32" y="9" width="1" height="1" fill="#ac569f"/>
<rect x="33" y="9" width="2" height="1" fill="#ad569f"/>
<rect x="35" y="9" width="2" height="1" fill="#ac559f"/>
<rect x="37" y="9" width="1" height="1" fill="#a6519f"/>
<rect x="38" y="9" width="1" height="1" fill="#93409d"/>
<rect x="39" y="9" width="1" height="1" fill="#8c399d"/>
<rect x="40" y="9" width="1" height="1" fill="#85339d"/>
<rect x="41" y="9" width="2" height="1" fill="#83319d"/>
<rect x="43" y="9" width="1" height="1" fill="#83329d"/>
<rect x="44" y="9" width="1" height="1" fill="#84329d"/>
<rect x="45" y="9" width="1" height="1" fill="#83329d"/>
<rect x="46" y="9" width="1" height="1" fill="#83319d"/>
<rect x="47" y="9" width="1" height="1" fill="#81309d"/>
<rect x="48" y="9" width="1" height="1" fill="#7e2e9d"/>
<rect x="49" y="9" width="1" height="1" fill="#7c2c9d"/>
<rect x="50" y="9" width="1" height="1" fill="#7b2b9d"/>
<rect x="51" y="9" width="1" height="1" fill="#7c2c9d"/>
<rect x="52" y="9" width="1" height="1" fill="#80309d"/>
<rect x="53" y="9" width="1" height="1" fill="#87369d"/>
<rect x="54" y="9" width="1" height="1" fill="#913f9d"/>
<rect x="55" y="9" width="1" height="1" fill="#98459d"/>
<rect x="56" y="9" width="1" height="1" fill="#9c499d"/>
<rect x="57" y="9" width="1" height="1" fill="#9a489d"/>
<rect x="58" y="9" width="1" height="1" fill="#93429d"/>
<rect x="59" y="9" width="1" height="1" fill="#8f3e9d"/>
<rect x="0" y="10" width="1" height="1" fill="#67179b"/>
<rect x="1" y="10" width="1" height="1" fill="#69199b"/>
<rect x="2" y="10" width="1" height="1" fill="#6f1f9d"/>
<rect x="3" y="10" width="1" height="1" fill="#74239d"/>
<rect x="4" y="10" width="1" height="1" fill="#7a299d"/>
<rect x="5" y="10" width="1" height="1" fill="#7b2b9d"/>
<rect x="6" y="10" width="1" height="1" fill="#7b2a9d"/>
<rect x="7" y="10" width="1" height="1" fill="#78289d"/>
<rect x="8" y="10" width="1" height="1" fill="#71239d"/>
<rect x="9" y="10" width="1" height="1" fill="#6f219d"/>
<rect x="10" y="10" width="2" height="1" fill="#6e209d"/>
<rect x="12" y="10" width="3" height="1" fill="#6f219d"/>
<rect x="15" y="10" width="1" height="1" fill="#6e209c"/>
<rect x="16" y="10" width="1" height="1" fill="#6a1c9b"/>
<rect x="17" y="10" width="1" height="1" fill="#681a9b"/>
<rect x="18" y="10" width="1" height="1" fill="#65199b"/>
<rect x="19" y="10" width="1" height="1" fill="#63179c"/>
<rect x="20" y="10" width="1" height="1" fill="#5e139d"/>
<rect x="21" y="10" width="1" height="1" fill="#5f149d"/>
<rect x="22" y="10" width="1" height="1" fill="#6a1d9d"/>
<rect x="23" y="10" width="1" height="1" fill="#6e209d"/>
<rect x="24" y="10" width="1" height="1" fill="#6f219d"/>
<rect x="25" y="10" width="1" height="1" fill="#70229d"/>
<rect x="26" y="10" width="1" height="1" fill="#76269d"/>
<rect x="27" y="10" width="1" height="1" fill="#7b2b9d"/>
<rect x="28" y="10" width="1" height="1" fill="#85349d"/>
<rect x="29" y="10" width="1" height="1" fill="#8e3c9d"/>
<rect x="30" y="10" width="1" height="1" fill="#a7519e"/>
<rect x="31" y="10" width="1" height="1" fill="#bb5a98"/>
<rect x="32" y="10" width="1" height="1" fill="#c15891"/>
<rect x="33" y="10" width="2" height="1" fill="#c15690"/>
<rect x="35" y="10" width="1" height="1" fill="#c15791"/>
<rect x="36" y="10" width="1" height="1" fill="#c25b94"/>
<rect x="37" y="10" width="1" height="1" fill="#bc5997"/>
<rect x="38" y="10" width="1" height="1" fill="#a9509c"/>
<rect x="39" y="10" width="1" height="1" fill="#a04b9f"/>
<rect x="40" y="10" width="1" height="1" fill="#93409d"/>
<rect x="41" y="10" width="3" height="1" fill="#903e9d"/>
<rect x="44" y="10" width="3" height="1" fill="#8f3d9d"/>
<rect x="47" y="10" width="1" height="1" fill="#8d3c9d"/>
<rect x="48" y="10" width="1" height="1" fill="#8a399d"/>
<rect x="49" y="10" width="1" height="1" fill="#89389d"/>
<rect x="50" y="10" width="1" height="1" fill="#88379d"/>
<rect x="51" y="10" width="1" height="1" fill="#89389d"/>
<rect x="52" y="10" width="1" height="1" fill="#8d3b9d"/>
<rect x="53" y="10" width="1" height="1" fill="#93409d"/>
<rect x="54" y="10" width="1" height="1" fill="#a350a0"/>
<rect x="55" y="10" width="1" height="1" fill="#aa56a0"/>
<rect x="56" y="10" width="1" height="1" fill="#b05ca0"/>
<rect x="57" y="10" width="1" height="1" fill="#af5ba0"/>
<rect x="58" y="10" width="1" height="1" fill="#a655a0"/>
<rect x="59" y="10" width="1" height="1" fill="#a352a0"/>
<rect x="0" y="11" width="1" height="1" fill="#69199b"/>
<rect x="1" y="11" width="1" height="1" fill="#6b1a9c"/>
<rect x="2" y="11" width="1" height="1" fill="#6f1e9c"/>
<rect x="3" y="11" width="1" height="1" fill="#71219d"/>
<rect x="4" y="11" width="1" height="1" fill="#75259d"/>
<rect x="5" y="11" width="2" height="1" fill="#77279d"/>
<rect x="7" y="11" width="1" height="1" fill="#75269d"/>
<rect x="8" y="11" width="1" height="1" fill="#71229d"/>
<rect x="9" y="11" width="2" height="1" fill="#6f219d"/>
<rect x="11" y="11" width="1" height="1" fill="#70219d"/>
<rect x="12" y="11" width="3" height="1" fill="#70229d"/>
<rect x="15" y="11" width="1" height="1" fill="#6f219d"/>
<rect x="16" y="11" width="1" height="1" fill="#6b1d9c"/>
<rect x="17" y="11" width="1" height="1" fill="#681b9b"/>
<rect x="18" y="11" width="1" height="1" fill="#65189b"/>
<rect x="19" y="11" width="1" height="1" fill="#62159b"/>
<rect x="20" y="11" width="1" height="1" fill="#5c119c"/>
<rect x="21" y="11" width="1" height="1" fill="#5e129d"/>
<rect x="22" y="11" width="1" height="1" fill="#691b9d"/>
<rect x="23" y="11" width="1" height="1" fill="#6d1f9d"/>
<rect x="24" y="11" width="1" height="1" fill="#6f219d"/>
<rect x="25" y="11" width="1" height="1" fill="#71239d"/>
<rect x="26" y="11" width="1" height="1" fill="#792a9d"/>
<rect x="27" y="11" width="1" height="1" fill="#84339d"/>
<rect x="28" y="11" width="1" height="1" fill="#96419d"/>
<rect x="29" y="11" width="1" height="1" fill="#a64f9e"/>
<rect x="30" y="11" width="1" height="1" fill="#ba5695"/>
<rect x="31" y="11" width="1" height="1" fill="#c5497d"/>
<rect x="32" y="11" width="1" height="1" fill="#c13366"/>
<rect x="33" y="11" width="2" height="1" fill="#c12d61"/>
<rect x="35" y="11" width="1" height="1" fill="#c13366"/>
<rect x="36" y="11" width="1" height="1" fill="#c74474"/>
<rect x="37" y="11" width="1" height="1" fill="#c54b7d"/>
<rect x="38" y="11" width="1" height="1" fill="#c05089"/>
<rect x="39" y="11" width="1" height="1" fill="#bd528f"/>
<rect x="40" y="11" width="1" height="1" fill="#b65396"/>
<rect x="41" y="11" width="2" height="1" fill="#b45498"/>
<rect x="43" y="11" width="1" height="1" fill="#b35399"/>
<rect x="44" y="11" width="1" height="1" fill="#b0539a"/>
<rect x="45" y="11" width="2" height="1" fill="#ae539a"/>
<rect x="47" y="11" width="1" height="1" fill="#ac519b"/>
<rect x="48" y="11" width="1" height="1" fill="#a54d9c"/>
<rect x="49" y="11" width="2" height="1" fill="#a24c9d"/>
<rect x="51" y="11" width="1" height="1" fill="#a24c9e"/>
<rect x="52" y="11" width="1" height="1" fill="#a44f9f"/>
<rect x="53" y="11" width="1" height="1" fill="#a752a0"/>
<rect x="54" y="11" width="1" height="1" fill="#b059a0"/>
<rect x="55" y="11" width="1" height="1" fill="#b45ca0"/>
<rect x="56" y="11" width="1" height="1" fill="#b65fa0"/>
<rect x="57" y="11" width="1" height="1" fill="#b55ea0"/>
<rect x="58" y="11" width="1" height="1" fill="#af5aa0"/>
<rect x="59" y="11" width="1" height="1" fill="#ac58a0"/>
<rect x="0" y="12" width="1" height="1" fill="#76249d"/>
<rect x="1" y="12" width="1" height="1" fill="#74229c"/>
<rect x="2" y="12" width="1" height="1" fill="#6d1c9c"/>
<rect x="3" y="12" width="2" height="1" fill="#6b1b9b"/>
<rect x="5" y="12" width="2" height="1" fill="#6c1c9b"/>
<rect x="7" y="12" width="1" height="1" fill="#6d1d9c"/>
<rect x="8" y="12" width="1" height="1" fill="#70219d"/>
<rect x="9" y="12" width="2" height="1" fill="#72229d"/>
<rect x="11" y="12" width="1" height="1" fill="#71229d"/>
<rect x="12" y="12" width="1" height="1" fill="#6f219d"/>
<rect x="13" y="12" width="2" height="1" fill="#6f209d"/>
<rect x="15" y="12" width="1" height="1" fill="#6e209d"/>
<rect x="16" y="12" width="1" height="1" fill="#6c1e9d"/>
<rect x="17" y="12" width="1" height="1" fill="#6b1c9c"/>
<rect x="18" y="12" width="1" height="1" fill="#68199b"/>
<rect x="19" y="12" width="1" height="1" fill="#67189b"/>
<rect x="20" y="12" width="1" height="1" fill="#68199b"/>
<rect x="21" y="12" width="1" height="1" fill="#691a9c"/>
<rect x="22" y="12" width="2" height="1" fill="#6b1c9c"/>
<rect x="24" y="12" width="1" height="1" fill="#6a1c9c"/>
<rect x="25" y="12" width="1" height="1" fill="#6b1d9c"/>
<rect x="26" y="12" width="1" height="1" fill="#72249c"/>
<rect x="27" y="12" width="1" height="1" fill="#88369d"/>
<rect x="28" y="12" width="1" height="1" fill="#a64f9f"/>
<rect x="29" y="12" width="1" height="1" fill="#ba5897"/>
<rect x="30" y="12" width="1" height="1" fill="#c54c7f"/>
<rect x="31" y="12" width="1" height="1" fill="#c13163"/>
<rect x="32" y="12" width="1" height="1" fill="#c02153"/>
<rect x="33" y="12" width="2" height="1" fill="#c01e51"/>
<rect x="35" y="12" width="1" height="1" fill="#c02053"/>
<rect x="36" y="12" width="1" height="1" fill="#c0275a"/>
<rect x="37" y="12" width="1" height="1" fill="#c02a5c"/>
<rect x="38" y="12" width="1" height="1" fill="#c02b5f"/>
<rect x="39" y="12" width="1" height="1" fill="#c03063"/>
<rect x="40" y="12" width="1" height="1" fill="#c03b6d"/>
<rect x="41" y="12" width="2" height="1" fill="#c03e71"/>
<rect x="43" y="12" width="1" height="1" fill="#c54072"/>
<rect x="44" y="12" width="1" height="1" fill="#c44577"/>
<rect x="45" y="12" width="2" height="1" fill="#c44778"/>
<rect x="47" y="12" width="1" height="1" fill="#c3497c"/>
<rect x="48" y="12" width="1" height="1" fill="#c04f85"/>
<rect x="49" y="12" width="2" height="1" fill="#bf5188"/>
<rect x="51" y="12" width="1" height="1" fill="#be528c"/>
<rect x="52" y="12" width="1" height="1" fill="#b95697"/>
<rect x="53" y="12" width="1" height="1" fill="#b8589a"/>
<rect x="54" y="12" width="1" height="1" fill="#b9599a"/>
<rect x="55" y="12" width="1" height="1" fill="#b7599b"/>
<rect x="56" y="12" width="1" height="1" fill="#af589c"/>
<rect x="57" y="12" width="1" height="1" fill="#ac579d"/>
<rect x="58" y="12" width="1" height="1" fill="#ab579d"/>
<rect x="59" y="12" width="1" height="1" fill="#ab569d"/>
<rect x="0" y="13" width="1" height="1" fill="#82309d"/>
<rect x="1" y="13" width="1" height="1" fill="#7e2c9d"/>
<rect x="2" y="13" width="1" height="1" fill="#71219c"/>
<rect x="3" y="13" width="4" height="1" fill="#6d1d9b"/>
<rect x="7" y="13" width="1" height="1" fill="#6f1f9c"/>
<rect x="8" y="13" width="1" height="1" fill="#76259d"/>
<rect x="9" y="13" width="2" height="1" fill="#78289d"/>
<rect x="11" y="13" width="1" height="1" fill="#77279d"/>
<rect x="12" y="13" width="1" height="1" fill="#74249d"/>
<rect x="13" y="13" width="2" height="1" fill="#73249d"/>
<rect x="15" y="13" width="1" height="1" fill="#71229d"/>
<rect x="16" y="13" width="1" height="1" fill="#6c1c9c"/>
<rect x="17" y="13" width="1" height="1" fill="#691a9b"/>
<rect x="18" y="13" width="1" height="1" fill="#67189b"/>
<rect x="19" y="13" width="1" height="1" fill="#69199b"/>
<rect x="20" y="13" width="1" height="1" fill="#6e1f9c"/>
<rect x="21" y="13" width="1" height="1" fill="#71229d"/>
<rect x="22" y="13" width="1" height="1" fill="#73249d"/>
<rect x="23" y="13" width="1" height="1" fill="#75269d"/>
<rect x="24" y="13" width="1" height="1" fill="#77279d"/>
<rect x="25" y="13" width="1" height="1" fill="#79289d"/>
<rect x="26" y="13" width="1" height="1" fill="#82309c"/>
<rect x="27" y="13" width="1" height="1" fill="#96419c"/>
<rect x="28" y="13" width="1" height="1" fill="#b0569e"/>
<rect x="29" y="13" width="1" height="1" fill="#c05991"/>
<rect x="30" y="13" width="1" height="1" fill="#c64475"/>
<rect x="31" y="13" width="1" height="1" fill="#c02759"/>
<rect x="32" y="13" width="1" height="1" fill="#be184a"/>
<rect x="33" y="13" width="2" height="1" fill="#be1547"/>
<rect x="35" y="13" width="1" height="1" fill="#be1649"/>
<rect x="36" y="13" width="1" height="1" fill="#be194d"/>
<rect x="37" y="13" width="2" height="1" fill="#be1b4e"/>
<rect x="39" y="13" width="1" height="1" fill="#be1b4f"/>
<rect x="40" y="13" width="1" height="1" fill="#bf1e51"/>
<rect x="41" y="13" width="2" height="1" fill="#bf1f52"/>
<rect x="43" y="13" width="1" height="1" fill="#bf2053"/>
<rect x="44" y="13" width="1" height="1" fill="#c02456"/>
<rect x="45" y="13" width="2" height="1" fill="#c02557"/>
<rect x="47" y="13" width="1" height="1" fill="#c0275a"/>
<rect x="48" y="13" width="1" height="1" fill="#c12d61"/>
<rect x="49" y="13" width="2" height="1" fill="#c12f63"/>
<rect x="51" y="13" width="1" height="1" fill="#c13468"/>
<rect x="52" y="13" width="1" height="1" fill="#c54375"/>
<rect x="53" y="13" width="2" height="1" fill="#c5487a"/>
<rect x="55" y="13" width="1" height="1" fill="#c44a7c"/>
<rect x="56" y="13" width="1" height="1" fill="#c05084"/>
<rect x="57" y="13" width="3" height="1" fill="#bf5287"/>
<rect x="0" y="14" width="1" height="1" fill="#923f9d"/>
<rect x="1" y="14" width="1" height="1" fill="#8d3b9d"/>
<rect x="2" y="14" width="1" height="1" fill="#7f2e9d"/>
<rect x="3" y="14" width="4" height="1" fill="#7a2a9d"/>
<rect x="7" y="14" width="1" height="1" fill="#7c2b9d"/>
<rect x="8" y="14" width="1" height="1" fill="#82309d"/>
<rect x="9" y="14" width="2" height="1" fill="#84329d"/>
<rect x="11" y="14" width="1" height="1" fill="#82319d"/>
<rect x="12" y="14" width="1" height="1" fill="#7d2d9d"/>
<rect x="13" y="14" width="1" height="1" fill="#7b2b9d"/>
<rect x="14" y="14" width="1" height="1" fill="#79299d"/>
<rect x="15" y="14" width="1" height="1" fill="#75269d"/>
<rect x="16" y="14" width="1" height="1" fill="#6c1d9b"/>
<rect x="17" y="14" width="1" height="1" fill="#67199b"/>
<rect x="18" y="14" width="1" height="1" fill="#62159b"/>
<rect x="19" y="14" width="1" height="1" fill="#65189b"/>
<rect x="20" y="14" width="1" height="1" fill="#76269d"/>
<rect x="21" y="14" width="1" height="1" fill="#83319d"/>
<rect x="22" y="14" width="1" height="1" fill="#923e9c"/>
<rect x="23" y="14" width="1" height="1" fill="#9a439b"/>
<rect x="24" y="14" width="1" height="1" fill="#a74e9d"/>
<rect x="25" y="14" width="1" height="1" fill="#ad529c"/>
<rect x="26" y="14" width="1" height="1" fill="#b5569a"/>
<rect x="27" y="14" width="1" height="1" fill="#bb5a9a"/>
<rect x="28" y="14" width="1" height="1" fill="#bf5d9a"/>
<rect x="29" y="14" width="1" height="1" fill="#c25991"/>
<rect x="30" y="14" width="1" height="1" fill="#c64274"/>
<rect x="31" y="14" width="1" height="1" fill="#c02658"/>
<rect x="32" y="14" width="1" height="1" fill="#bd1447"/>
<rect x="33" y="14" width="3" height="1" fill="#bc1043"/>
<rect x="36" y="14" width="1" height="1" fill="#bc1245"/>
<rect x="37" y="14" width="2" height="1" fill="#bc1345"/>
<rect x="39" y="14" width="1" height="1" fill="#bc1346"/>
<rect x="40" y="14" width="1" height="1" fill="#bd1547"/>
<rect x="41" y="14" width="2" height="1" fill="#bd1648"/>
<rect x="43" y="14" width="1" height="1" fill="#be1749"/>
<rect x="44" y="14" width="1" height="1" fill="#be184b"/>
<rect x="45" y="14" width="2" height="1" fill="#be194c"/>
<rect x="47" y="14" width="1" height="1" fill="#be194d"/>
<rect x="48" y="14" width="1" height="1" fill="#be1a4e"/>
<rect x="49" y="14" width="2" height="1" fill="#be1b4e"/>
<rect x="51" y="14" width="1" height="1" fill="#be1d50"/>
<rect x="52" y="14" width="1" height="1" fill="#bf2356"/>
<rect x="53" y="14" width="2" height="1" fill="#bf2558"/>
<rect x="55" y="14" width="1" height="1" fill="#bf275a"/>
<rect x="56" y="14" width="1" height="1" fill="#bf2d60"/>
<rect x="57" y="14" width="3" height="1" fill="#c02f62"/>
<rect x="0" y="15" width="1" height="1" fill="#a8549f"/>
<rect x="1" y="15" width="1" height="1" fill="#a4509f"/>
<rect x="2" y="15" width="1" height="1" fill="#94409c"/>
<rect x="3" y="15" width="4" height="1" fill="#903c9c"/>
<rect x="7" y="15" width="1" height="1" fill="#913d9c"/>
<rect x="8" y="15" width="1" height="1" fill="#93409d"/>
<rect x="9" y="15" width="2" height="1" fill="#94429d"/>
<rect x="11" y="15" width="1" height="1" fill="#913f9d"/>
<rect x="12" y="15" width="1" height="1" fill="#89379d"/>
<rect x="13" y="15" width="1" height="1" fill="#83319d"/>
<rect x="14" y="15" width="1" height="1" fill="#78289d"/>
<rect x="15" y="15" width="1" height="1" fill="#72239d"/>
<rect x="16" y="15" width="1" height="1" fill="#6a1c9b"/>
<rect x="17" y="15" width="1" height="1" fill="#671a9b"/>
<rect x="18" y="15" width="1" height="1" fill="#66199b"/>
<rect x="19" y="15" width="1" height="1" fill="#6f219b"/>
<rect x="20" y="15" width="1" height="1" fill="#923d9b"/>
<rect x="21" y="15" width="1" height="1" fill="#af549c"/>
<rect x="22" y="15" width="1" height="1" fill="#bb5896"/>
<rect x="23" y="15" width="1" height="1" fill="#bf5792"/>
<rect x="24" y="15" width="1" height="1" fill="#c3538a"/>
<rect x="25" y="15" width="1" height="1" fill="#c45287"/>
<rect x="26" y="15" width="3" height="1" fill="#c65286"/>
<rect x="29" y="15" width="1" height="1" fill="#c64b7f"/>
<rect x="30" y="15" width="1" height="1" fill="#c03466"/>
<rect x="31" y="15" width="1" height="1" fill="#bf2557"/>
<rect x="32" y="15" width="1" height="1" fill="#bd1749"/>
<rect x="33" y="15" width="2" height="1" fill="#bc1245"/>
<rect x="35" y="15" width="1" height="1" fill="#bc1143"/>
<rect x="36" y="15" width="1" height="1" fill="#ba0d40"/>
<rect x="37" y="15" width="2" height="1" fill="#ba0c3e"/>
<rect x="39" y="15" width="1" height="1" fill="#ba0d3f"/>
<rect x="40" y="15" width="1" height="1" fill="#ba0e40"/>
<rect x="41" y="15" width="2" height="1" fill="#ba0f40"/>
<rect x="43" y="15" width="1" height="1" fill="#bb1041"/>
<rect x="44" y="15" width="1" height="1" fill="#bc1345"/>
<rect x="45" y="15" width="6" height="1" fill="#bc1447"/>
<rect x="51" y="15" width="1" height="1" fill="#bc1548"/>
<rect x="52" y="15" width="1" height="1" fill="#bd194c"/>
<rect x="53" y="15" width="2" height="1" fill="#be1a4d"/>
<rect x="55" y="15" width="1" height="1" fill="#be1a4e"/>
<rect x="56" y="15" width="4" height="1" fill="#be1b4f"/>
<rect x="0" y="16" width="1" height="1" fill="#ba5c98"/>
<rect x="1" y="16" width="1" height="1" fill="#b95b98"/>
<rect x="2" y="16" width="1" height="1" fill="#b55998"/>
<rect x="3" y="16" width="4" height="1" fill="#b45898"/>
<rect x="7" y="16" width="1" height="1" fill="#b1569a"/>
<rect x="8" y="16" width="1" height="1" fill="#a8529d"/>
<rect x="9" y="16" width="2" height="1" fill="#a5519f"/>
<rect x="11" y="16" width="1" height="1" fill="#a14d9f"/>
<rect x="12" y="16" width="1" height="1" fill="#923f9d"/>
<rect x="13" y="16" width="1" height="1" fill="#89379d"/>
<rect x="14" y="16" width="1" height="1" fill="#7c2b9d"/>
<rect x="15" y="16" width="1" height="1" fill="#75259d"/>
<rect x="16" y="16" width="2" height="1" fill="#6d1f9c"/>
<rect x="18" y="16" width="1" height="1" fill="#74269c"/>
<rect x="19" y="16" width="1" height="1" fill="#83319b"/>
<rect x="20" y="16" width="1" height="1" fill="#ae5096"/>
<rect x="21" y="16" width="1" height="1" fill="#c1548a"/>
<rect x="22" y="16" width="1" height="1" fill="#c64a7d"/>
<rect x="23" y="16" width="1" height="1" fill="#c74275"/>
<rect x="24" y="16" width="1" height="1" fill="#c13468"/>
<rect x="25" y="16" width="4" height="1" fill="#c03064"/>
<rect x="29" y="16" width="1" height="1" fill="#c02d60"/>
<rect x="30" y="16" width="1" height="1" fill="#bf2357"/>
<rect x="31" y="16" width="1" height="1" fill="#be1e51"/>
<rect x="32" y="16" width="1" height="1" fill="#bd174a"/>
<rect x="33" y="16" width="2" height="1" fill="#bc1547"/>
<rect x="35" y="16" width="1" height="1" fill="#bc1245"/>
<rect x="36" y="16" width="1" height="1" fill="#b90c3e"/>
<rect x="37" y="16" width="3" height="1" fill="#b90a3b"/>
<rect x="40" y="16" width="3" height="1" fill="#b90a3c"/>
<rect x="43" y="16" width="1" height="1" fill="#b90b3d"/>
<rect x="44" y="16" width="1" height="1" fill="#ba0f41"/>
<rect x="45" y="16" width="6" height="1" fill="#ba1142"/>
<rect x="51" y="16" width="1" height="1" fill="#bb1243"/>
<rect x="52" y="16" width="1" height="1" fill="#bc1447"/>
<rect x="53" y="16" width="7" height="1" fill="#bc1548"/>
<rect x="0" y="17" width="3" height="1" fill="#be5e96"/>
<rect x="3" y="17" width="4" height="1" fill="#be5e95"/>
<rect x="7" y="17" width="1" height="1" fill="#bd5d96"/>
<rect x="8" y="17" width="1" height="1" fill="#b85b98"/>
<rect x="9" y="17" width="2" height="1" fill="#b75a99"/>
<rect x="11" y="17" width="1" height="1" fill="#b1579a"/>
<rect x="12" y="17" width="1" height="1" fill="#a14d9f"/>
<rect x="13" y="17" width="1" height="1" fill="#93409d"/>
<rect x="14" y="17" width="1" height="1" fill="#82309d"/>
<rect x="15" y="17" width="1" height="1" fill="#79289d"/>
<rect x="16" y="17" width="1" height="1" fill="#71229d"/>
<rect x="17" y="17" width="1" height="1" fill="#73259d"/>
<rect x="18" y="17" width="1" height="1" fill="#83339d"/>
<rect x="19" y="17" width="1" height="1" fill="#953f99"/>
<rect x="20" y="17" width="1" height="1" fill="#b9518e"/>
<rect x="21" y="17" width="1" height="1" fill="#c64678"/>
<rect x="22" y="17" width="1" height="1" fill="#c13063"/>
<rect x="23" y="17" width="1" height="1" fill="#c0285c"/>
<rect x="24" y="17" width="1" height="1" fill="#bf2256"/>
<rect x="25" y="17" width="4" height="1" fill="#be2053"/>
<rect x="29" y="17" width="1" height="1" fill="#be1e52"/>
<rect x="30" y="17" width="1" height="1" fill="#be1b4e"/>
<rect x="31" y="17" width="1" height="1" fill="#be194d"/>
<rect x="32" y="17" width="1" height="1" fill="#be184c"/>
<rect x="33" y="17" width="2" height="1" fill="#be184b"/>
<rect x="35" y="17" width="1" height="1" fill="#bd1649"/>
<rect x="36" y="17" width="1" height="1" fill="#bb1041"/>
<rect x="37" y="17" width="2" height="1" fill="#ba0d3f"/>
<rect x="39" y="17" width="4" height="1" fill="#ba0d3e"/>
<rect x="43" y="17" width="1" height="1" fill="#ba0e3f"/>
<rect x="44" y="17" width="1" height="1" fill="#ba1041"/>
<rect x="45" y="17" width="6" height="1" fill="#ba1141"/>
<rect x="51" y="17" width="1" height="1" fill="#ba1142"/>
<rect x="52" y="17" width="1" height="1" fill="#bb1345"/>
<rect x="53" y="17" width="2" height="1" fill="#bc1346"/>
<rect x="55" y="17" width="1" height="1" fill="#bc1345"/>
<rect x="56" y="17" width="1" height="1" fill="#bb1345"/>
<rect x="57" y="17" width="3" height="1" fill="#bb1245"/>
<rect x="0" y="18" width="1" height="1" fill="#bc5e97"/>
<rect x="1" y="18" width="1" height="1" fill="#bd5e96"/>
<rect x="2" y="18" width="1" height="1" fill="#c05e94"/>
<rect x="3" y="18" width="4" height="1" fill="#c15e94"/>
<rect x="7" y="18" width="1" height="1" fill="#c05e94"/>
<rect x="8" y="18" width="1" height="1" fill="#be5d96"/>
<rect x="9" y="18" width="2" height="1" fill="#bd5d97"/>
<rect x="11" y="18" width="1" height="1" fill="#b85b98"/>
<rect x="12" y="18" width="1" height="1" fill="#ab539d"/>
<rect x="13" y="18" width="1" height="1" fill="#a14c9f"/>
<rect x="14" y="18" width="1" height="1" fill="#89379d"/>
<rect x="15" y="18" width="1" height="1" fill="#78299d"/>
<rect x="16" y="18" width="1" height="1" fill="#74259d"/>
<rect x="17" y="18" width="1" height="1" fill="#792a9d"/>
<rect x="18" y="18" width="1" height="1" fill="#923e9c"/>
<rect x="19" y="18" width="1" height="1" fill="#b25395"/>
<rect x="20" y="18" width="1" height="1" fill="#c35385"/>
<rect x="21" y="18" width="1" height="1" fill="#c74675"/>
<rect x="22" y="18" width="1" height="1" fill="#bf2a5c"/>
<rect x="23" y="18" width="1" height="1" fill="#be2154"/>
<rect x="24" y="18" width="1" height="1" fill="#be2053"/>
<rect x="25" y="18" width="1" height="1" fill="#be1f52"/>
<rect x="26" y="18" width="1" height="1" fill="#be1c4f"/>
<rect x="27" y="18" width="3" height="1" fill="#be1b4e"/>
<rect x="30" y="18" width="5" height="1" fill="#be1a4e"/>
<rect x="35" y="18" width="1" height="1" fill="#be194c"/>
<rect x="36" y="18" width="1" height="1" fill="#bc1548"/>
<rect x="37" y="18" width="3" height="1" fill="#bc1446"/>
<rect x="40" y="18" width="5" height="1" fill="#bb1243"/>
<rect x="45" y="18" width="2" height="1" fill="#bb1343"/>
<rect x="47" y="18" width="1" height="1" fill="#ba1243"/>
<rect x="48" y="18" width="1" height="1" fill="#ba1242"/>
<rect x="49" y="18" width="1" height="1" fill="#ba1141"/>
<rect x="50" y="18" width="1" height="1" fill="#ba1040"/>
<rect x="51" y="18" width="1" height="1" fill="#ba0f40"/>
<rect x="52" y="18" width="3" height="1" fill="#ba1041"/>
<rect x="55" y="18" width="1" height="1" fill="#ba0f40"/>
<rect x="56" y="18" width="1" height="1" fill="#b90c3d"/>
<rect x="57" y="18" width="3" height="1" fill="#b90b3c"/>
<rect x="0" y="19" width="1" height="1" fill="#bd5e97"/>
<rect x="1" y="19" width="1" height="1" fill="#be5e96"/>
<rect x="2" y="19" width="1" height="1" fill="#c15e93"/>
<rect x="3" y="19" width="3" height="1" fill="#c15e92"/>
<rect x="6" y="19" width="1" height="1" fill="#c25e92"/>
<rect x="7" y="19" width="1" height="1" fill="#c15e92"/>
<rect x="8" y="19" width="1" height="1" fill="#c15d93"/>
<rect x="9" y="19" width="2" height="1" fill="#c05d93"/>
<rect x="11" y="19" width="1" height="1" fill="#bf5c94"/>
<rect x="12" y="19" width="1" height="1" fill="#b95b97"/>
<rect x="13" y="19" width="1" height="1" fill="#b25799"/>
<rect x="14" y="19" width="1" height="1" fill="#9a449b"/>
<rect x="15" y="19" width="1" height="1" fill="#88379d"/>
<rect x="16" y="19" width="1" height="1" fill="#84349d"/>
<rect x="17" y="19" width="1" height="1" fill="#8a389d"/>
<rect x="18" y="19" width="1" height="1" fill="#a34c9d"/>
<rect x="19" y="19" width="1" height="1" fill="#bb5894"/>
<rect x="20" y="19" width="1" height="1" fill="#c65684"/>
<rect x="21" y="19" width="1" height="1" fill="#c74a77"/>
<rect x="22" y="19" width="1" height="1" fill="#bf2c5e"/>
<rect x="23" y="19" width="2" height="1" fill="#be2255"/>
<rect x="25" y="19" width="1" height="1" fill="#be2054"/>
<rect x="26" y="19" width="1" height="1" fill="#be1c50"/>
<rect x="27" y="19" width="1" height="1" fill="#be1a4e"/>
<rect x="28" y="19" width="1" height="1" fill="#be1a4d"/>
<rect x="29" y="19" width="1" height="1" fill="#bd1a4d"/>
<rect x="30" y="19" width="1" height="1" fill="#bd1b4e"/>
<rect x="31" y="19" width="1" height="1" fill="#be1c4f"/>
<rect x="32" y="19" width="4" height="1" fill="#be1d50"/>
<rect x="36" y="19" width="1" height="1" fill="#be1b4e"/>
<rect x="37" y="19" width="3" height="1" fill="#be1a4d"/>
<rect x="40" y="19" width="1" height="1" fill="#bd1a4d"/>
<rect x="41" y="19" width="6" height="1" fill="#bd194d"/>
<rect x="47" y="19" width="1" height="1" fill="#bd184b"/>
<rect x="48" y="19" width="1" height="1" fill="#bb1344"/>
<rect x="49" y="19" width="1" height="1" fill="#ba1242"/>
<rect x="50" y="19" width="5" height="1" fill="#ba1142"/>
<rect x="55" y="19" width="1" height="1" fill="#ba1041"/>
<rect x="56" y="19" width="1" height="1" fill="#b90c3d"/>
<rect x="57" y="19" width="3" height="1" fill="#b80b3c"/>
<rect x="0" y="20" width="1" height="1" fill="#be5f97"/>
<rect x="1" y="20" width="1" height="1" fill="#bf5f96"/>
<rect x="2" y="20" width="1" height="1" fill="#c15e93"/>
<rect x="3" y="20" width="2" height="1" fill="#c25e92"/>
<rect x="5" y="20" width="1" height="1" fill="#c25e91"/>
<rect x="6" y="20" width="2" height="1" fill="#c25c8f"/>
<rect x="8" y="20" width="3" height="1" fill="#c25b8f"/>
<rect x="11" y="20" width="1" height="1" fill="#c25c90"/>
<rect x="12" y="20" width="1" height="1" fill="#c05c92"/>
<rect x="13" y="20" width="1" height="1" fill="#be5c94"/>
<rect x="14" y="20" width="1" height="1" fill="#b55897"/>
<rect x="15" y="20" width="1" height="1" fill="#aa539c"/>
<rect x="16" y="20" width="1" height="1" fill="#a6519e"/>
<rect x="17" y="20" width="1" height="1" fill="#aa539d"/>
<rect x="18" y="20" width="1" height="1" fill="#b85998"/>
<rect x="19" y="20" width="1" height="1" fill="#c05b92"/>
<rect x="20" y="20" width="1" height="1" fill="#c65686"/>
<rect x="21" y="20" width="1" height="1" fill="#c74b79"/>
<rect x="22" y="20" width="1" height="1" fill="#bf2e60"/>
<rect x="23" y="20" width="2" height="1" fill="#be2558"/>
<rect x="25" y="20" width="1" height="1" fill="#be2255"/>
<rect x="26" y="20" width="1" height="1" fill="#be1b4e"/>
<rect x="27" y="20" width="1" height="1" fill="#bd174a"/>
<rect x="28" y="20" width="1" height="1" fill="#bb1244"/>
<rect x="29" y="20" width="2" height="1" fill="#bb1042"/>
<rect x="31" y="20" width="1" height="1" fill="#bb1345"/>
<rect x="32" y="20" width="1" height="1" fill="#bd194d"/>
<rect x="33" y="20" width="2" height="1" fill="#be1c4f"/>
<rect x="35" y="20" width="1" height="1" fill="#be1c50"/>
<rect x="36" y="20" width="1" height="1" fill="#be1e52"/>
<rect x="37" y="20" width="7" height="1" fill="#be1f52"/>
<rect x="44" y="20" width="3" height="1" fill="#be1f53"/>
<rect x="47" y="20" width="1" height="1" fill="#be1d50"/>
<rect x="48" y="20" width="1" height="1" fill="#bc1749"/>
<rect x="49" y="20" width="6" height="1" fill="#bc1447"/>
<rect x="55" y="20" width="1" height="1" fill="#bb1345"/>
<rect x="56" y="20" width="1" height="1" fill="#ba1041"/>
<rect x="57" y="20" width="3" height="1" fill="#ba0f40"/>
<rect x="0" y="21" width="1" height="1" fill="#bf6097"/>
<rect x="1" y="21" width="1" height="1" fill="#bf5f96"/>
<rect x="2" y="21" width="1" height="1" fill="#c15e93"/>
<rect x="3" y="21" width="2" height="1" fill="#c15e92"/>
<rect x="5" y="21" width="1" height="1" fill="#c25d91"/>
<rect x="6" y="21" width="1" height="1" fill="#c25b8e"/>
<rect x="7" y="21" width="2" height="1" fill="#c25a8d"/>
<rect x="9" y="21" width="1" height="1" fill="#c35a8c"/>
<rect x="10" y="21" width="3" height="1" fill="#c3588a"/>
<rect x="13" y="21" width="1" height="1" fill="#c25488"/>
<rect x="14" y="21" width="1" height="1" fill="#c15388"/>
<rect x="15" y="21" width="1" height="1" fill="#bf538a"/>
<rect x="16" y="21" width="1" height="1" fill="#be538c"/>
<rect x="17" y="21" width="1" height="1" fill="#bf548c"/>
<rect x="18" y="21" width="1" height="1" fill="#c15489"/>
<rect x="19" y="21" width="1" height="1" fill="#c35285"/>
<rect x="20" y="21" width="1" height="1" fill="#c74b7b"/>
<rect x="21" y="21" width="1" height="1" fill="#c74171"/>
<rect x="22" y="21" width="1" height="1" fill="#bf2c5e"/>
<rect x="23" y="21" width="2" height="1" fill="#be2557"/>
<rect x="25" y="21" width="1" height="1" fill="#be2254"/>
<rect x="26" y="21" width="1" height="1" fill="#bc194b"/>
<rect x="27" y="21" width="1" height="1" fill="#bc1447"/>
<rect x="28" y="21" width="1" height="1" fill="#ba1041"/>
<rect x="29" y="21" width="1" height="1" fill="#ba0e3f"/>
<rect x="30" y="21" width="1" height="1" fill="#ba0d3e"/>
<rect x="31" y="21" width="1" height="1" fill="#ba0f40"/>
<rect x="32" y="21" width="1" height="1" fill="#bc1548"/>
<rect x="33" y="21" width="1" height="1" fill="#bd184b"/>
<rect x="34" y="21" width="1" height="1" fill="#be194d"/>
<rect x="35" y="21" width="1" height="1" fill="#be1a4e"/>
<rect x="36" y="21" width="1" height="1" fill="#be1e51"/>
<rect x="37" y="21" width="1" height="1" fill="#be1f53"/>
<rect x="38" y="21" width="1" height="1" fill="#be2054"/>
<rect x="39" y="21" width="5" height="1" fill="#be2154"/>
<rect x="44" y="21" width="1" height="1" fill="#be2255"/>
<rect x="45" y="21" width="2" height="1" fill="#be2256"/>
<rect x="47" y="21" width="1" height="1" fill="#be2054"/>
<rect x="48" y="21" width="1" height="1" fill="#bd1b4e"/>
<rect x="49" y="21" width="1" height="1" fill="#bc194c"/>
<rect x="50" y="21" width="5" height="1" fill="#bc184c"/>
<rect x="55" y="21" width="1" height="1" fill="#bc184b"/>
<rect x="56" y="21" width="1" height="1" fill="#bc1648"/>
<rect x="57" y="21" width="2" height="1" fill="#bc1547"/>
<rect x="59" y="21" width="1" height="1" fill="#bc1649"/>
<rect x="0" y="22" width="1" height="1" fill="#bf6097"/>
<rect x="1" y="22" width="1" height="1" fill="#bf6096"/>
<rect x="2" y="22" width="1" height="1" fill="#c05f94"/>
<rect x="3" y="22" width="2" height="1" fill="#c15e93"/>
<rect x="5" y="22" width="1" height="1" fill="#c15d92"/>
<rect x="6" y="22" width="1" height="1" fill="#c25b8e"/>
<rect x="7" y="22" width="2" height="1" fill="#c25a8d"/>
<rect x="9" y="22" width="1" height="1" fill="#c3578a"/>
<rect x="10" y="22" width="1" height="1" fill="#c64f7f"/>
<rect x="11" y="22" width="1" height="1" fill="#c74c7b"/>
<rect x="12" y="22" width="1" height="1" fill="#c74677"/>
<rect x="13" y="22" width="1" height="1" fill="#c03468"/>
<rect x="14" y="22" width="3" height="1" fill="#bf2e64"/>
<rect x="17" y="22" width="1" height="1" fill="#bf2f64"/>
<rect x="18" y="22" width="2" height="1" fill="#bf3064"/>
<rect x="20" y="22" width="1" height="1" fill="#c02f62"/>
<rect x="21" y="22" width="1" height="1" fill="#c02b5f"/>
<rect x="22" y="22" width="1" height="1" fill="#be2356"/>
<rect x="23" y="22" width="2" height="1" fill="#be2053"/>
<rect x="25" y="22" width="1" height="1" fill="#bd1d50"/>
<rect x="26" y="22" width="1" height="1" fill="#bb1548"/>
<rect x="27" y="22" width="1" height="1" fill="#ba1245"/>
<rect x="28" y="22" width="1" height="1" fill="#ba1244"/>
<rect x="29" y="22" width="1" height="1" fill="#ba1042"/>
<rect x="30" y="22" width="1" height="1" fill="#b90b3c"/>
<rect x="31" y="22" width="1" height="1" fill="#b8093b"/>
<rect x="32" y="22" width="1" height="1" fill="#b90b3c"/>
<rect x="33" y="22" width="1" height="1" fill="#ba0d3f"/>
<rect x="34" y="22" width="1" height="1" fill="#bb1345"/>
<rect x="35" y="22" width="1" height="1" fill="#bc1548"/>
<rect x="36" y="22" width="1" height="1" fill="#bc1648"/>
<rect x="37" y="22" width="1" height="1" fill="#bc184b"/>
<rect x="38" y="22" width="1" height="1" fill="#be1e51"/>
<rect x="39" y="22" width="5" height="1" fill="#be2053"/>
<rect x="44" y="22" width="1" height="1" fill="#be2154"/>
<rect x="45" y="22" width="2" height="1" fill="#be2155"/>
<rect x="47" y="22" width="1" height="1" fill="#be2154"/>
<rect x="48" y="22" width="1" height="1" fill="#be2053"/>
<rect x="49" y="22" width="1" height="1" fill="#be1f52"/>
<rect x="50" y="22" width="1" height="1" fill="#be1c50"/>
<rect x="51" y="22" width="4" height="1" fill="#be1b4f"/>
<rect x="55" y="22" width="1" height="1" fill="#be1c50"/>
<rect x="56" y="22" width="1" height="1" fill="#be1e52"/>
<rect x="57" y="22" width="1" height="1" fill="#be1e51"/>
<rect x="58" y="22" width="1" height="1" fill="#be1f54"/>
<rect x="59" y="22" width="1" height="1" fill="#be265c"/>
<rect x="0" y="23" width="1" height="1" fill="#be5f96"/>
<rect x="1" y="23" width="1" height="1" fill="#be5f95"/>
<rect x="2" y="23" width="3" height="1" fill="#bf5e93"/>
<rect x="5" y="23" width="1" height="1" fill="#c05d92"/>
<rect x="6" y="23" width="1" height="1" fill="#c15b8f"/>
<rect x="7" y="23" width="1" height="1" fill="#c15a8e"/>
<rect x="8" y="23" width="1" height="1" fill="#c1598d"/>
<rect x="9" y="23" width="1" height="1" fill="#c35487"/>
<rect x="10" y="23" width="1" height="1" fill="#c64475"/>
<rect x="11" y="23" width="1" height="1" fill="#c23e6f"/>
<rect x="12" y="23" width="1" height="1" fill="#c13768"/>
<rect x="13" y="23" width="1" height="1" fill="#bf2356"/>
<rect x="14" y="23" width="3" height="1" fill="#be1d51"/>
<rect x="17" y="23" width="1" height="1" fill="#be1e52"/>
<rect x="18" y="23" width="1" height="1" fill="#be2154"/>
<rect x="19" y="23" width="2" height="1" fill="#be2255"/>
<rect x="21" y="23" width="1" height="1" fill="#be2053"/>
<rect x="22" y="23" width="1" height="1" fill="#be1b4f"/>
<rect x="23" y="23" width="2" height="1" fill="#bd1a4d"/>
<rect x="25" y="23" width="1" height="1" fill="#bd184b"/>
<rect x="26" y="23" width="1" height="1" fill="#bb1344"/>
<rect x="27" y="23" width="1" height="1" fill="#ba1042"/>
<rect x="28" y="23" width="1" height="1" fill="#ba0f41"/>
<rect x="29" y="23" width="1" height="1" fill="#b90d3f"/>
<rect x="30" y="23" width="1" height="1" fill="#b8093a"/>
<rect x="31" y="23" width="2" height="1" fill="#b80739"/>
<rect x="33" y="23" width="1" height="1" fill="#b80a3b"/>
<rect x="34" y="23" width="1" height="1" fill="#ba1143"/>
<rect x="35" y="23" width="2" height="1" fill="#ba1345"/>
<rect x="37" y="23" width="1" height="1" fill="#bb1548"/>
<rect x="38" y="23" width="1" height="1" fill="#bd1c4f"/>
<rect x="39" y="23" width="5" height="1" fill="#be1e51"/>
<rect x="44" y="23" width="5" height="1" fill="#be1f52"/>
<rect x="49" y="23" width="1" height="1" fill="#be1e51"/>
<rect x="50" y="23" width="1" height="1" fill="#be1b4f"/>
<rect x="51" y="23" width="4" height="1" fill="#be1a4e"/>
<rect x="55" y="23" width="1" height="1" fill="#be1c50"/>
<rect x="56" y="23" width="1" height="1" fill="#be2256"/>
<rect x="57" y="23" width="1" height="1" fill="#be2257"/>
<rect x="58" y="23" width="1" height="1" fill="#be2d63"/>
<rect x="59" y="23" width="1" height="1" fill="#c34077"/>
<rect x="0" y="24" width="1" height="1" fill="#b95991"/>
<rect x="1" y="24" width="1" height="1" fill="#ba5991"/>
<rect x="2" y="24" width="1" height="1" fill="#bc5a8f"/>
<rect x="3" y="24" width="3" height="1" fill="#bd5b8f"/>
<rect x="6" y="24" width="1" height="1" fill="#bd5a8e"/>
<rect x="7" y="24" width="1" height="1" fill="#be588c"/>
<rect x="8" y="24" width="1" height="1" fill="#c05387"/>
<rect x="9" y="24" width="1" height="1" fill="#c14b7f"/>
<rect x="10" y="24" width="1" height="1" fill="#be356a"/>
<rect x="11" y="24" width="1" height="1" fill="#bf2c61"/>
<rect x="12" y="24" width="1" height="1" fill="#bf2457"/>
<rect x="13" y="24" width="1" height="1" fill="#be1f52"/>
<rect x="14" y="24" width="2" height="1" fill="#be1e51"/>
<rect x="16" y="24" width="1" height="1" fill="#be2153"/>
<rect x="17" y="24" width="1" height="1" fill="#be2154"/>
<rect x="18" y="24" width="3" height="1" fill="#be2254"/>
<rect x="21" y="24" width="1" height="1" fill="#bd1f51"/>
<rect x="22" y="24" width="1" height="1" fill="#bb1748"/>
<rect x="23" y="24" width="2" height="1" fill="#bb1445"/>
<rect x="25" y="24" width="1" height="1" fill="#ba1344"/>
<rect x="26" y="24" width="1" height="1" fill="#ba1343"/>
<rect x="27" y="24" width="1" height="1" fill="#ba1041"/>
<rect x="28" y="24" width="1" height="1" fill="#b90a3a"/>
<rect x="29" y="24" width="1" height="1" fill="#b80838"/>
<rect x="30" y="24" width="3" height="1" fill="#b80737"/>
<rect x="33" y="24" width="1" height="1" fill="#b80a3a"/>
<rect x="34" y="24" width="1" height="1" fill="#ba1142"/>
<rect x="35" y="24" width="2" height="1" fill="#ba1445"/>
<rect x="37" y="24" width="1" height="1" fill="#ba1547"/>
<rect x="38" y="24" width="1" height="1" fill="#bc194c"/>
<rect x="39" y="24" width="4" height="1" fill="#bc1b4e"/>
<rect x="43" y="24" width="1" height="1" fill="#bc1a4e"/>
<rect x="44" y="24" width="5" height="1" fill="#bc1a4d"/>
<rect x="49" y="24" width="1" height="1" fill="#bc194d"/>
<rect x="50" y="24" width="5" height="1" fill="#bc194c"/>
<rect x="55" y="24" width="1" height="1" fill="#bc184c"/>
<rect x="56" y="24" width="1" height="1" fill="#bc194c"/>
<rect x="57" y="24" width="1" height="1" fill="#be2358"/>
<rect x="58" y="24" width="1" height="1" fill="#be3b70"/>
<rect x="59" y="24" width="1" height="1" fill="#c34e84"/>
<rect x="0" y="25" width="1" height="1" fill="#b85890"/>
<rect x="1" y="25" width="1" height="1" fill="#b95890"/>
<rect x="2" y="25" width="1" height="1" fill="#bb5a8e"/>
<rect x="3" y="25" width="4" height="1" fill="#bc5a8e"/>
<rect x="7" y="25" width="1" height="1" fill="#bd588c"/>
<rect x="8" y="25" width="1" height="1" fill="#bf5286"/>
<rect x="9" y="25" width="1" height="1" fill="#c1487c"/>
<rect x="10" y="25" width="1" height="1" fill="#bd3066"/>
<rect x="11" y="25" width="1" height="1" fill="#be265b"/>
<rect x="12" y="25" width="1" height="1" fill="#bd1f52"/>
<rect x="13" y="25" width="2" height="1" fill="#bd1d4f"/>
<rect x="15" y="25" width="1" height="1" fill="#bd1d50"/>
<rect x="16" y="25" width="5" height="1" fill="#bd2052"/>
<rect x="21" y="25" width="1" height="1" fill="#bd1e4f"/>
<rect x="22" y="25" width="1" height="1" fill="#bb1546"/>
<rect x="23" y="25" width="4" height="1" fill="#ba1343"/>
<rect x="27" y="25" width="1" height="1" fill="#ba1141"/>
<rect x="28" y="25" width="1" height="1" fill="#b80a3a"/>
<rect x="29" y="25" width="4" height="1" fill="#b80837"/>
<rect x="33" y="25" width="1" height="1" fill="#b80a3a"/>
<rect x="34" y="25" width="1" height="1" fill="#ba1242"/>
<rect x="35" y="25" width="2" height="1" fill="#ba1445"/>
<rect x="37" y="25" width="1" height="1" fill="#ba1547"/>
<rect x="38" y="25" width="1" height="1" fill="#bc194c"/>
<rect x="39" y="25" width="4" height="1" fill="#bc1b4e"/>
<rect x="43" y="25" width="1" height="1" fill="#bc1a4e"/>
<rect x="44" y="25" width="1" height="1" fill="#bc194c"/>
<rect x="45" y="25" width="10" height="1" fill="#bc184c"/>
<rect x="55" y="25" width="1" height="1" fill="#bc174b"/>
<rect x="56" y="25" width="1" height="1" fill="#bb174a"/>
<rect x="57" y="25" width="1" height="1" fill="#bd2357"/>
<rect x="58" y="25" width="1" height="1" fill="#be3b70"/>
<rect x="59" y="25" width="1" height="1" fill="#c34e84"/>
<rect x="0" y="26" width="1" height="1" fill="#b85890"/>
<rect x="1" y="26" width="1" height="1" fill="#b95890"/>
<rect x="2" y="26" width="1" height="1" fill="#bb5a8e"/>
<rect x="3" y="26" width="4" height="1" fill="#bc5a8e"/>
<rect x="7" y="26" width="1" height="1" fill="#bd578b"/>
<rect x="8" y="26" width="1" height="1" fill="#bf4f83"/>
<rect x="9" y="26" width="1" height="1" fill="#c04377"/>
<rect x="10" y="26" width="1" height="1" fill="#bc265a"/>
<rect x="11" y="26" width="1" height="1" fill="#bc1b4f"/>
<rect x="12" y="26" width="1" height="1" fill="#bb1749"/>
<rect x="13" y="26" width="8" height="1" fill="#bb1647"/>
<rect x="21" y="26" width="1" height="1" fill="#ba1646"/>
<rect x="22" y="26" width="1" height="1" fill="#ba1344"/>
<rect x="23" y="26" width="4" height="1" fill="#ba1343"/>
<rect x="27" y="26" width="1" height="1" fill="#ba1141"/>
<rect x="28" y="26" width="1" height="1" fill="#b80b3c"/>
<rect x="29" y="26" width="4" height="1" fill="#b80a3a"/>
<rect x="33" y="26" width="1" height="1" fill="#b80c3c"/>
<rect x="34" y="26" width="1" height="1" fill="#ba1244"/>
<rect x="35" y="26" width="2" height="1" fill="#ba1446"/>
<rect x="37" y="26" width="1" height="1" fill="#ba1648"/>
<rect x="38" y="26" width="1" height="1" fill="#bc1c4f"/>
<rect x="39" y="26" width="4" height="1" fill="#bc1e51"/>
<rect x="43" y="26" width="1" height="1" fill="#bc1d50"/>
<rect x="44" y="26" width="1" height="1" fill="#bc1a4d"/>
<rect x="45" y="26" width="10" height="1" fill="#bc184c"/>
<rect x="55" y="26" width="1" height="1" fill="#bc184b"/>
<rect x="56" y="26" width="1" height="1" fill="#bb1649"/>
<rect x="57" y="26" width="1" height="1" fill="#bd1d52"/>
<rect x="58" y="26" width="1" height="1" fill="#be2e63"/>
<rect x="59" y="26" width="1" height="1" fill="#c34279"/>
<rect x="0" y="27" width="1" height="1" fill="#b85890"/>
<rect x="1" y="27" width="1" height="1" fill="#b95890"/>
<rect x="2" y="27" width="1" height="1" fill="#bb5a8e"/>
<rect x="3" y="27" width="4" height="1" fill="#bc5a8e"/>
<rect x="7" y="27" width="1" height="1" fill="#bd578b"/>
<rect x="8" y="27" width="1" height="1" fill="#bf4e82"/>
<rect x="9" y="27" width="1" height="1" fill="#c04175"/>
<rect x="10" y="27" width="1" height="1" fill="#bc2255"/>
<rect x="11" y="27" width="1" height="1" fill="#bb1649"/>
<rect x="12" y="27" width="1" height="1" fill="#ba1344"/>
<rect x="13" y="27" width="4" height="1" fill="#ba1243"/>
<rect x="17" y="27" width="1" height="1" fill="#ba1344"/>
<rect x="18" y="27" width="3" height="1" fill="#ba1345"/>
<rect x="21" y="27" width="1" height="1" fill="#ba1344"/>
<rect x="22" y="27" width="5" height="1" fill="#ba1343"/>
<rect x="27" y="27" width="1" height="1" fill="#ba1142"/>
<rect x="28" y="27" width="1" height="1" fill="#b90c3d"/>
<rect x="29" y="27" width="4" height="1" fill="#b80b3b"/>
<rect x="33" y="27" width="1" height="1" fill="#b90d3d"/>
<rect x="34" y="27" width="1" height="1" fill="#ba1245"/>
<rect x="35" y="27" width="2" height="1" fill="#ba1447"/>
<rect x="37" y="27" width="1" height="1" fill="#ba1649"/>
<rect x="38" y="27" width="1" height="1" fill="#bc1c4f"/>
<rect x="39" y="27" width="4" height="1" fill="#bc1e51"/>
<rect x="43" y="27" width="1" height="1" fill="#bc1d50"/>
<rect x="44" y="27" width="1" height="1" fill="#bc1a4d"/>
<rect x="45" y="27" width="10" height="1" fill="#bc194c"/>
<rect x="55" y="27" width="1" height="1" fill="#bc184b"/>
<rect x="56" y="27" width="1" height="1" fill="#bb1648"/>
<rect x="57" y="27" width="1" height="1" fill="#bb184b"/>
<rect x="58" y="27" width="1" height="1" fill="#bd2156"/>
<rect x="59" y="27" width="1" height="1" fill="#be2c63"/>
<rect x="0" y="28" width="1" height="1" fill="#b85890"/>
<rect x="1" y="28" width="1" height="1" fill="#b95890"/>
<rect x="2" y="28" width="1" height="1" fill="#bb5a8e"/>
<rect x="3" y="28" width="4" height="1" fill="#bc5a8e"/>
<rect x="7" y="28" width="1" height="1" fill="#bd568a"/>
<rect x="8" y="28" width="1" height="1" fill="#bf497f"/>
<rect x="9" y="28" width="1" height="1" fill="#bb3a6e"/>
<rect x="10" y="28" width="1" height="1" fill="#ba1748"/>
<rect x="11" y="28" width="1" height="1" fill="#ba0b3b"/>
<rect x="12" y="28" width="1" height="1" fill="#b90938"/>
<rect x="13" y="28" width="3" height="1" fill="#b80837"/>
<rect x="16" y="28" width="1" height="1" fill="#b9093a"/>
<rect x="17" y="28" width="1" height="1" fill="#ba0e41"/>
<rect x="18" y="28" width="3" height="1" fill="#ba0f43"/>
<rect x="21" y="28" width="1" height="1" fill="#ba1043"/>
<rect x="22" y="28" width="1" height="1" fill="#ba1243"/>
<rect x="23" y="28" width="4" height="1" fill="#ba1343"/>
<rect x="27" y="28" width="1" height="1" fill="#ba1242"/>
<rect x="28" y="28" width="1" height="1" fill="#ba0f40"/>
<rect x="29" y="28" width="4" height="1" fill="#ba0e3f"/>
<rect x="33" y="28" width="1" height="1" fill="#ba0f41"/>
<rect x="34" y="28" width="1" height="1" fill="#ba1446"/>
<rect x="35" y="28" width="2" height="1" fill="#ba1548"/>
<rect x="37" y="28" width="1" height="1" fill="#ba174a"/>
<rect x="38" y="28" width="1" height="1" fill="#bc1d51"/>
<rect x="39" y="28" width="4" height="1" fill="#bc1f53"/>
<rect x="43" y="28" width="1" height="1" fill="#bc1e52"/>
<rect x="44" y="28" width="1" height="1" fill="#bc1b4e"/>
<rect x="45" y="28" width="10" height="1" fill="#bc1a4d"/>
<rect x="55" y="28" width="1" height="1" fill="#bc194d"/>
<rect x="56" y="28" width="2" height="1" fill="#ba174a"/>
<rect x="58" y="28" width="1" height="1" fill="#bb1a4e"/>
<rect x="59" y="28" width="1" height="1" fill="#bd2057"/>
<rect x="0" y="29" width="1" height="1" fill="#b85890"/>
<rect x="1" y="29" width="1" height="1" fill="#b95890"/>
<rect x="2" y="29" width="1" height="1" fill="#bb5a8e"/>
<rect x="3" y="29" width="4" height="1" fill="#bc5a8e"/>
<rect x="7" y="29" width="1" height="1" fill="#bd568a"/>
<rect x="8" y="29" width="1" height="1" fill="#bf487e"/>
<rect x="9" y="29" width="1" height="1" fill="#bb386d"/>
<rect x="10" y="29" width="1" height="1" fill="#ba1546"/>
<rect x="11" y="29" width="1" height="1" fill="#ba0838"/>
<rect x="12" y="29" width="1" height="1" fill="#b80636"/>
<rect x="13" y="29" width="3" height="1" fill="#b80635"/>
<rect x="16" y="29" width="1" height="1" fill="#b80738"/>
<rect x="17" y="29" width="1" height="1" fill="#ba0d40"/>
<rect x="18" y="29" width="3" height="1" fill="#ba0e43"/>
<rect x="21" y="29" width="1" height="1" fill="#ba0f43"/>
<rect x="22" y="29" width="1" height="1" fill="#ba1243"/>
<rect x="23" y="29" width="4" height="1" fill="#ba1343"/>
<rect x="27" y="29" width="1" height="1" fill="#ba1242"/>
<rect x="28" y="29" width="1" height="1" fill="#ba0f40"/>
<rect x="29" y="29" width="4" height="1" fill="#ba0e40"/>
<rect x="33" y="29" width="1" height="1" fill="#ba1041"/>
<rect x="34" y="29" width="1" height="1" fill="#ba1447"/>
<rect x="35" y="29" width="2" height="1" fill="#ba1648"/>
<rect x="37" y="29" width="1" height="1" fill="#ba184b"/>
<rect x="38" y="29" width="1" height="1" fill="#bc1e51"/>
<rect x="39" y="29" width="4" height="1" fill="#bc2053"/>
<rect x="43" y="29" width="1" height="1" fill="#bc1f52"/>
<rect x="44" y="29" width="1" height="1" fill="#bc1b4f"/>
<rect x="45" y="29" width="10" height="1" fill="#bc1a4e"/>
<rect x="55" y="29" width="1" height="1" fill="#bc194d"/>
<rect x="56" y="29" width="1" height="1" fill="#ba184b"/>
<rect x="57" y="29" width="1" height="1" fill="#ba174a"/>
<rect x="58" y="29" width="1" height="1" fill="#ba194d"/>
<rect x="59" y="29" width="1" height="1" fill="#bc1e54"/>
</svg><svg class="dt" style="left:1730px" width="715.0" height="356.5"><g fill="#000"><circle cx="6.6" cy="244.5" r="1.5"/><circle cx="18.4" cy="237.5" r="1.5"/><circle cx="19.3" cy="232.3" r="1.5"/><circle cx="24.2" cy="220.5" r="1.5"/><circle cx="30.4" cy="216.3" r="1.5"/><circle cx="42.6" cy="212.5" r="1.5"/><circle cx="54.4" cy="210.4" r="1.5"/><circle cx="58.4" cy="208.3" r="1.5"/><circle cx="66.6" cy="207.4" r="1.5"/><circle cx="77.4" cy="203.1" r="1.5"/><circle cx="89.4" cy="207.1" r="1.5"/><circle cx="90.6" cy="208.3" r="1.5"/><circle cx="101.4" cy="219.4" r="1.5"/><circle cx="105.4" cy="220.5" r="1.5"/><circle cx="113.4" cy="223.4" r="1.5"/><circle cx="125.4" cy="223.4" r="1.5"/><circle cx="137.4" cy="226.4" r="1.5"/><circle cx="149.4" cy="230.6" r="1.5"/><circle cx="153.4" cy="232.5" r="1.5"/><circle cx="161.4" cy="235.4" r="1.5"/><circle cx="173.4" cy="243.4" r="1.5"/><circle cx="174.6" cy="244.8" r="1.5"/><circle cx="185.4" cy="249.2" r="1.5"/><circle cx="197.4" cy="253.5" r="1.5"/><circle cx="208.5" cy="252.5" r="1.5"/><circle cx="220.2" cy="244.5" r="1.5"/><circle cx="221.4" cy="244.5" r="1.5"/><circle cx="230.6" cy="232.5" r="1.5"/><circle cx="232.5" cy="228.3" r="1.5"/><circle cx="238.4" cy="220.3" r="1.5"/><circle cx="244.6" cy="205.1" r="1.5"/><circle cx="251.4" cy="196.4" r="1.5"/><circle cx="256.4" cy="192.6" r="1.5"/><circle cx="268.4" cy="187.5" r="1.5"/><circle cx="273.3" cy="184.2" r="1.5"/><circle cx="280.4" cy="181.6" r="1.5"/><circle cx="292.4" cy="175.5" r="1.5"/><circle cx="304.4" cy="173.6" r="1.5"/><circle cx="316.4" cy="174.5" r="1.5"/><circle cx="328.4" cy="175.5" r="1.5"/><circle cx="339.4" cy="175.5" r="1.5"/><circle cx="346.5" cy="172.6" r="1.5"/><circle cx="350.9" cy="162.5" r="1.5"/><circle cx="352.1" cy="160.6" r="1.5"/><circle cx="359.4" cy="149.6" r="1.5"/><circle cx="363.4" cy="145.4" r="1.5"/><circle cx="374.5" cy="137.1" r="1.5"/><circle cx="375.6" cy="135.2" r="1.5"/><circle cx="387.4" cy="124.6" r="1.5"/><circle cx="399.4" cy="121.4" r="1.5"/><circle cx="411.4" cy="120.4" r="1.5"/><circle cx="423.4" cy="122.5" r="1.5"/><circle cx="429.3" cy="125.4" r="1.5"/><circle cx="435.4" cy="127.5" r="1.5"/><circle cx="447.4" cy="132.4" r="1.5"/><circle cx="457.1" cy="137.2" r="1.5"/><circle cx="459.5" cy="137.2" r="1.5"/><circle cx="471.6" cy="139.4" r="1.5"/><circle cx="482.4" cy="139.4" r="1.5"/><circle cx="494.3" cy="137.1" r="1.5"/><circle cx="497.2" cy="137.1" r="1.5"/><circle cx="506.4" cy="133.4" r="1.5"/><circle cx="518.2" cy="132.3" r="1.5"/><circle cx="530.3" cy="135.2" r="1.5"/><circle cx="538.5" cy="137.1" r="1.5"/><circle cx="542.2" cy="137.1" r="1.5"/><circle cx="554.3" cy="139.2" r="1.5"/><circle cx="566.2" cy="143.1" r="1.5"/><circle cx="578.3" cy="148.1" r="1.5"/><circle cx="579.3" cy="149.4" r="1.5"/><circle cx="590.4" cy="150.2" r="1.5"/><circle cx="602.3" cy="149.2" r="1.5"/><circle cx="613.3" cy="149.2" r="1.5"/><circle cx="625.4" cy="152.1" r="1.5"/><circle cx="637.3" cy="154.2" r="1.5"/><circle cx="649.4" cy="154.2" r="1.5"/><circle cx="661.3" cy="153.1" r="1.5"/><circle cx="673.4" cy="152.1" r="1.5"/><circle cx="685.2" cy="153.1" r="1.5"/><circle cx="697.4" cy="156.3" r="1.5"/><circle cx="709.5" cy="158.1" r="1.5"/></g></svg>
<div class="lg">
<div class="h" style="top:8.5px;background:#fd8d38"></div><div class="t" style="top:6px">sand</div>
<div class="h" style="top:39px;background:#cffcfc"></div><div class="t" style="top:36.8px">whitewater</div>
<div class="h" style="top:69.8px;background:#0560fb"></div><div class="t" style="top:67.2px">water</div>
<div class="h" style="top:107.8px;height:2.6px;background:#000"></div><div class="t" style="top:97.8px">shoreline</div>
<div class="h" style="top:130.4px;background:#9c2a2c;border:2px solid #8b1a1a"></div><div class="t" style="top:128.4px">reference shoreline buffer</div>
</div>
</body></html>
